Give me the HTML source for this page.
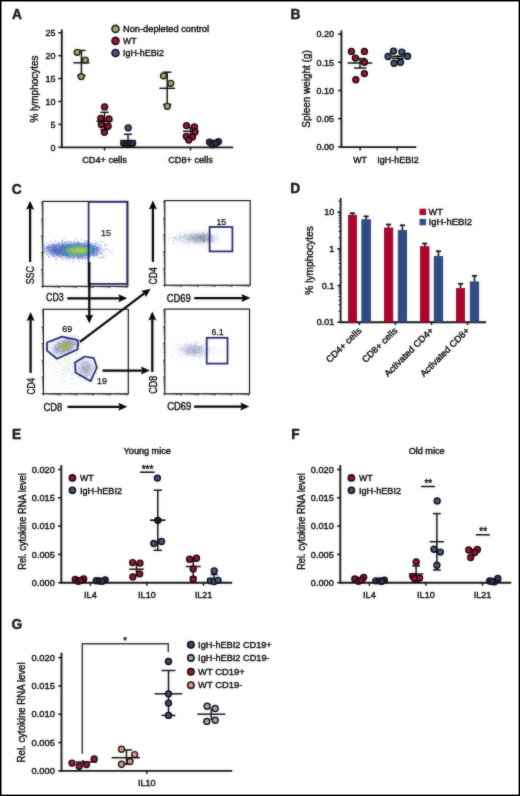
<!DOCTYPE html>
<html><head><meta charset="utf-8"><style>
html,body{margin:0;padding:0;background:#fff;}
body{width:520px;height:796px;overflow:hidden;}
svg{display:block;font-family:"Liberation Sans",sans-serif;will-change:transform;}

text{stroke:#0a0a0a;stroke-width:0.4px;}
</style></head><body>
<svg width="520" height="796" viewBox="0 0 520 796">
<defs><filter id="soft" filterUnits="userSpaceOnUse" x="0" y="0" width="520" height="796" color-interpolation-filters="sRGB"><feGaussianBlur in="SourceGraphic" stdDeviation="0.8" result="b"/><feComposite in="SourceGraphic" in2="b" operator="arithmetic" k1="0" k2="0.6" k3="0.4" k4="0"/></filter></defs>
<g filter="url(#soft)">
<rect x="0" y="0" width="520" height="796" fill="#fff"/>
<rect x="0" y="0" width="520" height="796" fill="#fff"/>
<text x="12.00" y="19.40" font-size="14.8" text-anchor="start" fill="#111" textLength="9.94" lengthAdjust="spacingAndGlyphs" font-weight="bold" >A</text>
<line x1="61.80" y1="29.40" x2="61.80" y2="148.10" stroke="#111" stroke-width="1.85" stroke-linecap="butt"/>
<line x1="61.00" y1="147.30" x2="233.20" y2="147.30" stroke="#111" stroke-width="1.85" stroke-linecap="butt"/>
<line x1="58.30" y1="32.75" x2="61.80" y2="32.75" stroke="#111" stroke-width="1.55" stroke-linecap="butt"/>
<text x="55.60" y="35.95" font-size="9.0" text-anchor="end" fill="#0a0a0a" >25</text>
<line x1="58.30" y1="55.66" x2="61.80" y2="55.66" stroke="#111" stroke-width="1.55" stroke-linecap="butt"/>
<text x="55.60" y="58.86" font-size="9.0" text-anchor="end" fill="#0a0a0a" >20</text>
<line x1="58.30" y1="78.57" x2="61.80" y2="78.57" stroke="#111" stroke-width="1.55" stroke-linecap="butt"/>
<text x="55.60" y="81.77" font-size="9.0" text-anchor="end" fill="#0a0a0a" >15</text>
<line x1="58.30" y1="101.48" x2="61.80" y2="101.48" stroke="#111" stroke-width="1.55" stroke-linecap="butt"/>
<text x="55.60" y="104.68" font-size="9.0" text-anchor="end" fill="#0a0a0a" >10</text>
<line x1="58.30" y1="124.39" x2="61.80" y2="124.39" stroke="#111" stroke-width="1.55" stroke-linecap="butt"/>
<text x="55.60" y="127.59" font-size="9.0" text-anchor="end" fill="#0a0a0a" >5</text>
<line x1="58.30" y1="147.30" x2="61.80" y2="147.30" stroke="#111" stroke-width="1.55" stroke-linecap="butt"/>
<text x="55.60" y="150.50" font-size="9.0" text-anchor="end" fill="#0a0a0a" >0</text>
<text x="38.20" y="89.00" font-size="11.3" text-anchor="middle" fill="#0a0a0a" textLength="67" lengthAdjust="spacingAndGlyphs" transform="rotate(-90 38.20 89.00)" >% lymphocytes</text>
<line x1="104.50" y1="147.30" x2="104.50" y2="150.50" stroke="#111" stroke-width="1.45" stroke-linecap="butt"/>
<line x1="190.50" y1="147.30" x2="190.50" y2="150.50" stroke="#111" stroke-width="1.45" stroke-linecap="butt"/>
<text x="104.50" y="162.80" font-size="9.1" text-anchor="middle" fill="#0a0a0a" textLength="44.5" lengthAdjust="spacingAndGlyphs" >CD4+ cells</text>
<text x="190.50" y="162.80" font-size="9.1" text-anchor="middle" fill="#0a0a0a" textLength="44.5" lengthAdjust="spacingAndGlyphs" >CD8+ cells</text>
<circle cx="115.50" cy="28.90" r="3.5" fill="#94b07a" stroke="#142008" stroke-width="1.6"/>
<text x="123.00" y="32.20" font-size="9.3" text-anchor="start" fill="#0a0a0a" textLength="86" lengthAdjust="spacingAndGlyphs" >Non-depleted control</text>
<circle cx="115.50" cy="40.90" r="3.5" fill="#9a1638" stroke="#1e0408" stroke-width="1.6"/>
<text x="123.00" y="44.20" font-size="9.3" text-anchor="start" fill="#0a0a0a" textLength="13.5" lengthAdjust="spacingAndGlyphs" >WT</text>
<circle cx="115.50" cy="53.00" r="3.5" fill="#4b5779" stroke="#0a0e1a" stroke-width="1.6"/>
<text x="123.00" y="56.30" font-size="9.3" text-anchor="start" fill="#0a0a0a" textLength="41" lengthAdjust="spacingAndGlyphs" >IgH-hEBI2</text>
<line x1="81.40" y1="50.50" x2="81.40" y2="75.50" stroke="#111" stroke-width="1.5" stroke-linecap="butt"/>
<line x1="77.15" y1="50.50" x2="85.65" y2="50.50" stroke="#111" stroke-width="1.5" stroke-linecap="butt"/>
<line x1="77.15" y1="75.50" x2="85.65" y2="75.50" stroke="#111" stroke-width="1.5" stroke-linecap="butt"/>
<line x1="73.40" y1="62.80" x2="89.40" y2="62.80" stroke="#111" stroke-width="1.5" stroke-linecap="butt"/>
<circle cx="77.20" cy="52.30" r="2.95" fill="#94b07a" stroke="#142008" stroke-width="1.45"/>
<circle cx="85.30" cy="60.10" r="2.95" fill="#94b07a" stroke="#142008" stroke-width="1.45"/>
<circle cx="81.20" cy="76.60" r="2.95" fill="#94b07a" stroke="#142008" stroke-width="1.45"/>
<line x1="104.50" y1="112.30" x2="104.50" y2="129.50" stroke="#111" stroke-width="1.5" stroke-linecap="butt"/>
<line x1="100.25" y1="112.30" x2="108.75" y2="112.30" stroke="#111" stroke-width="1.5" stroke-linecap="butt"/>
<line x1="100.25" y1="129.50" x2="108.75" y2="129.50" stroke="#111" stroke-width="1.5" stroke-linecap="butt"/>
<line x1="96.50" y1="121.20" x2="112.50" y2="121.20" stroke="#111" stroke-width="1.5" stroke-linecap="butt"/>
<circle cx="104.60" cy="106.90" r="2.95" fill="#9a1638" stroke="#1e0408" stroke-width="1.45"/>
<circle cx="100.80" cy="118.30" r="2.95" fill="#9a1638" stroke="#1e0408" stroke-width="1.45"/>
<circle cx="109.00" cy="119.00" r="2.95" fill="#9a1638" stroke="#1e0408" stroke-width="1.45"/>
<circle cx="101.30" cy="124.50" r="2.95" fill="#9a1638" stroke="#1e0408" stroke-width="1.45"/>
<circle cx="108.10" cy="126.20" r="2.95" fill="#9a1638" stroke="#1e0408" stroke-width="1.45"/>
<circle cx="104.40" cy="132.20" r="2.95" fill="#9a1638" stroke="#1e0408" stroke-width="1.45"/>
<line x1="128.00" y1="134.30" x2="128.00" y2="146.00" stroke="#111" stroke-width="1.5" stroke-linecap="butt"/>
<line x1="124.00" y1="134.30" x2="132.00" y2="134.30" stroke="#111" stroke-width="1.5" stroke-linecap="butt"/>
<line x1="124.00" y1="146.00" x2="132.00" y2="146.00" stroke="#111" stroke-width="1.5" stroke-linecap="butt"/>
<line x1="120.20" y1="140.60" x2="135.80" y2="140.60" stroke="#111" stroke-width="1.5" stroke-linecap="butt"/>
<circle cx="128.20" cy="127.80" r="2.95" fill="#4b5779" stroke="#0a0e1a" stroke-width="1.45"/>
<circle cx="123.70" cy="143.30" r="2.95" fill="#2e3650" stroke="#0a0e1a" stroke-width="1.45"/>
<circle cx="126.80" cy="143.60" r="2.95" fill="#2e3650" stroke="#0a0e1a" stroke-width="1.45"/>
<circle cx="129.70" cy="143.40" r="2.95" fill="#2e3650" stroke="#0a0e1a" stroke-width="1.45"/>
<circle cx="132.60" cy="143.30" r="2.95" fill="#2e3650" stroke="#0a0e1a" stroke-width="1.45"/>
<line x1="167.20" y1="72.20" x2="167.20" y2="104.40" stroke="#111" stroke-width="1.5" stroke-linecap="butt"/>
<line x1="162.95" y1="72.20" x2="171.45" y2="72.20" stroke="#111" stroke-width="1.5" stroke-linecap="butt"/>
<line x1="162.95" y1="104.40" x2="171.45" y2="104.40" stroke="#111" stroke-width="1.5" stroke-linecap="butt"/>
<line x1="159.35" y1="88.30" x2="175.05" y2="88.30" stroke="#111" stroke-width="1.5" stroke-linecap="butt"/>
<circle cx="163.50" cy="75.80" r="2.95" fill="#94b07a" stroke="#142008" stroke-width="1.45"/>
<circle cx="170.70" cy="83.30" r="2.95" fill="#94b07a" stroke="#142008" stroke-width="1.45"/>
<circle cx="167.30" cy="106.30" r="2.95" fill="#94b07a" stroke="#142008" stroke-width="1.45"/>
<line x1="190.50" y1="127.50" x2="190.50" y2="137.00" stroke="#111" stroke-width="1.5" stroke-linecap="butt"/>
<line x1="186.50" y1="127.50" x2="194.50" y2="127.50" stroke="#111" stroke-width="1.5" stroke-linecap="butt"/>
<line x1="186.50" y1="137.00" x2="194.50" y2="137.00" stroke="#111" stroke-width="1.5" stroke-linecap="butt"/>
<line x1="183.00" y1="131.30" x2="198.00" y2="131.30" stroke="#111" stroke-width="1.5" stroke-linecap="butt"/>
<circle cx="186.50" cy="125.60" r="2.95" fill="#9a1638" stroke="#1e0408" stroke-width="1.45"/>
<circle cx="194.40" cy="126.90" r="2.95" fill="#9a1638" stroke="#1e0408" stroke-width="1.45"/>
<circle cx="195.00" cy="131.90" r="2.95" fill="#9a1638" stroke="#1e0408" stroke-width="1.45"/>
<circle cx="186.30" cy="136.30" r="2.95" fill="#9a1638" stroke="#1e0408" stroke-width="1.45"/>
<circle cx="192.50" cy="136.90" r="2.95" fill="#9a1638" stroke="#1e0408" stroke-width="1.45"/>
<circle cx="188.80" cy="140.00" r="2.95" fill="#9a1638" stroke="#1e0408" stroke-width="1.45"/>
<line x1="213.50" y1="140.50" x2="213.50" y2="145.00" stroke="#111" stroke-width="1.5" stroke-linecap="butt"/>
<line x1="210.00" y1="140.50" x2="217.00" y2="140.50" stroke="#111" stroke-width="1.5" stroke-linecap="butt"/>
<line x1="210.00" y1="145.00" x2="217.00" y2="145.00" stroke="#111" stroke-width="1.5" stroke-linecap="butt"/>
<line x1="206.50" y1="142.50" x2="220.50" y2="142.50" stroke="#111" stroke-width="1.5" stroke-linecap="butt"/>
<circle cx="209.50" cy="142.10" r="2.95" fill="#2e3650" stroke="#0a0e1a" stroke-width="1.45"/>
<circle cx="218.50" cy="141.60" r="2.95" fill="#2e3650" stroke="#0a0e1a" stroke-width="1.45"/>
<circle cx="212.40" cy="144.80" r="2.95" fill="#2e3650" stroke="#0a0e1a" stroke-width="1.45"/>
<circle cx="215.60" cy="143.40" r="2.95" fill="#2e3650" stroke="#0a0e1a" stroke-width="1.45"/>
<text x="290.50" y="19.30" font-size="14.8" text-anchor="start" fill="#111" textLength="9.94" lengthAdjust="spacingAndGlyphs" font-weight="bold" >B</text>
<line x1="341.40" y1="30.40" x2="341.40" y2="147.70" stroke="#111" stroke-width="1.85" stroke-linecap="butt"/>
<line x1="340.60" y1="147.10" x2="416.30" y2="147.10" stroke="#111" stroke-width="1.85" stroke-linecap="butt"/>
<line x1="338.10" y1="34.10" x2="341.40" y2="34.10" stroke="#111" stroke-width="1.55" stroke-linecap="butt"/>
<text x="334.00" y="37.30" font-size="9.0" text-anchor="end" fill="#0a0a0a" textLength="17.6" lengthAdjust="spacingAndGlyphs" >0.20</text>
<line x1="338.10" y1="62.30" x2="341.40" y2="62.30" stroke="#111" stroke-width="1.55" stroke-linecap="butt"/>
<text x="334.00" y="65.50" font-size="9.0" text-anchor="end" fill="#0a0a0a" textLength="17.6" lengthAdjust="spacingAndGlyphs" >0.15</text>
<line x1="338.10" y1="90.50" x2="341.40" y2="90.50" stroke="#111" stroke-width="1.55" stroke-linecap="butt"/>
<text x="334.00" y="93.70" font-size="9.0" text-anchor="end" fill="#0a0a0a" textLength="17.6" lengthAdjust="spacingAndGlyphs" >0.10</text>
<line x1="338.10" y1="118.70" x2="341.40" y2="118.70" stroke="#111" stroke-width="1.55" stroke-linecap="butt"/>
<text x="334.00" y="121.90" font-size="9.0" text-anchor="end" fill="#0a0a0a" textLength="17.6" lengthAdjust="spacingAndGlyphs" >0.05</text>
<line x1="338.10" y1="146.90" x2="341.40" y2="146.90" stroke="#111" stroke-width="1.55" stroke-linecap="butt"/>
<text x="334.00" y="150.10" font-size="9.0" text-anchor="end" fill="#0a0a0a" textLength="17.6" lengthAdjust="spacingAndGlyphs" >0.00</text>
<text x="310.20" y="89.00" font-size="11.0" text-anchor="middle" fill="#0a0a0a" textLength="77.5" lengthAdjust="spacingAndGlyphs" transform="rotate(-90 310.20 89.00)" >Spleen weight (g)</text>
<line x1="360.10" y1="147.10" x2="360.10" y2="150.60" stroke="#111" stroke-width="1.45" stroke-linecap="butt"/>
<line x1="397.30" y1="147.10" x2="397.30" y2="150.60" stroke="#111" stroke-width="1.45" stroke-linecap="butt"/>
<text x="360.10" y="162.70" font-size="9.1" text-anchor="middle" fill="#0a0a0a" textLength="13.8" lengthAdjust="spacingAndGlyphs" >WT</text>
<text x="398.00" y="162.70" font-size="9.1" text-anchor="middle" fill="#0a0a0a" textLength="41.5" lengthAdjust="spacingAndGlyphs" >IgH-hEBI2</text>
<line x1="360.00" y1="58.60" x2="360.00" y2="68.00" stroke="#111" stroke-width="1.5" stroke-linecap="butt"/>
<line x1="354.00" y1="58.60" x2="366.00" y2="58.60" stroke="#111" stroke-width="1.5" stroke-linecap="butt"/>
<line x1="354.00" y1="68.00" x2="366.50" y2="68.00" stroke="#111" stroke-width="1.5" stroke-linecap="butt"/>
<line x1="347.70" y1="63.00" x2="372.30" y2="63.00" stroke="#111" stroke-width="1.55" stroke-linecap="butt"/>
<circle cx="351.40" cy="51.40" r="2.95" fill="#9a1638" stroke="#1e0408" stroke-width="1.45"/>
<circle cx="364.40" cy="51.40" r="2.95" fill="#9a1638" stroke="#1e0408" stroke-width="1.45"/>
<circle cx="355.40" cy="58.10" r="2.95" fill="#9a1638" stroke="#1e0408" stroke-width="1.45"/>
<circle cx="364.40" cy="62.20" r="2.95" fill="#9a1638" stroke="#1e0408" stroke-width="1.45"/>
<circle cx="364.40" cy="73.60" r="2.95" fill="#9a1638" stroke="#1e0408" stroke-width="1.45"/>
<circle cx="355.80" cy="79.70" r="2.95" fill="#9a1638" stroke="#1e0408" stroke-width="1.45"/>
<circle cx="393.50" cy="51.10" r="2.95" fill="#4b5779" stroke="#0a0e1a" stroke-width="1.45"/>
<circle cx="401.90" cy="52.10" r="2.95" fill="#4b5779" stroke="#0a0e1a" stroke-width="1.45"/>
<circle cx="388.10" cy="56.50" r="2.95" fill="#4b5779" stroke="#0a0e1a" stroke-width="1.45"/>
<circle cx="407.60" cy="56.20" r="2.95" fill="#4b5779" stroke="#0a0e1a" stroke-width="1.45"/>
<circle cx="394.10" cy="63.20" r="2.95" fill="#4b5779" stroke="#0a0e1a" stroke-width="1.45"/>
<circle cx="400.50" cy="62.20" r="2.95" fill="#4b5779" stroke="#0a0e1a" stroke-width="1.45"/>
<line x1="391.80" y1="56.30" x2="403.90" y2="56.30" stroke="#111" stroke-width="1.45" stroke-linecap="butt"/>
<line x1="391.80" y1="58.30" x2="403.90" y2="58.30" stroke="#111" stroke-width="1.45" stroke-linecap="butt"/>
<line x1="397.80" y1="55.00" x2="397.80" y2="59.50" stroke="#111" stroke-width="1.45" stroke-linecap="butt"/>
<text x="11.80" y="194.40" font-size="14.8" text-anchor="start" fill="#111" textLength="9.9" lengthAdjust="spacingAndGlyphs" font-weight="bold">C</text>
<defs><filter id="bl" x="-50%" y="-50%" width="200%" height="200%"><feGaussianBlur stdDeviation="2.2"/></filter><filter id="bl2" x="-50%" y="-50%" width="200%" height="200%"><feGaussianBlur stdDeviation="1.2"/></filter></defs>
<ellipse cx="73" cy="250.0" rx="26" ry="6.2" fill="#3a5cb8" opacity="0.72" filter="url(#bl)"/>
<ellipse cx="79" cy="250.4" rx="15" ry="3.4" fill="#4aa0a0" opacity="0.85" filter="url(#bl2)"/>
<ellipse cx="80" cy="250.4" rx="11.5" ry="2.5" fill="#98c850" opacity="0.95" filter="url(#bl2)"/>
<path d="M104.7 248.9h.8v.8h-.8zM112.0 249.8h.8v.8h-.8zM103.3 256.7h.8v.8h-.8zM76.8 241.0h.8v.8h-.8zM87.1 258.8h.8v.8h-.8zM103.9 252.3h.8v.8h-.8zM68.1 240.7h.8v.8h-.8zM56.5 263.2h.8v.8h-.8zM85.0 241.9h.8v.8h-.8zM55.3 244.4h.8v.8h-.8zM86.6 242.1h.8v.8h-.8zM70.7 241.0h.8v.8h-.8zM87.9 241.0h.8v.8h-.8zM106.3 248.7h.8v.8h-.8zM100.8 247.7h.8v.8h-.8zM66.4 257.9h.8v.8h-.8zM86.1 263.3h.8v.8h-.8zM66.3 242.4h.8v.8h-.8zM95.4 240.2h.8v.8h-.8zM101.8 253.5h.8v.8h-.8zM77.4 258.4h.8v.8h-.8zM81.7 259.1h.8v.8h-.8zM101.2 252.5h.8v.8h-.8zM103.0 249.4h.8v.8h-.8zM46.4 248.7h.8v.8h-.8zM103.7 249.9h.8v.8h-.8zM79.2 260.6h.8v.8h-.8zM55.0 240.6h.8v.8h-.8zM78.2 241.4h.8v.8h-.8zM99.7 245.6h.8v.8h-.8zM76.6 238.4h.8v.8h-.8zM69.3 259.7h.8v.8h-.8zM45.4 247.2h.8v.8h-.8zM102.1 252.8h.8v.8h-.8zM72.5 261.4h.8v.8h-.8zM50.2 240.9h.8v.8h-.8zM43.5 252.4h.8v.8h-.8zM109.9 250.8h.8v.8h-.8zM86.8 258.7h.8v.8h-.8zM63.6 257.7h.8v.8h-.8zM98.2 257.2h.8v.8h-.8zM105.2 243.6h.8v.8h-.8zM102.6 249.3h.8v.8h-.8zM101.1 244.8h.8v.8h-.8zM104.2 245.8h.8v.8h-.8zM70.1 258.3h.8v.8h-.8zM102.9 241.4h.8v.8h-.8zM68.0 241.6h.8v.8h-.8zM103.1 255.8h.8v.8h-.8zM54.9 255.8h.8v.8h-.8zM111.6 252.7h.8v.8h-.8zM47.4 252.1h.8v.8h-.8zM54.2 255.4h.8v.8h-.8zM64.0 242.5h.8v.8h-.8zM61.5 241.8h.8v.8h-.8zM52.9 243.7h.8v.8h-.8zM50.4 245.4h.8v.8h-.8zM106.4 245.4h.8v.8h-.8zM73.4 258.9h.8v.8h-.8zM100.2 240.8h.8v.8h-.8zM45.4 247.8h.8v.8h-.8zM102.0 257.1h.8v.8h-.8zM46.5 254.1h.8v.8h-.8zM75.5 238.6h.8v.8h-.8zM100.2 258.2h.8v.8h-.8zM105.7 254.9h.8v.8h-.8zM45.7 249.6h.8v.8h-.8zM46.6 253.4h.8v.8h-.8zM98.6 244.4h.8v.8h-.8zM105.9 248.1h.8v.8h-.8zM64.3 237.4h.8v.8h-.8zM85.0 261.3h.8v.8h-.8zM95.9 242.6h.8v.8h-.8zM67.6 259.4h.8v.8h-.8zM96.1 255.5h.8v.8h-.8zM49.3 244.6h.8v.8h-.8zM103.7 255.6h.8v.8h-.8zM48.6 247.2h.8v.8h-.8zM61.8 240.1h.8v.8h-.8zM66.2 258.8h.8v.8h-.8zM49.6 246.8h.8v.8h-.8zM64.3 242.2h.8v.8h-.8zM43.5 246.2h.8v.8h-.8zM97.3 244.9h.8v.8h-.8zM62.2 242.8h.8v.8h-.8zM101.1 253.0h.8v.8h-.8zM81.7 259.2h.8v.8h-.8zM97.3 255.8h.8v.8h-.8zM104.3 246.1h.8v.8h-.8zM100.7 247.3h.8v.8h-.8zM93.7 243.1h.8v.8h-.8zM43.8 248.8h.8v.8h-.8zM96.1 243.0h.8v.8h-.8zM86.5 240.1h.8v.8h-.8zM104.9 243.9h.8v.8h-.8zM101.4 247.8h.8v.8h-.8zM61.3 257.4h.8v.8h-.8zM74.2 258.9h.8v.8h-.8zM86.1 240.2h.8v.8h-.8zM87.7 258.5h.8v.8h-.8zM47.3 250.1h.8v.8h-.8zM47.2 246.9h.8v.8h-.8zM101.1 248.9h.8v.8h-.8zM79.8 258.5h.8v.8h-.8zM100.9 256.8h.8v.8h-.8zM80.5 239.0h.8v.8h-.8zM48.6 246.2h.8v.8h-.8zM66.0 241.6h.8v.8h-.8zM63.5 257.6h.8v.8h-.8zM58.1 243.0h.8v.8h-.8zM44.6 251.5h.8v.8h-.8zM62.9 260.0h.8v.8h-.8zM73.4 240.8h.8v.8h-.8zM86.3 257.9h.8v.8h-.8zM74.0 240.8h.8v.8h-.8zM47.6 246.0h.8v.8h-.8zM95.2 243.7h.8v.8h-.8zM94.1 257.9h.8v.8h-.8zM54.6 258.8h.8v.8h-.8zM101.5 242.0h.8v.8h-.8zM48.4 246.6h.8v.8h-.8zM61.3 258.3h.8v.8h-.8zM44.2 251.6h.8v.8h-.8zM53.0 245.4h.8v.8h-.8zM69.1 241.8h.8v.8h-.8zM100.2 256.9h.8v.8h-.8zM59.2 242.0h.8v.8h-.8zM97.4 241.3h.8v.8h-.8zM72.2 261.6h.8v.8h-.8zM93.5 243.0h.8v.8h-.8zM84.3 240.3h.8v.8h-.8zM62.2 241.1h.8v.8h-.8zM62.2 240.7h.8v.8h-.8zM54.2 255.3h.8v.8h-.8zM69.1 258.0h.8v.8h-.8zM99.3 253.8h.8v.8h-.8zM97.9 243.0h.8v.8h-.8zM56.3 258.1h.8v.8h-.8zM58.9 256.6h.8v.8h-.8zM99.0 244.3h.8v.8h-.8zM108.5 250.2h.8v.8h-.8zM87.3 242.1h.8v.8h-.8zM50.5 244.3h.8v.8h-.8z" fill="#5a70c8" fill-opacity="0.8"/>
<path d="M62.0 245.1h.8v.8h-.8zM94.3 253.7h.8v.8h-.8zM53.9 252.7h.8v.8h-.8zM97.7 248.1h.8v.8h-.8zM96.7 248.8h.8v.8h-.8zM69.3 257.4h.8v.8h-.8zM53.9 246.6h.8v.8h-.8zM94.5 246.2h.8v.8h-.8zM77.9 257.1h.8v.8h-.8zM53.5 247.3h.8v.8h-.8zM59.9 256.1h.8v.8h-.8zM100.8 250.9h.8v.8h-.8zM76.5 241.9h.8v.8h-.8zM95.4 245.5h.8v.8h-.8zM57.5 253.3h.8v.8h-.8zM99.6 249.7h.8v.8h-.8zM54.1 252.6h.8v.8h-.8zM51.4 252.9h.8v.8h-.8zM89.1 243.7h.8v.8h-.8zM68.3 256.7h.8v.8h-.8zM70.0 256.3h.8v.8h-.8zM59.5 254.2h.8v.8h-.8zM57.4 244.1h.8v.8h-.8zM92.0 245.3h.8v.8h-.8zM74.5 243.1h.8v.8h-.8zM83.9 257.9h.8v.8h-.8zM54.9 248.5h.8v.8h-.8zM65.9 257.5h.8v.8h-.8zM56.2 248.0h.8v.8h-.8zM66.4 255.8h.8v.8h-.8zM91.1 243.3h.8v.8h-.8zM84.1 257.2h.8v.8h-.8zM58.6 254.0h.8v.8h-.8zM87.6 242.5h.8v.8h-.8zM77.5 243.1h.8v.8h-.8zM55.9 251.5h.8v.8h-.8zM70.8 243.0h.8v.8h-.8zM93.1 245.7h.8v.8h-.8zM71.2 242.8h.8v.8h-.8zM97.0 249.3h.8v.8h-.8zM78.2 243.4h.8v.8h-.8zM95.4 245.3h.8v.8h-.8zM70.9 243.9h.8v.8h-.8zM78.8 258.3h.8v.8h-.8zM56.0 255.2h.8v.8h-.8zM98.4 253.7h.8v.8h-.8zM97.3 249.1h.8v.8h-.8zM94.9 255.3h.8v.8h-.8zM96.7 246.1h.8v.8h-.8zM78.1 242.7h.8v.8h-.8zM95.7 254.4h.8v.8h-.8zM98.5 246.8h.8v.8h-.8zM55.4 248.1h.8v.8h-.8zM76.6 241.9h.8v.8h-.8zM82.1 256.4h.8v.8h-.8zM55.4 249.1h.8v.8h-.8zM90.0 244.5h.8v.8h-.8zM89.5 243.1h.8v.8h-.8zM52.5 245.8h.8v.8h-.8zM77.1 257.9h.8v.8h-.8zM61.7 254.9h.8v.8h-.8zM89.0 255.3h.8v.8h-.8zM97.6 250.1h.8v.8h-.8zM89.6 244.2h.8v.8h-.8zM89.4 256.0h.8v.8h-.8zM81.0 243.0h.8v.8h-.8zM96.5 249.2h.8v.8h-.8zM54.4 249.6h.8v.8h-.8zM88.3 255.4h.8v.8h-.8zM73.3 243.0h.8v.8h-.8zM93.3 256.2h.8v.8h-.8zM92.4 254.9h.8v.8h-.8zM71.8 257.9h.8v.8h-.8zM89.3 243.7h.8v.8h-.8zM51.2 246.7h.8v.8h-.8zM51.4 253.4h.8v.8h-.8zM74.4 241.9h.8v.8h-.8zM64.8 243.4h.8v.8h-.8zM56.7 253.3h.8v.8h-.8zM51.4 246.7h.8v.8h-.8zM93.4 253.9h.8v.8h-.8zM93.5 245.7h.8v.8h-.8zM100.0 251.6h.8v.8h-.8zM86.4 257.3h.8v.8h-.8zM95.4 245.5h.8v.8h-.8zM66.3 244.2h.8v.8h-.8zM78.9 256.9h.8v.8h-.8zM87.3 257.5h.8v.8h-.8zM52.0 249.7h.8v.8h-.8zM56.6 252.4h.8v.8h-.8zM83.0 243.5h.8v.8h-.8zM53.5 246.6h.8v.8h-.8zM77.0 256.8h.8v.8h-.8zM98.6 253.6h.8v.8h-.8zM94.7 253.7h.8v.8h-.8zM87.6 244.2h.8v.8h-.8zM57.9 254.6h.8v.8h-.8zM61.1 254.5h.8v.8h-.8zM96.9 253.9h.8v.8h-.8zM68.1 255.8h.8v.8h-.8zM55.7 247.2h.8v.8h-.8zM95.1 247.7h.8v.8h-.8zM74.7 257.1h.8v.8h-.8zM54.5 247.3h.8v.8h-.8zM62.3 256.5h.8v.8h-.8zM97.2 248.4h.8v.8h-.8zM89.5 256.5h.8v.8h-.8zM89.3 244.0h.8v.8h-.8zM87.8 244.0h.8v.8h-.8zM85.0 243.1h.8v.8h-.8zM61.4 245.6h.8v.8h-.8zM84.9 257.3h.8v.8h-.8zM54.2 252.5h.8v.8h-.8zM53.9 248.8h.8v.8h-.8zM58.6 254.1h.8v.8h-.8zM87.0 244.3h.8v.8h-.8zM64.9 244.2h.8v.8h-.8zM84.8 257.5h.8v.8h-.8zM57.2 244.7h.8v.8h-.8zM93.4 254.8h.8v.8h-.8zM56.0 254.4h.8v.8h-.8zM96.4 247.3h.8v.8h-.8zM78.9 256.9h.8v.8h-.8zM79.9 256.8h.8v.8h-.8zM89.5 244.8h.8v.8h-.8zM50.0 247.5h.8v.8h-.8zM91.5 244.6h.8v.8h-.8zM58.2 254.8h.8v.8h-.8zM56.6 244.5h.8v.8h-.8zM55.9 253.2h.8v.8h-.8zM72.8 257.5h.8v.8h-.8zM72.8 257.3h.8v.8h-.8zM87.4 243.3h.8v.8h-.8zM96.3 254.7h.8v.8h-.8zM78.5 256.9h.8v.8h-.8zM76.1 243.5h.8v.8h-.8zM98.7 250.7h.8v.8h-.8zM99.0 247.2h.8v.8h-.8zM92.5 254.3h.8v.8h-.8zM89.5 255.8h.8v.8h-.8zM62.1 244.2h.8v.8h-.8zM62.4 243.5h.8v.8h-.8zM48.7 250.0h.8v.8h-.8zM97.1 252.2h.8v.8h-.8zM68.4 256.4h.8v.8h-.8zM93.1 254.8h.8v.8h-.8zM52.9 248.4h.8v.8h-.8zM93.5 255.4h.8v.8h-.8zM60.5 254.3h.8v.8h-.8zM96.2 252.8h.8v.8h-.8zM69.6 256.9h.8v.8h-.8zM95.2 248.0h.8v.8h-.8zM72.0 257.3h.8v.8h-.8zM91.5 244.2h.8v.8h-.8zM63.0 255.1h.8v.8h-.8zM89.8 244.7h.8v.8h-.8zM79.8 243.1h.8v.8h-.8zM96.1 250.6h.8v.8h-.8zM81.0 257.8h.8v.8h-.8zM78.1 257.8h.8v.8h-.8zM83.3 243.6h.8v.8h-.8zM66.0 255.7h.8v.8h-.8zM53.4 251.1h.8v.8h-.8zM84.7 257.5h.8v.8h-.8zM82.4 256.7h.8v.8h-.8zM97.0 247.1h.8v.8h-.8zM87.5 244.0h.8v.8h-.8zM78.1 258.2h.8v.8h-.8zM72.2 257.1h.8v.8h-.8zM88.1 244.1h.8v.8h-.8zM69.1 243.8h.8v.8h-.8zM72.9 243.3h.8v.8h-.8zM65.3 255.6h.8v.8h-.8zM55.3 244.7h.8v.8h-.8zM90.5 245.2h.8v.8h-.8zM83.5 242.5h.8v.8h-.8zM65.2 244.6h.8v.8h-.8zM95.8 248.5h.8v.8h-.8zM98.4 251.7h.8v.8h-.8zM97.7 247.9h.8v.8h-.8zM82.6 257.5h.8v.8h-.8zM55.5 254.7h.8v.8h-.8zM77.8 256.7h.8v.8h-.8zM71.0 256.2h.8v.8h-.8zM57.7 255.7h.8v.8h-.8zM96.4 249.0h.8v.8h-.8zM81.6 256.4h.8v.8h-.8zM87.3 243.5h.8v.8h-.8zM72.8 256.7h.8v.8h-.8zM87.3 243.2h.8v.8h-.8zM55.1 252.5h.8v.8h-.8zM55.2 253.0h.8v.8h-.8zM94.0 244.8h.8v.8h-.8zM96.7 252.8h.8v.8h-.8zM56.5 245.5h.8v.8h-.8zM84.1 242.2h.8v.8h-.8zM91.9 244.7h.8v.8h-.8zM95.5 246.4h.8v.8h-.8zM96.5 251.4h.8v.8h-.8zM55.1 250.0h.8v.8h-.8zM96.6 253.6h.8v.8h-.8zM52.6 251.5h.8v.8h-.8zM96.7 252.3h.8v.8h-.8zM79.0 243.3h.8v.8h-.8zM89.3 244.8h.8v.8h-.8zM77.3 242.4h.8v.8h-.8zM99.7 247.9h.8v.8h-.8zM53.0 246.3h.8v.8h-.8zM98.1 250.0h.8v.8h-.8zM52.7 247.8h.8v.8h-.8zM58.2 245.7h.8v.8h-.8zM54.7 246.3h.8v.8h-.8zM73.4 256.4h.8v.8h-.8zM96.7 249.6h.8v.8h-.8zM53.7 249.8h.8v.8h-.8zM59.2 255.9h.8v.8h-.8zM89.8 255.2h.8v.8h-.8zM93.3 246.1h.8v.8h-.8zM93.6 246.1h.8v.8h-.8zM98.0 247.7h.8v.8h-.8zM89.2 244.4h.8v.8h-.8zM66.9 243.5h.8v.8h-.8zM93.4 254.0h.8v.8h-.8zM82.1 257.7h.8v.8h-.8zM62.8 244.8h.8v.8h-.8zM91.8 254.9h.8v.8h-.8zM55.1 251.1h.8v.8h-.8zM83.5 243.1h.8v.8h-.8zM89.2 244.3h.8v.8h-.8zM96.3 254.4h.8v.8h-.8zM89.1 256.0h.8v.8h-.8zM79.7 243.0h.8v.8h-.8zM81.5 258.1h.8v.8h-.8zM74.5 243.5h.8v.8h-.8zM96.8 247.4h.8v.8h-.8zM95.9 250.6h.8v.8h-.8zM85.1 257.8h.8v.8h-.8z" fill="#3456b8" fill-opacity="0.8"/>
<path d="M60.4 249.8h.8v.8h-.8zM68.0 245.7h.8v.8h-.8zM59.1 249.3h.8v.8h-.8zM58.4 250.0h.8v.8h-.8zM87.4 245.0h.8v.8h-.8zM91.6 252.4h.8v.8h-.8zM95.4 248.6h.8v.8h-.8zM84.9 255.7h.8v.8h-.8zM88.8 254.0h.8v.8h-.8zM87.7 245.7h.8v.8h-.8zM90.2 252.7h.8v.8h-.8zM79.6 255.1h.8v.8h-.8zM89.0 246.5h.8v.8h-.8zM80.1 255.9h.8v.8h-.8zM86.2 255.4h.8v.8h-.8zM93.5 249.3h.8v.8h-.8zM72.3 245.3h.8v.8h-.8zM93.1 250.7h.8v.8h-.8zM56.5 250.7h.8v.8h-.8zM77.2 244.1h.8v.8h-.8zM66.3 254.6h.8v.8h-.8zM87.5 246.3h.8v.8h-.8zM62.3 247.4h.8v.8h-.8zM91.5 252.6h.8v.8h-.8zM77.3 245.0h.8v.8h-.8zM93.4 253.2h.8v.8h-.8zM92.3 251.0h.8v.8h-.8zM72.4 255.4h.8v.8h-.8zM91.2 246.9h.8v.8h-.8zM69.4 255.0h.8v.8h-.8zM74.3 245.2h.8v.8h-.8zM65.0 246.0h.8v.8h-.8zM61.3 245.8h.8v.8h-.8zM93.6 247.5h.8v.8h-.8zM65.0 245.3h.8v.8h-.8zM56.7 249.4h.8v.8h-.8zM87.2 245.1h.8v.8h-.8zM73.4 255.9h.8v.8h-.8zM84.0 254.9h.8v.8h-.8zM67.0 254.2h.8v.8h-.8zM91.8 253.8h.8v.8h-.8zM83.0 255.1h.8v.8h-.8zM87.2 245.8h.8v.8h-.8zM80.1 256.1h.8v.8h-.8zM61.6 253.3h.8v.8h-.8zM55.4 249.8h.8v.8h-.8zM57.7 249.9h.8v.8h-.8zM66.4 245.9h.8v.8h-.8zM93.3 250.0h.8v.8h-.8zM71.8 243.9h.8v.8h-.8zM61.8 245.9h.8v.8h-.8zM93.2 249.8h.8v.8h-.8zM59.7 246.3h.8v.8h-.8zM60.4 249.1h.8v.8h-.8zM74.4 255.9h.8v.8h-.8zM88.3 255.3h.8v.8h-.8zM59.5 252.0h.8v.8h-.8zM82.0 244.8h.8v.8h-.8zM62.4 247.1h.8v.8h-.8zM91.9 252.9h.8v.8h-.8zM60.2 248.3h.8v.8h-.8zM84.1 245.1h.8v.8h-.8zM82.4 255.4h.8v.8h-.8zM75.6 244.2h.8v.8h-.8zM64.9 254.8h.8v.8h-.8zM86.5 255.7h.8v.8h-.8zM93.2 248.8h.8v.8h-.8zM91.2 252.7h.8v.8h-.8zM89.2 254.9h.8v.8h-.8zM93.6 248.9h.8v.8h-.8zM75.0 244.1h.8v.8h-.8zM85.8 245.0h.8v.8h-.8zM92.8 248.6h.8v.8h-.8zM57.2 249.1h.8v.8h-.8zM89.9 253.6h.8v.8h-.8zM80.5 256.0h.8v.8h-.8zM86.9 255.7h.8v.8h-.8zM74.6 245.0h.8v.8h-.8zM91.8 248.6h.8v.8h-.8zM57.3 251.2h.8v.8h-.8zM65.4 254.5h.8v.8h-.8zM86.0 245.1h.8v.8h-.8zM62.8 253.5h.8v.8h-.8zM69.4 244.6h.8v.8h-.8zM86.0 245.6h.8v.8h-.8zM58.8 249.6h.8v.8h-.8zM61.4 253.4h.8v.8h-.8zM68.7 245.6h.8v.8h-.8zM67.9 254.6h.8v.8h-.8zM85.3 245.3h.8v.8h-.8zM88.9 254.7h.8v.8h-.8zM59.8 247.3h.8v.8h-.8zM84.6 245.3h.8v.8h-.8zM79.7 255.0h.8v.8h-.8zM68.1 244.5h.8v.8h-.8zM65.2 253.4h.8v.8h-.8zM92.1 248.7h.8v.8h-.8zM63.8 245.9h.8v.8h-.8zM79.8 243.7h.8v.8h-.8zM76.9 244.9h.8v.8h-.8zM93.6 251.9h.8v.8h-.8zM81.9 256.2h.8v.8h-.8zM83.2 255.1h.8v.8h-.8zM64.6 254.0h.8v.8h-.8zM89.0 246.6h.8v.8h-.8zM92.3 247.5h.8v.8h-.8zM75.6 255.4h.8v.8h-.8zM56.3 251.5h.8v.8h-.8zM60.1 248.1h.8v.8h-.8zM66.0 254.3h.8v.8h-.8zM81.4 254.9h.8v.8h-.8zM60.8 246.6h.8v.8h-.8zM77.3 255.0h.8v.8h-.8zM87.2 254.9h.8v.8h-.8zM55.4 250.4h.8v.8h-.8zM56.8 251.7h.8v.8h-.8zM80.4 243.8h.8v.8h-.8zM92.6 249.4h.8v.8h-.8zM67.1 254.9h.8v.8h-.8zM87.8 246.2h.8v.8h-.8zM94.1 249.8h.8v.8h-.8zM80.6 243.9h.8v.8h-.8zM75.8 244.4h.8v.8h-.8zM74.8 255.9h.8v.8h-.8zM92.9 250.8h.8v.8h-.8zM82.2 255.7h.8v.8h-.8zM86.4 254.9h.8v.8h-.8zM86.7 254.1h.8v.8h-.8zM77.4 255.6h.8v.8h-.8zM67.1 253.8h.8v.8h-.8zM65.4 246.2h.8v.8h-.8zM58.7 250.2h.8v.8h-.8zM60.3 248.4h.8v.8h-.8zM70.4 255.6h.8v.8h-.8zM71.8 244.5h.8v.8h-.8zM86.5 254.5h.8v.8h-.8zM91.5 253.6h.8v.8h-.8zM67.1 255.5h.8v.8h-.8zM73.8 244.9h.8v.8h-.8zM94.1 251.8h.8v.8h-.8zM73.9 256.0h.8v.8h-.8zM68.2 245.6h.8v.8h-.8zM64.2 254.9h.8v.8h-.8zM83.3 244.0h.8v.8h-.8zM65.8 254.1h.8v.8h-.8zM68.9 255.7h.8v.8h-.8zM75.9 255.7h.8v.8h-.8zM87.7 245.8h.8v.8h-.8zM64.3 247.1h.8v.8h-.8zM63.3 247.2h.8v.8h-.8zM86.8 245.4h.8v.8h-.8zM89.8 245.6h.8v.8h-.8zM75.3 255.4h.8v.8h-.8zM82.8 255.2h.8v.8h-.8zM90.5 245.7h.8v.8h-.8zM83.9 255.3h.8v.8h-.8zM61.8 246.5h.8v.8h-.8zM91.8 248.1h.8v.8h-.8zM94.3 249.8h.8v.8h-.8zM87.6 254.3h.8v.8h-.8zM66.6 254.9h.8v.8h-.8zM80.2 255.0h.8v.8h-.8zM78.2 244.9h.8v.8h-.8zM73.2 255.6h.8v.8h-.8zM63.2 254.3h.8v.8h-.8zM93.0 250.8h.8v.8h-.8zM69.9 245.4h.8v.8h-.8zM85.9 245.2h.8v.8h-.8zM62.4 253.2h.8v.8h-.8zM86.2 254.8h.8v.8h-.8zM62.5 245.6h.8v.8h-.8zM63.0 252.9h.8v.8h-.8zM76.8 244.0h.8v.8h-.8zM66.4 253.8h.8v.8h-.8zM64.5 246.8h.8v.8h-.8zM55.7 249.4h.8v.8h-.8zM74.3 255.6h.8v.8h-.8zM82.4 244.7h.8v.8h-.8zM94.9 252.3h.8v.8h-.8zM92.4 251.6h.8v.8h-.8zM94.3 247.5h.8v.8h-.8zM57.6 250.2h.8v.8h-.8zM92.0 253.8h.8v.8h-.8zM85.7 254.4h.8v.8h-.8zM65.0 253.2h.8v.8h-.8zM77.4 256.1h.8v.8h-.8zM63.0 254.2h.8v.8h-.8zM61.3 252.2h.8v.8h-.8zM94.1 251.3h.8v.8h-.8zM80.2 245.0h.8v.8h-.8zM94.2 248.2h.8v.8h-.8zM63.5 254.5h.8v.8h-.8zM91.8 250.9h.8v.8h-.8zM94.1 249.4h.8v.8h-.8zM67.8 255.1h.8v.8h-.8zM61.1 246.9h.8v.8h-.8zM64.3 246.6h.8v.8h-.8zM86.3 244.9h.8v.8h-.8zM60.7 249.4h.8v.8h-.8zM77.6 255.0h.8v.8h-.8zM80.1 255.5h.8v.8h-.8zM75.9 244.4h.8v.8h-.8zM94.0 253.1h.8v.8h-.8zM59.8 246.5h.8v.8h-.8zM89.0 254.7h.8v.8h-.8zM88.9 254.3h.8v.8h-.8zM90.9 245.9h.8v.8h-.8zM70.4 256.0h.8v.8h-.8zM60.6 251.3h.8v.8h-.8zM86.6 255.5h.8v.8h-.8zM58.6 250.0h.8v.8h-.8zM59.7 250.9h.8v.8h-.8zM88.8 246.7h.8v.8h-.8zM91.5 253.3h.8v.8h-.8zM76.8 254.9h.8v.8h-.8zM59.1 250.6h.8v.8h-.8zM92.1 247.8h.8v.8h-.8zM92.6 252.2h.8v.8h-.8zM85.0 255.4h.8v.8h-.8zM84.5 255.1h.8v.8h-.8zM92.3 248.4h.8v.8h-.8zM83.1 254.8h.8v.8h-.8zM92.6 248.3h.8v.8h-.8zM59.6 252.4h.8v.8h-.8zM75.8 256.0h.8v.8h-.8zM80.5 244.5h.8v.8h-.8zM58.3 247.2h.8v.8h-.8zM62.4 253.1h.8v.8h-.8zM70.9 245.2h.8v.8h-.8zM94.1 251.7h.8v.8h-.8zM60.4 250.4h.8v.8h-.8zM62.0 253.3h.8v.8h-.8zM67.4 245.3h.8v.8h-.8zM60.3 252.2h.8v.8h-.8zM67.0 255.0h.8v.8h-.8zM91.3 251.8h.8v.8h-.8zM64.5 253.2h.8v.8h-.8zM73.4 243.7h.8v.8h-.8zM78.6 245.0h.8v.8h-.8zM78.8 255.9h.8v.8h-.8zM86.0 254.6h.8v.8h-.8zM90.6 246.5h.8v.8h-.8zM64.8 255.1h.8v.8h-.8zM71.4 244.6h.8v.8h-.8zM64.6 253.9h.8v.8h-.8zM83.5 244.0h.8v.8h-.8zM82.8 255.8h.8v.8h-.8zM61.6 247.8h.8v.8h-.8zM81.4 255.2h.8v.8h-.8zM92.0 247.1h.8v.8h-.8zM81.1 256.0h.8v.8h-.8zM93.8 251.7h.8v.8h-.8zM61.2 248.7h.8v.8h-.8zM94.3 250.8h.8v.8h-.8zM68.2 244.9h.8v.8h-.8zM72.1 254.7h.8v.8h-.8zM91.7 245.9h.8v.8h-.8zM64.3 246.1h.8v.8h-.8zM83.0 244.9h.8v.8h-.8zM70.3 244.7h.8v.8h-.8zM57.2 252.5h.8v.8h-.8zM63.5 247.3h.8v.8h-.8zM91.1 246.7h.8v.8h-.8zM61.5 247.5h.8v.8h-.8zM94.2 252.8h.8v.8h-.8zM85.3 244.4h.8v.8h-.8zM66.2 246.1h.8v.8h-.8zM92.0 247.2h.8v.8h-.8zM87.7 245.1h.8v.8h-.8zM93.8 249.3h.8v.8h-.8zM84.9 255.7h.8v.8h-.8zM62.1 245.7h.8v.8h-.8zM80.1 243.9h.8v.8h-.8zM86.7 245.8h.8v.8h-.8zM83.4 255.2h.8v.8h-.8zM89.1 246.7h.8v.8h-.8zM62.7 254.0h.8v.8h-.8zM63.8 254.3h.8v.8h-.8zM66.6 253.9h.8v.8h-.8zM70.5 254.7h.8v.8h-.8zM56.7 250.7h.8v.8h-.8zM83.0 255.0h.8v.8h-.8zM76.8 245.1h.8v.8h-.8zM85.8 244.9h.8v.8h-.8zM68.3 244.6h.8v.8h-.8zM77.4 255.1h.8v.8h-.8zM62.4 246.4h.8v.8h-.8zM59.9 246.1h.8v.8h-.8zM91.8 246.0h.8v.8h-.8zM92.8 252.2h.8v.8h-.8zM82.7 255.3h.8v.8h-.8zM92.2 248.3h.8v.8h-.8zM69.4 255.5h.8v.8h-.8zM78.1 243.6h.8v.8h-.8zM71.5 244.2h.8v.8h-.8zM92.5 249.2h.8v.8h-.8zM89.8 254.3h.8v.8h-.8zM63.2 247.0h.8v.8h-.8zM80.7 244.8h.8v.8h-.8zM62.1 253.0h.8v.8h-.8zM65.5 254.1h.8v.8h-.8zM63.8 253.6h.8v.8h-.8zM87.9 254.2h.8v.8h-.8zM78.3 256.4h.8v.8h-.8zM82.6 245.0h.8v.8h-.8zM87.8 246.3h.8v.8h-.8zM92.1 249.7h.8v.8h-.8zM79.7 244.5h.8v.8h-.8zM57.0 249.4h.8v.8h-.8zM80.6 245.0h.8v.8h-.8zM60.9 249.0h.8v.8h-.8zM79.8 255.5h.8v.8h-.8zM58.6 251.6h.8v.8h-.8zM87.7 253.9h.8v.8h-.8zM80.9 256.1h.8v.8h-.8zM80.9 243.8h.8v.8h-.8zM87.0 245.1h.8v.8h-.8zM91.6 248.2h.8v.8h-.8zM79.5 256.2h.8v.8h-.8z" fill="#3070c0" fill-opacity="0.8"/>
<path d="M61.9 251.4h.8v.8h-.8zM88.9 248.0h.8v.8h-.8zM83.8 254.2h.8v.8h-.8zM90.0 250.8h.8v.8h-.8zM80.0 246.2h.8v.8h-.8zM84.6 246.9h.8v.8h-.8zM88.5 247.7h.8v.8h-.8zM89.0 249.5h.8v.8h-.8zM64.8 248.5h.8v.8h-.8zM86.8 252.7h.8v.8h-.8zM81.4 253.7h.8v.8h-.8zM68.3 253.0h.8v.8h-.8zM90.1 248.9h.8v.8h-.8zM83.3 253.3h.8v.8h-.8zM90.2 252.2h.8v.8h-.8zM69.3 247.4h.8v.8h-.8zM77.1 246.3h.8v.8h-.8zM73.8 245.8h.8v.8h-.8zM82.4 253.8h.8v.8h-.8zM86.2 247.4h.8v.8h-.8zM86.7 253.4h.8v.8h-.8zM81.3 253.8h.8v.8h-.8zM67.5 246.8h.8v.8h-.8zM89.9 249.5h.8v.8h-.8zM68.5 247.0h.8v.8h-.8zM90.3 250.3h.8v.8h-.8zM73.5 245.6h.8v.8h-.8zM86.5 253.0h.8v.8h-.8zM66.0 253.4h.8v.8h-.8zM89.5 248.5h.8v.8h-.8zM88.4 252.0h.8v.8h-.8zM90.0 248.5h.8v.8h-.8zM81.2 254.6h.8v.8h-.8zM68.1 246.5h.8v.8h-.8zM86.1 245.9h.8v.8h-.8zM73.8 253.4h.8v.8h-.8zM90.9 249.1h.8v.8h-.8zM62.9 249.0h.8v.8h-.8zM90.8 249.1h.8v.8h-.8zM64.0 248.3h.8v.8h-.8zM65.0 249.1h.8v.8h-.8zM77.1 254.3h.8v.8h-.8zM86.4 252.9h.8v.8h-.8zM87.6 253.2h.8v.8h-.8zM64.3 249.2h.8v.8h-.8zM68.7 252.8h.8v.8h-.8zM67.9 246.4h.8v.8h-.8zM84.2 246.5h.8v.8h-.8zM63.0 248.5h.8v.8h-.8zM71.7 253.8h.8v.8h-.8zM64.2 249.6h.8v.8h-.8zM83.6 253.8h.8v.8h-.8zM78.0 246.1h.8v.8h-.8zM69.2 247.2h.8v.8h-.8zM65.6 247.4h.8v.8h-.8zM83.0 246.4h.8v.8h-.8zM80.0 246.1h.8v.8h-.8zM70.4 253.6h.8v.8h-.8zM69.2 245.8h.8v.8h-.8zM65.4 249.2h.8v.8h-.8zM78.4 253.8h.8v.8h-.8zM63.1 248.6h.8v.8h-.8zM91.7 249.0h.8v.8h-.8zM85.1 253.6h.8v.8h-.8zM84.7 253.9h.8v.8h-.8zM88.8 248.7h.8v.8h-.8zM68.9 246.0h.8v.8h-.8zM64.6 251.9h.8v.8h-.8zM76.3 245.8h.8v.8h-.8zM68.0 247.1h.8v.8h-.8zM66.3 248.0h.8v.8h-.8zM81.2 245.4h.8v.8h-.8zM71.8 245.5h.8v.8h-.8zM77.1 254.0h.8v.8h-.8zM67.8 253.1h.8v.8h-.8zM82.5 246.6h.8v.8h-.8zM70.9 254.3h.8v.8h-.8zM66.9 251.6h.8v.8h-.8zM64.2 248.3h.8v.8h-.8zM74.4 245.2h.8v.8h-.8zM88.2 247.9h.8v.8h-.8zM73.2 253.5h.8v.8h-.8zM70.2 252.7h.8v.8h-.8zM68.0 252.3h.8v.8h-.8zM83.4 254.6h.8v.8h-.8zM82.6 245.5h.8v.8h-.8zM85.6 245.8h.8v.8h-.8zM90.9 250.6h.8v.8h-.8zM61.6 248.7h.8v.8h-.8zM61.6 250.2h.8v.8h-.8zM87.8 248.0h.8v.8h-.8zM82.4 246.2h.8v.8h-.8zM82.0 253.8h.8v.8h-.8zM89.2 251.6h.8v.8h-.8zM72.3 254.4h.8v.8h-.8zM83.7 246.0h.8v.8h-.8zM82.1 246.4h.8v.8h-.8zM62.4 249.2h.8v.8h-.8zM90.3 250.3h.8v.8h-.8zM87.2 246.6h.8v.8h-.8zM77.2 254.7h.8v.8h-.8zM63.4 250.5h.8v.8h-.8zM81.5 246.2h.8v.8h-.8zM62.5 248.8h.8v.8h-.8zM86.9 252.3h.8v.8h-.8zM88.7 250.3h.8v.8h-.8zM64.7 248.4h.8v.8h-.8zM66.6 253.3h.8v.8h-.8zM91.1 248.3h.8v.8h-.8zM83.3 253.5h.8v.8h-.8zM88.3 248.1h.8v.8h-.8zM86.6 252.3h.8v.8h-.8zM89.3 247.3h.8v.8h-.8zM69.1 253.6h.8v.8h-.8zM91.0 249.6h.8v.8h-.8zM69.0 253.2h.8v.8h-.8zM61.7 248.7h.8v.8h-.8zM82.5 254.1h.8v.8h-.8zM85.2 252.9h.8v.8h-.8zM64.8 250.7h.8v.8h-.8zM66.4 252.2h.8v.8h-.8zM62.1 249.2h.8v.8h-.8zM86.7 252.9h.8v.8h-.8zM64.9 249.9h.8v.8h-.8zM74.1 253.6h.8v.8h-.8zM87.8 253.3h.8v.8h-.8zM73.2 254.2h.8v.8h-.8zM63.0 251.7h.8v.8h-.8zM75.8 254.7h.8v.8h-.8zM81.5 245.5h.8v.8h-.8zM72.2 245.8h.8v.8h-.8zM80.0 254.4h.8v.8h-.8zM90.6 250.5h.8v.8h-.8zM65.1 251.6h.8v.8h-.8zM63.1 248.0h.8v.8h-.8zM66.6 246.8h.8v.8h-.8zM88.5 251.5h.8v.8h-.8zM88.8 251.0h.8v.8h-.8zM87.4 247.2h.8v.8h-.8zM84.1 254.4h.8v.8h-.8zM81.5 254.2h.8v.8h-.8zM73.5 253.9h.8v.8h-.8zM73.0 253.4h.8v.8h-.8zM73.4 253.7h.8v.8h-.8zM67.5 252.1h.8v.8h-.8zM66.4 251.7h.8v.8h-.8zM88.1 251.4h.8v.8h-.8zM71.3 253.9h.8v.8h-.8zM66.0 252.5h.8v.8h-.8zM71.0 253.3h.8v.8h-.8zM73.7 245.4h.8v.8h-.8zM68.7 252.3h.8v.8h-.8zM88.4 251.5h.8v.8h-.8zM90.0 251.5h.8v.8h-.8zM65.5 247.8h.8v.8h-.8zM89.0 246.9h.8v.8h-.8zM83.4 253.9h.8v.8h-.8zM66.7 252.1h.8v.8h-.8zM86.1 247.4h.8v.8h-.8zM86.8 253.4h.8v.8h-.8zM91.5 250.0h.8v.8h-.8zM61.0 250.3h.8v.8h-.8zM78.9 245.3h.8v.8h-.8zM87.3 252.7h.8v.8h-.8zM80.6 245.7h.8v.8h-.8zM78.6 254.5h.8v.8h-.8zM81.9 246.4h.8v.8h-.8zM65.7 248.4h.8v.8h-.8zM85.9 252.6h.8v.8h-.8zM73.4 246.3h.8v.8h-.8zM69.5 247.2h.8v.8h-.8zM63.5 248.8h.8v.8h-.8zM76.1 253.7h.8v.8h-.8zM88.9 249.5h.8v.8h-.8zM72.9 245.5h.8v.8h-.8zM80.6 254.3h.8v.8h-.8zM64.6 250.4h.8v.8h-.8zM82.5 246.4h.8v.8h-.8zM90.8 251.7h.8v.8h-.8zM72.8 254.2h.8v.8h-.8zM88.7 248.8h.8v.8h-.8zM68.7 252.4h.8v.8h-.8zM78.2 245.2h.8v.8h-.8zM70.2 253.3h.8v.8h-.8zM90.8 250.3h.8v.8h-.8zM80.9 253.8h.8v.8h-.8zM70.0 247.2h.8v.8h-.8zM60.9 249.9h.8v.8h-.8zM73.3 246.1h.8v.8h-.8zM71.6 246.6h.8v.8h-.8zM68.4 247.0h.8v.8h-.8zM82.5 245.7h.8v.8h-.8zM62.4 251.3h.8v.8h-.8zM90.4 252.2h.8v.8h-.8zM81.7 245.7h.8v.8h-.8zM73.6 246.0h.8v.8h-.8zM73.7 253.6h.8v.8h-.8zM66.0 252.3h.8v.8h-.8zM72.1 246.3h.8v.8h-.8zM88.1 248.5h.8v.8h-.8zM64.2 247.4h.8v.8h-.8zM87.1 251.9h.8v.8h-.8zM89.0 249.8h.8v.8h-.8zM89.2 251.7h.8v.8h-.8zM81.4 253.5h.8v.8h-.8zM85.2 253.0h.8v.8h-.8zM87.2 252.9h.8v.8h-.8zM62.1 249.0h.8v.8h-.8zM73.7 254.3h.8v.8h-.8zM88.2 253.5h.8v.8h-.8zM81.2 254.1h.8v.8h-.8zM64.5 248.5h.8v.8h-.8zM91.0 249.1h.8v.8h-.8zM85.8 253.9h.8v.8h-.8zM88.9 251.1h.8v.8h-.8zM71.3 253.9h.8v.8h-.8zM91.2 248.4h.8v.8h-.8zM69.0 253.0h.8v.8h-.8zM65.1 251.8h.8v.8h-.8zM90.3 251.8h.8v.8h-.8zM65.5 248.9h.8v.8h-.8zM78.9 245.6h.8v.8h-.8zM89.2 250.2h.8v.8h-.8zM72.5 254.1h.8v.8h-.8zM82.0 246.2h.8v.8h-.8zM85.5 247.0h.8v.8h-.8zM77.8 246.1h.8v.8h-.8zM81.1 246.0h.8v.8h-.8zM79.1 246.3h.8v.8h-.8zM64.8 251.3h.8v.8h-.8zM70.1 245.9h.8v.8h-.8zM81.5 253.8h.8v.8h-.8zM66.6 251.5h.8v.8h-.8zM64.8 247.5h.8v.8h-.8zM65.1 247.8h.8v.8h-.8zM88.3 247.7h.8v.8h-.8zM62.9 248.0h.8v.8h-.8zM82.9 254.5h.8v.8h-.8zM74.0 246.6h.8v.8h-.8zM86.8 253.2h.8v.8h-.8zM76.1 254.5h.8v.8h-.8zM65.4 247.0h.8v.8h-.8zM77.3 245.3h.8v.8h-.8zM80.1 254.2h.8v.8h-.8zM90.1 248.4h.8v.8h-.8zM74.9 246.2h.8v.8h-.8zM61.2 250.4h.8v.8h-.8zM91.6 249.2h.8v.8h-.8zM90.5 250.6h.8v.8h-.8zM84.1 246.6h.8v.8h-.8zM72.0 246.3h.8v.8h-.8zM78.7 254.3h.8v.8h-.8zM77.9 254.6h.8v.8h-.8zM82.1 245.4h.8v.8h-.8zM90.7 250.4h.8v.8h-.8zM89.4 248.7h.8v.8h-.8zM87.8 253.2h.8v.8h-.8zM61.4 248.8h.8v.8h-.8zM79.9 245.4h.8v.8h-.8zM89.5 247.9h.8v.8h-.8zM85.3 246.5h.8v.8h-.8zM79.8 246.2h.8v.8h-.8zM69.1 247.5h.8v.8h-.8zM63.9 252.4h.8v.8h-.8zM68.7 254.0h.8v.8h-.8zM65.4 249.7h.8v.8h-.8zM90.7 250.0h.8v.8h-.8zM68.5 246.9h.8v.8h-.8zM88.9 252.4h.8v.8h-.8zM64.2 249.9h.8v.8h-.8zM63.0 250.3h.8v.8h-.8zM90.9 250.7h.8v.8h-.8zM68.5 246.6h.8v.8h-.8zM73.2 245.7h.8v.8h-.8zM63.0 249.4h.8v.8h-.8zM63.5 249.0h.8v.8h-.8zM68.5 253.7h.8v.8h-.8zM66.7 252.0h.8v.8h-.8zM80.0 254.3h.8v.8h-.8zM80.0 245.2h.8v.8h-.8zM86.4 253.9h.8v.8h-.8zM74.8 246.0h.8v.8h-.8zM73.9 246.2h.8v.8h-.8zM86.3 252.9h.8v.8h-.8zM87.9 251.7h.8v.8h-.8zM64.6 249.8h.8v.8h-.8zM75.0 246.0h.8v.8h-.8zM69.0 253.0h.8v.8h-.8zM68.7 247.3h.8v.8h-.8zM63.8 251.2h.8v.8h-.8zM87.0 247.1h.8v.8h-.8zM89.3 250.4h.8v.8h-.8zM62.7 248.2h.8v.8h-.8zM76.2 254.9h.8v.8h-.8zM62.9 249.2h.8v.8h-.8zM66.8 247.4h.8v.8h-.8zM83.6 246.7h.8v.8h-.8zM77.5 254.4h.8v.8h-.8zM70.8 253.4h.8v.8h-.8zM80.4 253.6h.8v.8h-.8zM72.1 253.8h.8v.8h-.8zM74.6 254.7h.8v.8h-.8zM85.4 246.5h.8v.8h-.8zM73.2 245.8h.8v.8h-.8zM67.1 252.0h.8v.8h-.8zM63.3 249.9h.8v.8h-.8zM62.0 249.2h.8v.8h-.8zM78.5 245.8h.8v.8h-.8zM64.8 252.9h.8v.8h-.8zM91.3 249.1h.8v.8h-.8zM86.8 246.5h.8v.8h-.8zM84.9 253.0h.8v.8h-.8zM84.2 253.8h.8v.8h-.8zM81.3 254.0h.8v.8h-.8zM66.3 248.6h.8v.8h-.8zM69.4 247.3h.8v.8h-.8zM75.7 245.7h.8v.8h-.8zM89.9 251.6h.8v.8h-.8zM66.1 253.1h.8v.8h-.8zM88.6 249.6h.8v.8h-.8zM84.0 254.1h.8v.8h-.8zM86.0 247.4h.8v.8h-.8zM65.8 249.2h.8v.8h-.8zM86.6 254.0h.8v.8h-.8zM65.1 249.8h.8v.8h-.8zM65.4 253.0h.8v.8h-.8zM82.9 253.5h.8v.8h-.8zM85.3 253.0h.8v.8h-.8zM82.9 253.9h.8v.8h-.8zM77.9 253.6h.8v.8h-.8zM78.2 245.8h.8v.8h-.8zM89.8 250.9h.8v.8h-.8zM88.5 246.8h.8v.8h-.8zM68.4 246.8h.8v.8h-.8zM90.4 250.3h.8v.8h-.8zM62.3 249.7h.8v.8h-.8zM75.2 254.1h.8v.8h-.8zM65.0 250.4h.8v.8h-.8zM85.2 253.2h.8v.8h-.8zM87.7 247.1h.8v.8h-.8zM81.4 254.0h.8v.8h-.8zM69.9 246.5h.8v.8h-.8zM66.4 247.4h.8v.8h-.8zM90.5 251.1h.8v.8h-.8zM87.0 253.7h.8v.8h-.8zM79.1 254.8h.8v.8h-.8zM71.4 253.4h.8v.8h-.8zM84.4 246.1h.8v.8h-.8zM70.8 247.1h.8v.8h-.8zM68.9 252.8h.8v.8h-.8zM69.5 253.4h.8v.8h-.8zM89.9 250.4h.8v.8h-.8zM89.2 250.9h.8v.8h-.8zM89.8 252.6h.8v.8h-.8zM64.8 249.3h.8v.8h-.8zM72.2 245.4h.8v.8h-.8zM64.5 251.6h.8v.8h-.8zM91.6 250.0h.8v.8h-.8zM71.8 246.6h.8v.8h-.8zM84.0 246.8h.8v.8h-.8zM88.6 247.7h.8v.8h-.8zM64.7 251.6h.8v.8h-.8zM65.8 250.7h.8v.8h-.8zM88.5 251.1h.8v.8h-.8zM88.2 251.9h.8v.8h-.8zM84.2 246.8h.8v.8h-.8zM74.0 253.9h.8v.8h-.8zM69.3 253.4h.8v.8h-.8zM74.1 253.9h.8v.8h-.8zM86.9 246.6h.8v.8h-.8zM75.2 253.8h.8v.8h-.8zM64.0 252.5h.8v.8h-.8zM64.4 252.9h.8v.8h-.8zM65.4 250.2h.8v.8h-.8zM63.0 251.6h.8v.8h-.8zM81.8 245.3h.8v.8h-.8z" fill="#44a0a4" fill-opacity="0.8"/>
<path d="M86.1 251.8h.8v.8h-.8zM81.7 252.6h.8v.8h-.8zM68.1 250.8h.8v.8h-.8zM75.0 252.5h.8v.8h-.8zM85.9 250.0h.8v.8h-.8zM80.4 247.0h.8v.8h-.8zM86.7 251.8h.8v.8h-.8zM84.5 251.9h.8v.8h-.8zM80.8 247.7h.8v.8h-.8zM80.8 252.9h.8v.8h-.8zM80.8 252.9h.8v.8h-.8zM80.3 246.6h.8v.8h-.8zM79.0 252.5h.8v.8h-.8zM69.4 248.2h.8v.8h-.8zM85.5 251.1h.8v.8h-.8zM70.5 248.0h.8v.8h-.8zM84.9 248.7h.8v.8h-.8zM86.9 250.3h.8v.8h-.8zM68.9 250.3h.8v.8h-.8zM80.8 252.2h.8v.8h-.8zM68.4 248.3h.8v.8h-.8zM77.6 252.3h.8v.8h-.8zM68.3 250.9h.8v.8h-.8zM82.5 247.5h.8v.8h-.8zM75.3 247.7h.8v.8h-.8zM70.3 250.4h.8v.8h-.8zM77.0 247.7h.8v.8h-.8zM77.2 253.5h.8v.8h-.8zM73.5 247.9h.8v.8h-.8zM84.7 247.2h.8v.8h-.8zM80.9 247.8h.8v.8h-.8zM70.6 248.9h.8v.8h-.8zM66.9 250.5h.8v.8h-.8zM81.5 252.6h.8v.8h-.8zM74.2 246.9h.8v.8h-.8zM79.0 252.5h.8v.8h-.8zM83.5 247.8h.8v.8h-.8zM86.1 248.1h.8v.8h-.8zM85.7 250.3h.8v.8h-.8zM81.7 252.4h.8v.8h-.8zM81.0 252.1h.8v.8h-.8zM88.4 250.2h.8v.8h-.8zM72.6 247.0h.8v.8h-.8zM85.3 250.8h.8v.8h-.8zM71.4 252.3h.8v.8h-.8zM86.4 249.5h.8v.8h-.8zM68.5 250.8h.8v.8h-.8zM78.0 247.2h.8v.8h-.8zM71.9 252.3h.8v.8h-.8zM79.1 247.5h.8v.8h-.8zM81.2 253.4h.8v.8h-.8zM79.8 247.4h.8v.8h-.8zM69.4 251.3h.8v.8h-.8zM74.3 247.1h.8v.8h-.8zM86.4 251.6h.8v.8h-.8zM81.8 246.9h.8v.8h-.8zM79.1 253.6h.8v.8h-.8zM85.0 247.9h.8v.8h-.8zM72.8 247.7h.8v.8h-.8zM69.0 252.1h.8v.8h-.8zM73.0 251.6h.8v.8h-.8zM87.0 251.2h.8v.8h-.8zM80.0 247.6h.8v.8h-.8zM81.8 252.4h.8v.8h-.8zM70.7 248.5h.8v.8h-.8zM82.2 252.8h.8v.8h-.8zM86.9 248.2h.8v.8h-.8zM69.2 250.3h.8v.8h-.8zM73.3 247.7h.8v.8h-.8zM74.3 252.7h.8v.8h-.8zM85.9 251.5h.8v.8h-.8zM84.3 247.5h.8v.8h-.8zM82.2 247.7h.8v.8h-.8zM74.5 253.0h.8v.8h-.8zM86.6 251.5h.8v.8h-.8zM76.4 247.3h.8v.8h-.8zM81.1 247.5h.8v.8h-.8zM70.4 247.9h.8v.8h-.8zM75.2 253.3h.8v.8h-.8zM78.6 252.5h.8v.8h-.8zM77.5 246.6h.8v.8h-.8zM76.9 246.6h.8v.8h-.8zM85.1 251.5h.8v.8h-.8zM69.5 252.2h.8v.8h-.8zM87.9 250.4h.8v.8h-.8zM72.5 248.2h.8v.8h-.8zM85.5 251.4h.8v.8h-.8zM68.8 248.9h.8v.8h-.8zM82.1 247.9h.8v.8h-.8zM85.2 250.5h.8v.8h-.8zM72.5 247.3h.8v.8h-.8zM71.2 249.0h.8v.8h-.8zM68.1 249.6h.8v.8h-.8zM67.6 248.6h.8v.8h-.8zM79.1 246.8h.8v.8h-.8zM68.8 249.5h.8v.8h-.8zM79.3 253.2h.8v.8h-.8zM68.5 252.1h.8v.8h-.8zM69.6 250.4h.8v.8h-.8zM84.3 248.5h.8v.8h-.8zM83.9 247.0h.8v.8h-.8zM70.5 250.4h.8v.8h-.8zM77.2 246.7h.8v.8h-.8zM80.4 253.2h.8v.8h-.8zM76.7 247.6h.8v.8h-.8zM82.1 252.5h.8v.8h-.8zM80.1 253.2h.8v.8h-.8zM69.7 248.2h.8v.8h-.8zM86.0 251.6h.8v.8h-.8zM79.3 247.1h.8v.8h-.8zM70.2 250.0h.8v.8h-.8zM84.9 249.3h.8v.8h-.8zM80.1 247.8h.8v.8h-.8zM71.0 248.3h.8v.8h-.8zM80.9 247.3h.8v.8h-.8zM84.2 252.6h.8v.8h-.8zM87.4 250.9h.8v.8h-.8zM82.6 252.6h.8v.8h-.8zM72.6 252.0h.8v.8h-.8zM86.2 250.7h.8v.8h-.8zM69.8 252.0h.8v.8h-.8zM80.0 252.9h.8v.8h-.8zM69.1 249.1h.8v.8h-.8zM70.7 252.6h.8v.8h-.8zM81.0 253.4h.8v.8h-.8zM82.5 252.2h.8v.8h-.8zM83.4 248.0h.8v.8h-.8zM74.2 246.6h.8v.8h-.8zM82.2 252.7h.8v.8h-.8zM76.6 247.1h.8v.8h-.8zM87.7 248.6h.8v.8h-.8zM70.9 251.7h.8v.8h-.8zM76.1 247.2h.8v.8h-.8zM83.1 252.1h.8v.8h-.8zM83.8 248.0h.8v.8h-.8zM75.6 253.4h.8v.8h-.8zM87.3 249.5h.8v.8h-.8zM84.0 248.0h.8v.8h-.8zM74.1 252.6h.8v.8h-.8zM88.1 250.5h.8v.8h-.8zM74.2 253.4h.8v.8h-.8zM81.5 252.6h.8v.8h-.8zM74.7 247.5h.8v.8h-.8zM70.9 251.7h.8v.8h-.8zM87.8 249.3h.8v.8h-.8zM71.2 252.3h.8v.8h-.8zM79.6 252.9h.8v.8h-.8zM75.0 252.1h.8v.8h-.8zM76.7 247.2h.8v.8h-.8zM76.3 246.7h.8v.8h-.8zM74.1 247.6h.8v.8h-.8zM70.6 252.3h.8v.8h-.8zM86.0 248.8h.8v.8h-.8zM71.1 247.8h.8v.8h-.8zM71.8 252.2h.8v.8h-.8zM85.7 248.0h.8v.8h-.8zM84.6 251.1h.8v.8h-.8zM77.6 247.7h.8v.8h-.8zM85.0 250.4h.8v.8h-.8zM85.9 250.2h.8v.8h-.8zM76.1 247.2h.8v.8h-.8zM70.1 248.7h.8v.8h-.8zM72.1 252.4h.8v.8h-.8zM86.3 248.1h.8v.8h-.8zM86.5 251.9h.8v.8h-.8zM78.5 247.4h.8v.8h-.8zM75.3 247.9h.8v.8h-.8zM68.9 251.9h.8v.8h-.8zM76.6 247.7h.8v.8h-.8zM87.3 248.9h.8v.8h-.8zM82.8 253.3h.8v.8h-.8zM73.0 247.9h.8v.8h-.8zM71.4 251.8h.8v.8h-.8zM78.1 246.7h.8v.8h-.8zM68.8 250.2h.8v.8h-.8zM83.4 248.1h.8v.8h-.8zM88.0 250.8h.8v.8h-.8zM83.7 251.6h.8v.8h-.8zM72.5 252.8h.8v.8h-.8zM71.2 247.8h.8v.8h-.8zM73.2 252.0h.8v.8h-.8zM77.9 246.4h.8v.8h-.8zM69.1 251.5h.8v.8h-.8zM74.1 247.5h.8v.8h-.8zM85.0 248.2h.8v.8h-.8zM67.8 251.7h.8v.8h-.8zM72.8 247.0h.8v.8h-.8zM66.0 250.7h.8v.8h-.8zM67.1 250.7h.8v.8h-.8zM88.2 250.5h.8v.8h-.8zM67.4 249.8h.8v.8h-.8zM80.3 247.2h.8v.8h-.8zM85.9 251.4h.8v.8h-.8zM69.7 252.0h.8v.8h-.8zM78.3 247.1h.8v.8h-.8zM65.9 250.5h.8v.8h-.8zM70.6 252.4h.8v.8h-.8zM68.9 250.3h.8v.8h-.8zM70.9 252.4h.8v.8h-.8zM78.9 253.0h.8v.8h-.8zM83.4 247.0h.8v.8h-.8zM85.5 252.3h.8v.8h-.8zM81.7 253.3h.8v.8h-.8zM83.8 253.0h.8v.8h-.8zM84.2 247.0h.8v.8h-.8zM87.9 249.6h.8v.8h-.8zM75.7 247.4h.8v.8h-.8zM69.4 248.7h.8v.8h-.8zM68.9 250.2h.8v.8h-.8zM80.5 247.4h.8v.8h-.8zM77.4 247.1h.8v.8h-.8zM68.6 249.3h.8v.8h-.8zM76.1 252.8h.8v.8h-.8zM77.4 253.1h.8v.8h-.8zM80.2 247.1h.8v.8h-.8zM67.1 248.6h.8v.8h-.8zM87.6 249.8h.8v.8h-.8zM70.2 249.6h.8v.8h-.8zM66.1 249.4h.8v.8h-.8zM69.7 250.0h.8v.8h-.8zM84.6 252.4h.8v.8h-.8zM72.4 253.0h.8v.8h-.8zM66.5 249.4h.8v.8h-.8zM80.9 246.7h.8v.8h-.8zM81.9 252.5h.8v.8h-.8zM75.0 253.2h.8v.8h-.8zM79.2 252.7h.8v.8h-.8zM70.0 252.6h.8v.8h-.8zM70.6 252.1h.8v.8h-.8zM85.2 249.2h.8v.8h-.8zM84.8 251.1h.8v.8h-.8zM75.9 252.3h.8v.8h-.8zM83.8 252.9h.8v.8h-.8zM68.4 248.7h.8v.8h-.8zM70.3 250.5h.8v.8h-.8zM87.5 250.3h.8v.8h-.8zM86.5 250.8h.8v.8h-.8zM73.6 253.3h.8v.8h-.8zM66.8 250.8h.8v.8h-.8zM85.2 248.6h.8v.8h-.8zM76.9 252.3h.8v.8h-.8zM77.3 247.3h.8v.8h-.8zM86.7 249.0h.8v.8h-.8zM87.0 249.4h.8v.8h-.8zM81.3 247.4h.8v.8h-.8zM66.2 249.9h.8v.8h-.8zM81.3 252.5h.8v.8h-.8zM81.0 247.8h.8v.8h-.8zM82.4 247.0h.8v.8h-.8zM85.0 247.6h.8v.8h-.8zM69.2 252.4h.8v.8h-.8zM81.0 247.4h.8v.8h-.8zM74.5 252.8h.8v.8h-.8zM86.0 248.3h.8v.8h-.8zM73.3 252.7h.8v.8h-.8zM78.6 247.1h.8v.8h-.8zM79.5 253.4h.8v.8h-.8zM85.2 248.3h.8v.8h-.8zM70.1 249.6h.8v.8h-.8zM77.2 246.7h.8v.8h-.8zM86.1 251.3h.8v.8h-.8zM85.2 252.2h.8v.8h-.8zM67.3 251.0h.8v.8h-.8zM78.3 246.8h.8v.8h-.8zM79.8 247.1h.8v.8h-.8zM71.5 248.2h.8v.8h-.8zM80.7 246.7h.8v.8h-.8zM86.5 251.5h.8v.8h-.8zM77.0 253.5h.8v.8h-.8zM84.1 252.6h.8v.8h-.8zM79.0 252.4h.8v.8h-.8zM75.0 246.7h.8v.8h-.8zM84.1 248.2h.8v.8h-.8zM67.0 250.5h.8v.8h-.8zM86.1 249.8h.8v.8h-.8zM83.4 253.1h.8v.8h-.8zM76.4 247.4h.8v.8h-.8zM82.6 252.7h.8v.8h-.8zM70.8 252.8h.8v.8h-.8zM79.1 253.2h.8v.8h-.8zM66.9 249.8h.8v.8h-.8zM77.0 252.4h.8v.8h-.8zM85.7 251.3h.8v.8h-.8zM67.0 249.7h.8v.8h-.8zM66.8 249.1h.8v.8h-.8zM86.0 250.3h.8v.8h-.8zM73.6 247.8h.8v.8h-.8zM71.9 247.8h.8v.8h-.8zM83.3 252.0h.8v.8h-.8zM74.3 252.7h.8v.8h-.8zM82.0 247.9h.8v.8h-.8zM82.4 247.4h.8v.8h-.8zM77.0 247.6h.8v.8h-.8zM79.5 253.1h.8v.8h-.8zM84.9 251.0h.8v.8h-.8zM79.7 253.1h.8v.8h-.8zM69.5 248.9h.8v.8h-.8zM85.3 250.5h.8v.8h-.8zM85.2 252.0h.8v.8h-.8zM82.0 252.0h.8v.8h-.8zM72.1 248.4h.8v.8h-.8zM76.5 253.1h.8v.8h-.8zM71.2 247.8h.8v.8h-.8zM75.9 247.7h.8v.8h-.8zM82.9 247.9h.8v.8h-.8zM67.1 248.8h.8v.8h-.8zM87.9 250.0h.8v.8h-.8zM76.8 247.3h.8v.8h-.8zM68.2 251.6h.8v.8h-.8zM69.3 252.0h.8v.8h-.8zM71.4 251.2h.8v.8h-.8zM65.9 250.5h.8v.8h-.8zM68.0 251.1h.8v.8h-.8zM87.3 248.6h.8v.8h-.8zM75.5 252.1h.8v.8h-.8zM84.0 251.3h.8v.8h-.8zM73.1 251.7h.8v.8h-.8zM71.2 252.8h.8v.8h-.8zM78.9 253.3h.8v.8h-.8zM86.5 248.5h.8v.8h-.8zM81.5 253.0h.8v.8h-.8zM68.9 251.4h.8v.8h-.8zM74.8 252.2h.8v.8h-.8zM69.0 248.1h.8v.8h-.8zM87.3 249.2h.8v.8h-.8zM68.6 248.8h.8v.8h-.8zM80.6 246.6h.8v.8h-.8zM86.1 251.3h.8v.8h-.8zM69.6 249.7h.8v.8h-.8zM68.5 250.7h.8v.8h-.8zM83.3 251.9h.8v.8h-.8zM85.2 249.7h.8v.8h-.8zM85.3 249.0h.8v.8h-.8zM85.5 252.5h.8v.8h-.8zM76.0 246.7h.8v.8h-.8zM87.6 250.6h.8v.8h-.8zM70.8 252.4h.8v.8h-.8zM82.3 253.1h.8v.8h-.8zM81.1 247.2h.8v.8h-.8zM84.7 249.1h.8v.8h-.8zM85.7 249.9h.8v.8h-.8zM86.8 251.0h.8v.8h-.8zM73.6 252.3h.8v.8h-.8zM73.2 246.9h.8v.8h-.8zM75.6 253.1h.8v.8h-.8zM85.8 247.5h.8v.8h-.8zM66.2 250.1h.8v.8h-.8z" fill="#84c058" fill-opacity="0.8"/>
<path d="M77.6 249.0h.8v.8h-.8zM80.0 250.6h.8v.8h-.8zM74.2 249.8h.8v.8h-.8zM77.7 251.4h.8v.8h-.8zM81.8 250.8h.8v.8h-.8zM77.4 251.4h.8v.8h-.8zM81.4 252.0h.8v.8h-.8zM73.2 250.8h.8v.8h-.8zM74.3 250.4h.8v.8h-.8zM72.3 249.1h.8v.8h-.8zM80.7 250.8h.8v.8h-.8zM78.9 250.6h.8v.8h-.8zM81.3 250.4h.8v.8h-.8zM81.0 249.2h.8v.8h-.8zM84.4 250.2h.8v.8h-.8zM76.0 250.2h.8v.8h-.8zM81.0 250.9h.8v.8h-.8zM82.6 249.1h.8v.8h-.8zM75.6 250.1h.8v.8h-.8zM80.3 248.7h.8v.8h-.8zM82.6 251.7h.8v.8h-.8zM83.0 249.5h.8v.8h-.8zM76.4 249.4h.8v.8h-.8zM77.1 248.7h.8v.8h-.8zM83.7 249.1h.8v.8h-.8zM79.4 249.2h.8v.8h-.8zM70.9 249.6h.8v.8h-.8zM83.1 248.7h.8v.8h-.8zM78.6 251.7h.8v.8h-.8zM80.3 248.1h.8v.8h-.8zM83.9 249.6h.8v.8h-.8zM80.4 251.3h.8v.8h-.8zM81.2 250.6h.8v.8h-.8zM71.8 249.1h.8v.8h-.8zM83.0 249.2h.8v.8h-.8zM77.2 249.6h.8v.8h-.8zM76.5 249.9h.8v.8h-.8zM78.1 248.6h.8v.8h-.8zM81.1 249.9h.8v.8h-.8zM74.5 251.2h.8v.8h-.8zM80.5 248.6h.8v.8h-.8zM75.3 249.2h.8v.8h-.8zM78.3 250.6h.8v.8h-.8zM79.1 251.1h.8v.8h-.8zM79.0 248.8h.8v.8h-.8zM73.5 248.9h.8v.8h-.8zM79.9 251.2h.8v.8h-.8zM71.9 249.7h.8v.8h-.8zM82.4 250.3h.8v.8h-.8zM74.3 248.8h.8v.8h-.8zM73.8 249.6h.8v.8h-.8zM83.5 250.9h.8v.8h-.8zM82.7 250.7h.8v.8h-.8zM79.6 248.5h.8v.8h-.8zM77.4 252.1h.8v.8h-.8zM74.3 251.4h.8v.8h-.8zM80.2 248.7h.8v.8h-.8zM82.6 250.8h.8v.8h-.8zM72.1 251.0h.8v.8h-.8zM83.7 250.4h.8v.8h-.8zM82.2 251.9h.8v.8h-.8zM77.7 248.3h.8v.8h-.8zM82.8 249.2h.8v.8h-.8zM81.0 248.5h.8v.8h-.8zM81.8 251.3h.8v.8h-.8zM81.8 251.6h.8v.8h-.8zM74.5 250.8h.8v.8h-.8zM76.9 250.4h.8v.8h-.8zM73.7 249.6h.8v.8h-.8zM79.6 249.3h.8v.8h-.8zM76.6 249.2h.8v.8h-.8zM75.3 248.1h.8v.8h-.8zM77.0 251.2h.8v.8h-.8zM74.6 249.2h.8v.8h-.8zM79.3 251.4h.8v.8h-.8zM79.3 250.0h.8v.8h-.8zM76.7 251.2h.8v.8h-.8zM75.3 249.4h.8v.8h-.8zM83.5 250.6h.8v.8h-.8zM77.3 248.0h.8v.8h-.8zM73.7 250.5h.8v.8h-.8zM74.8 249.8h.8v.8h-.8zM81.6 249.9h.8v.8h-.8zM75.2 250.0h.8v.8h-.8zM81.4 252.0h.8v.8h-.8zM81.9 249.8h.8v.8h-.8zM84.6 249.8h.8v.8h-.8zM83.3 248.7h.8v.8h-.8zM74.0 250.7h.8v.8h-.8zM76.1 248.9h.8v.8h-.8zM75.0 251.0h.8v.8h-.8zM78.6 250.7h.8v.8h-.8zM73.8 251.7h.8v.8h-.8zM80.7 249.6h.8v.8h-.8zM74.3 249.8h.8v.8h-.8zM84.5 250.6h.8v.8h-.8zM76.1 249.5h.8v.8h-.8zM71.7 249.4h.8v.8h-.8zM79.6 251.1h.8v.8h-.8zM74.9 248.8h.8v.8h-.8zM77.5 252.2h.8v.8h-.8zM79.3 251.7h.8v.8h-.8zM78.1 249.2h.8v.8h-.8zM81.4 249.4h.8v.8h-.8zM84.6 249.7h.8v.8h-.8zM71.8 249.8h.8v.8h-.8zM82.5 250.6h.8v.8h-.8zM81.3 249.1h.8v.8h-.8zM79.7 250.6h.8v.8h-.8zM84.3 249.6h.8v.8h-.8zM81.2 250.8h.8v.8h-.8zM84.1 249.9h.8v.8h-.8zM77.4 250.8h.8v.8h-.8zM80.7 248.0h.8v.8h-.8zM81.2 251.6h.8v.8h-.8zM71.9 250.1h.8v.8h-.8zM77.8 250.7h.8v.8h-.8zM71.9 249.1h.8v.8h-.8zM82.5 250.4h.8v.8h-.8zM81.9 251.0h.8v.8h-.8zM80.4 249.9h.8v.8h-.8zM83.6 249.8h.8v.8h-.8zM80.8 249.6h.8v.8h-.8zM83.4 251.3h.8v.8h-.8zM84.7 249.9h.8v.8h-.8zM75.4 249.9h.8v.8h-.8zM84.2 249.1h.8v.8h-.8zM82.7 249.9h.8v.8h-.8zM80.7 247.9h.8v.8h-.8zM74.7 251.3h.8v.8h-.8zM76.8 250.3h.8v.8h-.8zM81.2 251.8h.8v.8h-.8zM82.4 251.4h.8v.8h-.8zM74.2 250.4h.8v.8h-.8zM72.7 251.1h.8v.8h-.8zM78.7 248.4h.8v.8h-.8zM82.0 251.2h.8v.8h-.8zM75.0 250.7h.8v.8h-.8zM81.8 248.6h.8v.8h-.8zM82.4 248.2h.8v.8h-.8zM77.2 250.3h.8v.8h-.8zM83.8 250.3h.8v.8h-.8zM79.8 251.7h.8v.8h-.8zM80.2 249.9h.8v.8h-.8zM83.2 250.5h.8v.8h-.8zM77.1 249.4h.8v.8h-.8zM77.7 249.8h.8v.8h-.8zM82.4 249.3h.8v.8h-.8zM78.5 248.5h.8v.8h-.8zM82.8 251.2h.8v.8h-.8zM75.5 250.2h.8v.8h-.8zM79.1 248.2h.8v.8h-.8zM75.0 251.9h.8v.8h-.8zM80.6 248.4h.8v.8h-.8zM73.5 248.8h.8v.8h-.8zM79.0 250.8h.8v.8h-.8zM83.1 248.4h.8v.8h-.8zM76.0 248.8h.8v.8h-.8zM82.8 249.0h.8v.8h-.8zM72.5 249.2h.8v.8h-.8zM81.5 249.0h.8v.8h-.8zM76.4 248.8h.8v.8h-.8zM73.4 249.8h.8v.8h-.8zM73.4 250.1h.8v.8h-.8zM82.9 249.3h.8v.8h-.8zM83.8 250.4h.8v.8h-.8zM81.5 250.1h.8v.8h-.8zM82.8 250.0h.8v.8h-.8zM81.6 251.9h.8v.8h-.8zM73.3 251.3h.8v.8h-.8zM75.2 251.0h.8v.8h-.8zM83.8 248.9h.8v.8h-.8zM74.1 251.4h.8v.8h-.8zM76.4 251.0h.8v.8h-.8zM82.9 249.5h.8v.8h-.8zM79.7 251.5h.8v.8h-.8zM81.2 249.9h.8v.8h-.8zM84.6 250.7h.8v.8h-.8zM79.5 250.7h.8v.8h-.8zM83.4 248.5h.8v.8h-.8zM71.9 248.9h.8v.8h-.8zM73.5 250.6h.8v.8h-.8zM73.8 248.6h.8v.8h-.8zM78.3 248.7h.8v.8h-.8zM84.9 250.3h.8v.8h-.8zM82.0 250.5h.8v.8h-.8zM83.9 249.5h.8v.8h-.8zM79.3 248.7h.8v.8h-.8zM72.9 250.7h.8v.8h-.8zM81.6 249.2h.8v.8h-.8zM81.3 250.9h.8v.8h-.8zM76.5 250.1h.8v.8h-.8zM72.5 250.4h.8v.8h-.8zM84.4 249.8h.8v.8h-.8zM72.1 251.0h.8v.8h-.8zM76.0 249.8h.8v.8h-.8zM82.1 251.1h.8v.8h-.8zM77.9 249.1h.8v.8h-.8zM81.5 250.6h.8v.8h-.8zM83.3 250.7h.8v.8h-.8zM78.8 250.7h.8v.8h-.8zM78.2 251.8h.8v.8h-.8zM79.3 250.8h.8v.8h-.8zM77.9 250.9h.8v.8h-.8zM83.0 249.9h.8v.8h-.8zM80.6 250.0h.8v.8h-.8zM74.7 248.6h.8v.8h-.8zM73.0 249.4h.8v.8h-.8zM79.2 248.7h.8v.8h-.8zM84.9 250.4h.8v.8h-.8zM81.7 249.6h.8v.8h-.8zM81.3 250.3h.8v.8h-.8zM75.2 251.9h.8v.8h-.8zM82.6 251.8h.8v.8h-.8zM81.3 250.2h.8v.8h-.8zM81.6 250.6h.8v.8h-.8zM81.4 249.5h.8v.8h-.8zM80.8 251.7h.8v.8h-.8zM75.1 250.2h.8v.8h-.8zM78.0 250.4h.8v.8h-.8zM83.9 249.3h.8v.8h-.8zM81.4 249.4h.8v.8h-.8zM72.2 249.2h.8v.8h-.8zM79.7 248.7h.8v.8h-.8zM79.5 250.0h.8v.8h-.8zM75.7 248.9h.8v.8h-.8zM75.8 248.0h.8v.8h-.8zM80.4 250.9h.8v.8h-.8zM83.2 250.6h.8v.8h-.8zM74.2 251.3h.8v.8h-.8zM77.0 249.3h.8v.8h-.8zM79.3 250.9h.8v.8h-.8zM80.9 251.2h.8v.8h-.8zM71.8 249.6h.8v.8h-.8zM75.0 251.6h.8v.8h-.8zM84.0 250.7h.8v.8h-.8zM82.1 250.0h.8v.8h-.8zM74.4 250.9h.8v.8h-.8zM75.5 248.0h.8v.8h-.8zM79.3 250.6h.8v.8h-.8zM82.6 251.5h.8v.8h-.8zM75.4 249.2h.8v.8h-.8zM81.1 250.7h.8v.8h-.8zM79.8 251.1h.8v.8h-.8zM72.2 250.4h.8v.8h-.8zM74.0 251.3h.8v.8h-.8zM82.3 249.0h.8v.8h-.8zM78.5 249.1h.8v.8h-.8zM81.9 251.0h.8v.8h-.8zM82.6 251.0h.8v.8h-.8zM72.1 251.2h.8v.8h-.8zM75.0 248.1h.8v.8h-.8zM83.7 251.2h.8v.8h-.8zM84.7 250.7h.8v.8h-.8zM76.0 248.4h.8v.8h-.8zM83.4 251.6h.8v.8h-.8zM71.8 249.1h.8v.8h-.8zM76.7 250.8h.8v.8h-.8zM81.1 251.6h.8v.8h-.8zM80.1 248.5h.8v.8h-.8zM80.7 248.2h.8v.8h-.8zM80.6 248.7h.8v.8h-.8zM82.0 250.5h.8v.8h-.8zM78.3 250.7h.8v.8h-.8zM78.4 251.2h.8v.8h-.8zM80.8 250.6h.8v.8h-.8zM76.2 250.1h.8v.8h-.8zM83.6 250.3h.8v.8h-.8z" fill="#a4cc4c" fill-opacity="0.8"/>
<path d="M54.1 245.3h.75v.75h-.75zM58.0 243.0h.75v.75h-.75zM64.1 246.0h.75v.75h-.75zM49.9 246.0h.75v.75h-.75zM43.7 248.6h.75v.75h-.75zM55.6 248.7h.75v.75h-.75zM54.1 244.6h.75v.75h-.75zM62.6 250.9h.75v.75h-.75zM59.3 253.6h.75v.75h-.75zM62.3 254.3h.75v.75h-.75zM48.2 256.6h.75v.75h-.75zM59.7 249.7h.75v.75h-.75zM52.3 242.2h.75v.75h-.75zM55.1 246.8h.75v.75h-.75zM65.0 252.4h.75v.75h-.75zM53.7 248.3h.75v.75h-.75zM63.0 247.8h.75v.75h-.75zM62.9 250.5h.75v.75h-.75zM52.0 251.0h.75v.75h-.75zM68.0 244.1h.75v.75h-.75zM60.2 252.3h.75v.75h-.75zM52.2 254.9h.75v.75h-.75zM59.6 251.7h.75v.75h-.75zM46.3 251.8h.75v.75h-.75zM44.1 251.5h.75v.75h-.75zM71.2 246.5h.75v.75h-.75zM66.6 245.9h.75v.75h-.75zM54.8 252.3h.75v.75h-.75zM48.2 247.5h.75v.75h-.75zM60.9 249.4h.75v.75h-.75zM57.5 249.8h.75v.75h-.75zM57.3 255.2h.75v.75h-.75zM55.3 248.7h.75v.75h-.75zM54.5 252.3h.75v.75h-.75zM57.9 242.1h.75v.75h-.75zM53.7 251.3h.75v.75h-.75zM74.9 247.6h.75v.75h-.75zM52.1 245.6h.75v.75h-.75zM53.7 243.5h.75v.75h-.75zM47.6 249.4h.75v.75h-.75zM48.9 254.2h.75v.75h-.75zM66.9 257.2h.75v.75h-.75zM55.4 252.1h.75v.75h-.75zM73.0 247.4h.75v.75h-.75zM67.7 246.5h.75v.75h-.75zM62.6 244.2h.75v.75h-.75zM51.1 249.0h.75v.75h-.75zM52.3 242.8h.75v.75h-.75zM55.3 248.7h.75v.75h-.75zM66.0 251.8h.75v.75h-.75zM62.7 249.4h.75v.75h-.75zM48.7 244.8h.75v.75h-.75zM51.3 246.4h.75v.75h-.75zM52.1 248.6h.75v.75h-.75zM64.4 246.2h.75v.75h-.75zM56.9 245.8h.75v.75h-.75zM56.4 253.4h.75v.75h-.75zM49.7 245.5h.75v.75h-.75zM54.5 249.8h.75v.75h-.75zM49.2 251.2h.75v.75h-.75zM54.8 252.1h.75v.75h-.75zM43.4 252.4h.75v.75h-.75zM64.3 246.8h.75v.75h-.75zM70.0 250.5h.75v.75h-.75zM43.9 245.9h.75v.75h-.75zM48.3 247.4h.75v.75h-.75zM52.4 250.8h.75v.75h-.75zM52.6 248.6h.75v.75h-.75zM46.6 242.4h.75v.75h-.75zM48.6 245.3h.75v.75h-.75zM61.2 241.1h.75v.75h-.75zM63.3 239.5h.75v.75h-.75zM52.7 249.8h.75v.75h-.75zM45.4 246.2h.75v.75h-.75zM61.2 245.8h.75v.75h-.75zM53.5 249.9h.75v.75h-.75zM59.4 245.2h.75v.75h-.75zM64.7 249.2h.75v.75h-.75zM62.3 244.7h.75v.75h-.75zM62.9 249.4h.75v.75h-.75zM60.4 247.4h.75v.75h-.75zM61.1 249.8h.75v.75h-.75zM48.9 251.4h.75v.75h-.75zM52.7 248.1h.75v.75h-.75zM51.3 253.0h.75v.75h-.75zM61.7 253.0h.75v.75h-.75zM57.3 253.8h.75v.75h-.75zM54.2 250.2h.75v.75h-.75zM48.6 256.9h.75v.75h-.75zM51.6 253.6h.75v.75h-.75zM47.8 249.2h.75v.75h-.75zM51.1 249.3h.75v.75h-.75zM50.2 252.0h.75v.75h-.75zM59.5 243.9h.75v.75h-.75zM50.7 245.0h.75v.75h-.75zM62.8 245.2h.75v.75h-.75zM58.0 250.2h.75v.75h-.75zM53.8 242.7h.75v.75h-.75zM67.8 249.2h.75v.75h-.75zM59.7 253.5h.75v.75h-.75zM46.3 246.1h.75v.75h-.75zM68.0 256.7h.75v.75h-.75zM47.7 249.4h.75v.75h-.75zM61.8 249.2h.75v.75h-.75zM64.8 251.9h.75v.75h-.75zM53.7 252.1h.75v.75h-.75zM50.5 254.3h.75v.75h-.75zM49.0 254.4h.75v.75h-.75zM74.3 243.4h.75v.75h-.75zM67.8 244.4h.75v.75h-.75zM53.7 256.3h.75v.75h-.75zM62.9 252.1h.75v.75h-.75zM57.3 250.4h.75v.75h-.75zM58.0 249.0h.75v.75h-.75zM52.0 245.3h.75v.75h-.75zM68.2 249.6h.75v.75h-.75zM69.5 252.4h.75v.75h-.75zM57.9 245.8h.75v.75h-.75zM52.2 249.9h.75v.75h-.75zM53.3 248.6h.75v.75h-.75zM52.3 248.0h.75v.75h-.75zM51.7 244.1h.75v.75h-.75zM47.4 255.0h.75v.75h-.75zM46.7 247.8h.75v.75h-.75zM47.7 249.1h.75v.75h-.75zM50.1 256.9h.75v.75h-.75zM46.0 254.6h.75v.75h-.75zM50.5 251.3h.75v.75h-.75zM74.6 249.7h.75v.75h-.75zM54.2 239.4h.75v.75h-.75zM51.6 248.9h.75v.75h-.75zM55.3 250.6h.75v.75h-.75zM45.5 246.3h.75v.75h-.75zM60.4 248.8h.75v.75h-.75zM54.6 252.1h.75v.75h-.75zM55.2 250.3h.75v.75h-.75zM45.7 249.7h.75v.75h-.75zM48.2 255.8h.75v.75h-.75zM50.4 249.3h.75v.75h-.75zM64.8 250.5h.75v.75h-.75zM55.8 248.8h.75v.75h-.75zM52.3 247.1h.75v.75h-.75zM48.2 243.3h.75v.75h-.75zM53.1 246.9h.75v.75h-.75zM65.6 257.4h.75v.75h-.75zM69.6 245.5h.75v.75h-.75zM51.5 249.3h.75v.75h-.75zM60.1 250.8h.75v.75h-.75zM69.9 251.5h.75v.75h-.75zM52.0 250.8h.75v.75h-.75zM50.7 251.5h.75v.75h-.75zM43.9 251.6h.75v.75h-.75zM52.0 248.2h.75v.75h-.75zM51.3 249.3h.75v.75h-.75zM52.8 256.3h.75v.75h-.75zM54.3 253.2h.75v.75h-.75zM54.2 249.3h.75v.75h-.75zM44.6 248.1h.75v.75h-.75zM49.7 241.1h.75v.75h-.75zM52.1 247.2h.75v.75h-.75zM56.9 253.5h.75v.75h-.75zM52.0 254.1h.75v.75h-.75zM64.4 252.6h.75v.75h-.75zM51.8 250.2h.75v.75h-.75zM67.6 255.4h.75v.75h-.75zM63.6 243.6h.75v.75h-.75zM60.2 254.7h.75v.75h-.75zM59.1 248.7h.75v.75h-.75zM58.2 249.6h.75v.75h-.75zM66.5 252.9h.75v.75h-.75zM46.8 247.1h.75v.75h-.75zM62.6 253.0h.75v.75h-.75zM56.8 251.1h.75v.75h-.75zM44.4 246.7h.75v.75h-.75zM58.7 243.2h.75v.75h-.75zM58.4 251.9h.75v.75h-.75zM59.8 252.9h.75v.75h-.75zM69.8 250.9h.75v.75h-.75zM47.9 243.6h.75v.75h-.75zM61.6 243.8h.75v.75h-.75zM55.9 247.2h.75v.75h-.75zM52.5 250.6h.75v.75h-.75zM54.8 245.5h.75v.75h-.75zM60.6 249.3h.75v.75h-.75zM67.2 248.4h.75v.75h-.75zM67.4 244.1h.75v.75h-.75zM52.5 254.5h.75v.75h-.75zM65.1 251.7h.75v.75h-.75zM63.1 248.3h.75v.75h-.75zM60.3 253.3h.75v.75h-.75zM62.2 251.2h.75v.75h-.75zM61.3 251.4h.75v.75h-.75zM59.4 244.2h.75v.75h-.75zM59.4 246.4h.75v.75h-.75zM51.5 250.0h.75v.75h-.75zM56.5 245.1h.75v.75h-.75zM50.2 250.7h.75v.75h-.75zM51.2 249.9h.75v.75h-.75zM56.4 250.6h.75v.75h-.75zM50.1 250.5h.75v.75h-.75zM59.1 245.2h.75v.75h-.75zM60.8 246.2h.75v.75h-.75zM57.5 252.0h.75v.75h-.75zM59.7 245.6h.75v.75h-.75zM47.1 245.6h.75v.75h-.75zM59.1 250.3h.75v.75h-.75zM64.0 247.9h.75v.75h-.75zM53.9 250.7h.75v.75h-.75zM46.3 248.3h.75v.75h-.75zM58.9 248.6h.75v.75h-.75zM54.4 250.2h.75v.75h-.75zM68.3 250.8h.75v.75h-.75zM57.2 248.1h.75v.75h-.75zM64.4 250.1h.75v.75h-.75zM54.2 254.6h.75v.75h-.75zM65.3 246.5h.75v.75h-.75zM52.0 254.4h.75v.75h-.75zM50.7 255.5h.75v.75h-.75zM53.2 256.9h.75v.75h-.75zM46.7 242.8h.75v.75h-.75zM48.6 248.2h.75v.75h-.75zM49.8 247.1h.75v.75h-.75zM55.7 250.3h.75v.75h-.75zM49.4 247.9h.75v.75h-.75zM65.2 253.3h.75v.75h-.75zM62.4 254.3h.75v.75h-.75zM52.9 253.0h.75v.75h-.75zM67.7 246.8h.75v.75h-.75zM65.4 240.9h.75v.75h-.75zM46.4 246.3h.75v.75h-.75zM50.5 252.7h.75v.75h-.75zM48.5 248.4h.75v.75h-.75zM44.0 244.0h.75v.75h-.75zM52.9 247.1h.75v.75h-.75zM61.5 250.2h.75v.75h-.75zM44.8 248.3h.75v.75h-.75zM46.0 246.8h.75v.75h-.75zM49.5 245.5h.75v.75h-.75zM48.4 248.7h.75v.75h-.75zM60.1 252.3h.75v.75h-.75zM68.7 243.9h.75v.75h-.75zM51.2 254.1h.75v.75h-.75zM45.3 249.1h.75v.75h-.75zM60.2 255.3h.75v.75h-.75zM58.9 250.9h.75v.75h-.75zM53.0 252.0h.75v.75h-.75zM55.1 251.0h.75v.75h-.75zM49.1 249.3h.75v.75h-.75zM47.2 245.8h.75v.75h-.75zM47.5 246.7h.75v.75h-.75zM48.9 247.6h.75v.75h-.75zM56.8 255.3h.75v.75h-.75zM46.5 246.6h.75v.75h-.75zM54.8 246.6h.75v.75h-.75zM48.1 252.4h.75v.75h-.75zM52.8 243.9h.75v.75h-.75zM61.9 257.8h.75v.75h-.75zM63.3 249.1h.75v.75h-.75zM65.1 249.5h.75v.75h-.75zM51.4 250.6h.75v.75h-.75zM64.6 250.1h.75v.75h-.75zM51.8 244.7h.75v.75h-.75zM55.8 245.8h.75v.75h-.75zM53.5 244.7h.75v.75h-.75zM47.3 246.2h.75v.75h-.75zM48.9 245.6h.75v.75h-.75zM64.1 252.5h.75v.75h-.75zM51.6 246.0h.75v.75h-.75zM63.0 248.8h.75v.75h-.75zM58.8 253.3h.75v.75h-.75zM51.0 251.3h.75v.75h-.75zM57.8 248.2h.75v.75h-.75zM52.9 247.5h.75v.75h-.75zM67.4 253.4h.75v.75h-.75zM76.0 250.0h.75v.75h-.75zM61.3 247.5h.75v.75h-.75zM48.2 246.6h.75v.75h-.75zM57.9 252.5h.75v.75h-.75zM61.5 252.5h.75v.75h-.75zM44.0 250.4h.75v.75h-.75zM56.8 244.9h.75v.75h-.75zM45.1 257.6h.75v.75h-.75zM48.8 247.9h.75v.75h-.75zM65.1 251.1h.75v.75h-.75zM47.4 249.8h.75v.75h-.75zM57.1 251.8h.75v.75h-.75zM46.3 251.0h.75v.75h-.75zM48.9 247.9h.75v.75h-.75zM47.4 246.8h.75v.75h-.75zM58.1 243.4h.75v.75h-.75zM55.8 259.4h.75v.75h-.75zM47.1 248.7h.75v.75h-.75zM53.6 255.3h.75v.75h-.75z" fill="#4a60c0" fill-opacity="0.65"/>
<ellipse cx="200" cy="237.8" rx="12" ry="3.8" fill="#8a9ab0" opacity="0.5" filter="url(#bl)"/>
<path d="M200.1 243.9h.8v.8h-.8zM198.9 244.0h.8v.8h-.8zM219.6 242.8h.8v.8h-.8zM178.9 238.0h.8v.8h-.8zM194.6 232.1h.8v.8h-.8zM195.2 245.1h.8v.8h-.8zM186.9 231.9h.8v.8h-.8zM217.2 238.8h.8v.8h-.8zM217.0 231.6h.8v.8h-.8zM193.1 231.7h.8v.8h-.8zM196.3 229.6h.8v.8h-.8zM217.5 233.0h.8v.8h-.8zM216.3 238.6h.8v.8h-.8zM177.3 241.3h.8v.8h-.8zM177.7 233.3h.8v.8h-.8zM185.4 233.4h.8v.8h-.8zM180.7 241.6h.8v.8h-.8zM195.4 244.3h.8v.8h-.8zM188.2 242.7h.8v.8h-.8zM201.7 245.4h.8v.8h-.8zM173.0 241.5h.8v.8h-.8zM210.0 232.0h.8v.8h-.8zM176.4 241.8h.8v.8h-.8zM190.3 245.0h.8v.8h-.8zM216.7 241.1h.8v.8h-.8zM234.1 232.2h.8v.8h-.8zM219.7 239.6h.8v.8h-.8zM203.6 229.7h.8v.8h-.8zM186.8 231.8h.8v.8h-.8zM208.8 244.7h.8v.8h-.8zM200.7 245.4h.8v.8h-.8zM208.5 232.7h.8v.8h-.8zM214.1 240.6h.8v.8h-.8zM217.1 236.5h.8v.8h-.8zM169.5 237.7h.8v.8h-.8zM177.7 233.9h.8v.8h-.8zM197.7 244.3h.8v.8h-.8zM179.7 232.4h.8v.8h-.8zM201.3 231.9h.8v.8h-.8zM176.1 236.5h.8v.8h-.8zM212.7 241.8h.8v.8h-.8zM217.5 238.9h.8v.8h-.8zM216.6 235.3h.8v.8h-.8zM214.5 242.0h.8v.8h-.8zM184.9 243.5h.8v.8h-.8zM172.7 239.9h.8v.8h-.8zM214.1 241.1h.8v.8h-.8zM214.9 234.8h.8v.8h-.8zM191.6 231.3h.8v.8h-.8zM189.5 230.0h.8v.8h-.8zM216.2 237.4h.8v.8h-.8zM208.1 231.4h.8v.8h-.8zM180.2 234.4h.8v.8h-.8zM216.1 238.7h.8v.8h-.8zM183.6 231.7h.8v.8h-.8zM183.8 232.6h.8v.8h-.8zM186.3 242.3h.8v.8h-.8zM217.1 233.8h.8v.8h-.8zM181.8 240.6h.8v.8h-.8zM208.5 232.5h.8v.8h-.8zM211.6 242.3h.8v.8h-.8zM207.6 243.2h.8v.8h-.8zM220.2 236.7h.8v.8h-.8zM178.2 238.3h.8v.8h-.8zM202.1 246.7h.8v.8h-.8zM206.0 245.4h.8v.8h-.8zM183.3 241.5h.8v.8h-.8zM171.4 243.1h.8v.8h-.8zM215.6 241.1h.8v.8h-.8zM207.2 231.9h.8v.8h-.8zM211.6 242.5h.8v.8h-.8zM204.7 230.5h.8v.8h-.8zM216.7 238.7h.8v.8h-.8zM173.3 239.6h.8v.8h-.8zM184.8 233.1h.8v.8h-.8zM201.6 228.2h.8v.8h-.8zM213.4 234.6h.8v.8h-.8zM213.7 241.9h.8v.8h-.8zM186.5 244.3h.8v.8h-.8zM179.8 241.4h.8v.8h-.8zM181.2 234.4h.8v.8h-.8zM178.2 243.5h.8v.8h-.8zM183.6 242.8h.8v.8h-.8zM179.8 244.7h.8v.8h-.8zM166.2 237.4h.8v.8h-.8zM214.3 243.0h.8v.8h-.8zM217.5 237.2h.8v.8h-.8zM217.7 236.2h.8v.8h-.8zM198.2 230.6h.8v.8h-.8zM217.1 232.9h.8v.8h-.8zM177.2 234.6h.8v.8h-.8zM179.0 239.8h.8v.8h-.8zM216.2 237.4h.8v.8h-.8zM191.3 232.3h.8v.8h-.8zM209.8 243.5h.8v.8h-.8zM196.3 230.3h.8v.8h-.8zM184.2 241.7h.8v.8h-.8zM197.2 245.3h.8v.8h-.8zM183.0 241.9h.8v.8h-.8zM172.6 237.7h.8v.8h-.8zM172.7 240.3h.8v.8h-.8zM204.0 231.8h.8v.8h-.8zM169.4 238.9h.8v.8h-.8z" fill="#c2c8e0" fill-opacity="0.85"/>
<path d="M212.8 236.2h.8v.8h-.8zM211.6 236.9h.8v.8h-.8zM207.1 234.5h.8v.8h-.8zM210.5 235.3h.8v.8h-.8zM183.5 237.6h.8v.8h-.8zM202.6 242.5h.8v.8h-.8zM184.6 235.1h.8v.8h-.8zM210.3 240.1h.8v.8h-.8zM207.8 241.5h.8v.8h-.8zM211.5 237.7h.8v.8h-.8zM181.7 240.1h.8v.8h-.8zM185.6 241.2h.8v.8h-.8zM213.2 238.2h.8v.8h-.8zM202.4 243.2h.8v.8h-.8zM180.4 237.5h.8v.8h-.8zM207.1 233.1h.8v.8h-.8zM188.0 234.0h.8v.8h-.8zM202.5 232.2h.8v.8h-.8zM211.4 236.1h.8v.8h-.8zM207.3 232.5h.8v.8h-.8zM179.8 238.0h.8v.8h-.8zM196.8 242.3h.8v.8h-.8zM210.2 239.3h.8v.8h-.8zM185.4 235.3h.8v.8h-.8zM204.5 242.9h.8v.8h-.8zM191.9 241.1h.8v.8h-.8zM182.4 237.0h.8v.8h-.8zM187.9 234.9h.8v.8h-.8zM212.1 240.9h.8v.8h-.8zM190.0 241.7h.8v.8h-.8zM209.5 234.5h.8v.8h-.8zM206.8 234.1h.8v.8h-.8zM207.7 241.5h.8v.8h-.8zM202.0 242.1h.8v.8h-.8zM184.3 236.8h.8v.8h-.8zM192.2 242.2h.8v.8h-.8zM183.4 237.9h.8v.8h-.8zM211.0 240.6h.8v.8h-.8zM214.7 238.8h.8v.8h-.8zM184.4 241.5h.8v.8h-.8zM183.0 236.4h.8v.8h-.8zM206.1 241.7h.8v.8h-.8zM184.8 239.4h.8v.8h-.8zM210.7 241.2h.8v.8h-.8zM186.4 239.5h.8v.8h-.8zM186.9 240.2h.8v.8h-.8zM191.7 241.6h.8v.8h-.8zM186.6 234.6h.8v.8h-.8zM183.5 236.0h.8v.8h-.8zM211.1 238.8h.8v.8h-.8zM206.3 233.9h.8v.8h-.8zM190.6 234.2h.8v.8h-.8zM210.7 235.8h.8v.8h-.8zM182.4 238.9h.8v.8h-.8zM212.0 239.9h.8v.8h-.8zM200.8 233.6h.8v.8h-.8zM210.2 241.2h.8v.8h-.8zM207.1 242.7h.8v.8h-.8zM189.2 234.7h.8v.8h-.8zM207.4 234.3h.8v.8h-.8zM207.5 242.1h.8v.8h-.8zM200.0 233.3h.8v.8h-.8zM207.2 233.2h.8v.8h-.8zM187.8 233.7h.8v.8h-.8zM211.0 238.6h.8v.8h-.8zM183.8 236.0h.8v.8h-.8zM188.8 241.6h.8v.8h-.8zM213.4 239.7h.8v.8h-.8zM194.8 243.3h.8v.8h-.8zM211.1 238.6h.8v.8h-.8zM186.2 235.4h.8v.8h-.8zM198.4 242.0h.8v.8h-.8zM200.0 242.9h.8v.8h-.8zM203.9 241.8h.8v.8h-.8zM199.2 232.3h.8v.8h-.8zM214.3 237.3h.8v.8h-.8zM213.0 235.1h.8v.8h-.8zM184.6 238.5h.8v.8h-.8zM191.9 241.8h.8v.8h-.8zM212.3 240.6h.8v.8h-.8zM203.2 233.5h.8v.8h-.8zM202.9 241.9h.8v.8h-.8zM183.9 234.4h.8v.8h-.8zM185.3 236.5h.8v.8h-.8zM212.4 238.6h.8v.8h-.8zM210.2 233.7h.8v.8h-.8zM195.3 241.7h.8v.8h-.8zM189.0 234.9h.8v.8h-.8zM210.3 239.2h.8v.8h-.8zM211.3 236.9h.8v.8h-.8zM180.3 237.8h.8v.8h-.8zM189.4 241.9h.8v.8h-.8zM210.0 241.0h.8v.8h-.8zM204.7 233.9h.8v.8h-.8zM211.1 235.1h.8v.8h-.8zM194.3 233.0h.8v.8h-.8zM187.0 235.2h.8v.8h-.8zM194.1 242.3h.8v.8h-.8zM203.7 242.0h.8v.8h-.8zM187.2 240.6h.8v.8h-.8zM209.7 240.1h.8v.8h-.8zM189.0 235.0h.8v.8h-.8zM181.7 240.1h.8v.8h-.8zM190.7 232.9h.8v.8h-.8zM210.2 234.6h.8v.8h-.8zM186.5 234.4h.8v.8h-.8zM212.0 234.7h.8v.8h-.8zM187.8 234.2h.8v.8h-.8zM212.6 236.5h.8v.8h-.8zM192.7 232.6h.8v.8h-.8zM180.5 236.6h.8v.8h-.8zM202.9 232.8h.8v.8h-.8zM210.3 240.0h.8v.8h-.8zM204.1 241.7h.8v.8h-.8zM208.2 240.9h.8v.8h-.8zM188.1 235.3h.8v.8h-.8zM202.9 242.5h.8v.8h-.8zM213.1 239.7h.8v.8h-.8zM184.9 236.6h.8v.8h-.8zM181.5 240.0h.8v.8h-.8zM186.1 238.5h.8v.8h-.8zM204.1 241.6h.8v.8h-.8zM206.8 233.7h.8v.8h-.8zM179.2 237.5h.8v.8h-.8zM212.9 237.6h.8v.8h-.8zM214.8 237.7h.8v.8h-.8zM204.5 232.9h.8v.8h-.8zM213.4 234.9h.8v.8h-.8zM214.6 236.7h.8v.8h-.8zM199.4 243.1h.8v.8h-.8zM187.4 239.6h.8v.8h-.8zM183.2 236.0h.8v.8h-.8zM200.3 243.0h.8v.8h-.8zM204.0 233.0h.8v.8h-.8zM192.8 243.1h.8v.8h-.8zM203.3 233.0h.8v.8h-.8zM197.9 233.0h.8v.8h-.8zM213.1 237.0h.8v.8h-.8zM195.0 233.9h.8v.8h-.8zM195.5 242.8h.8v.8h-.8zM203.7 242.0h.8v.8h-.8zM210.4 239.8h.8v.8h-.8zM210.5 234.2h.8v.8h-.8zM211.0 236.2h.8v.8h-.8zM202.3 242.2h.8v.8h-.8zM191.9 234.2h.8v.8h-.8zM180.8 238.9h.8v.8h-.8zM199.1 233.6h.8v.8h-.8zM211.0 237.8h.8v.8h-.8zM202.6 242.5h.8v.8h-.8zM203.2 233.3h.8v.8h-.8zM207.4 241.4h.8v.8h-.8zM202.0 232.4h.8v.8h-.8zM212.5 235.7h.8v.8h-.8zM202.9 242.6h.8v.8h-.8zM203.2 242.2h.8v.8h-.8zM204.1 233.5h.8v.8h-.8zM204.3 232.9h.8v.8h-.8zM182.5 236.8h.8v.8h-.8zM212.5 238.7h.8v.8h-.8zM208.5 233.6h.8v.8h-.8zM192.2 234.2h.8v.8h-.8zM204.1 243.5h.8v.8h-.8zM194.3 241.5h.8v.8h-.8zM202.1 233.3h.8v.8h-.8zM184.4 236.2h.8v.8h-.8zM206.3 233.7h.8v.8h-.8zM212.3 236.7h.8v.8h-.8zM188.1 241.6h.8v.8h-.8zM184.6 237.8h.8v.8h-.8zM194.5 233.8h.8v.8h-.8zM185.4 239.8h.8v.8h-.8z" fill="#aab4cc" fill-opacity="0.85"/>
<path d="M190.2 239.0h.8v.8h-.8zM188.6 236.0h.8v.8h-.8zM186.9 236.6h.8v.8h-.8zM203.5 235.5h.8v.8h-.8zM195.7 241.1h.8v.8h-.8zM201.5 240.8h.8v.8h-.8zM208.7 236.2h.8v.8h-.8zM203.7 241.2h.8v.8h-.8zM207.8 237.7h.8v.8h-.8zM209.3 237.7h.8v.8h-.8zM209.1 239.8h.8v.8h-.8zM201.9 234.4h.8v.8h-.8zM187.5 239.1h.8v.8h-.8zM207.2 240.5h.8v.8h-.8zM204.8 241.4h.8v.8h-.8zM208.7 236.6h.8v.8h-.8zM202.0 234.2h.8v.8h-.8zM197.2 235.3h.8v.8h-.8zM190.3 237.3h.8v.8h-.8zM209.6 237.9h.8v.8h-.8zM191.0 235.9h.8v.8h-.8zM196.1 234.8h.8v.8h-.8zM203.0 234.0h.8v.8h-.8zM207.9 240.0h.8v.8h-.8zM200.8 240.4h.8v.8h-.8zM209.1 236.7h.8v.8h-.8zM208.0 237.1h.8v.8h-.8zM189.8 235.5h.8v.8h-.8zM204.5 241.3h.8v.8h-.8zM190.5 235.8h.8v.8h-.8zM191.3 234.8h.8v.8h-.8zM193.8 235.3h.8v.8h-.8zM206.0 234.6h.8v.8h-.8zM195.6 234.1h.8v.8h-.8zM190.0 235.3h.8v.8h-.8zM191.5 235.8h.8v.8h-.8zM201.4 240.4h.8v.8h-.8zM196.8 240.2h.8v.8h-.8zM189.5 238.9h.8v.8h-.8zM189.1 238.9h.8v.8h-.8zM195.2 235.6h.8v.8h-.8zM204.7 235.0h.8v.8h-.8zM188.0 236.5h.8v.8h-.8zM198.7 241.3h.8v.8h-.8zM202.6 235.4h.8v.8h-.8zM206.7 238.9h.8v.8h-.8zM204.9 241.1h.8v.8h-.8zM207.1 239.5h.8v.8h-.8zM198.4 233.8h.8v.8h-.8zM197.2 241.6h.8v.8h-.8zM208.9 236.6h.8v.8h-.8zM188.3 238.4h.8v.8h-.8zM192.6 239.8h.8v.8h-.8zM195.5 240.3h.8v.8h-.8zM205.0 240.5h.8v.8h-.8zM208.0 236.4h.8v.8h-.8zM194.2 239.9h.8v.8h-.8zM189.3 239.5h.8v.8h-.8zM210.0 238.4h.8v.8h-.8zM191.4 238.0h.8v.8h-.8zM202.9 234.2h.8v.8h-.8zM190.0 237.4h.8v.8h-.8zM207.3 239.8h.8v.8h-.8zM190.5 235.7h.8v.8h-.8zM207.0 238.5h.8v.8h-.8zM191.6 238.1h.8v.8h-.8zM202.8 234.1h.8v.8h-.8zM198.1 240.8h.8v.8h-.8zM207.8 235.1h.8v.8h-.8zM209.7 236.4h.8v.8h-.8zM203.3 241.3h.8v.8h-.8zM188.4 239.5h.8v.8h-.8zM192.2 239.8h.8v.8h-.8zM206.7 235.0h.8v.8h-.8zM191.0 235.4h.8v.8h-.8zM189.2 237.6h.8v.8h-.8zM203.5 234.2h.8v.8h-.8zM204.7 241.2h.8v.8h-.8zM189.7 239.4h.8v.8h-.8zM200.4 235.1h.8v.8h-.8zM207.4 239.1h.8v.8h-.8zM208.5 238.6h.8v.8h-.8zM204.1 240.2h.8v.8h-.8zM188.9 238.6h.8v.8h-.8zM206.0 235.8h.8v.8h-.8zM194.8 234.9h.8v.8h-.8zM202.3 240.2h.8v.8h-.8zM191.4 236.9h.8v.8h-.8zM198.5 241.2h.8v.8h-.8zM189.6 235.4h.8v.8h-.8zM209.7 239.5h.8v.8h-.8zM191.3 237.4h.8v.8h-.8zM190.1 238.1h.8v.8h-.8zM194.4 235.3h.8v.8h-.8zM190.7 237.2h.8v.8h-.8zM208.3 237.4h.8v.8h-.8zM202.3 234.4h.8v.8h-.8zM202.5 234.2h.8v.8h-.8zM192.4 238.9h.8v.8h-.8zM191.0 236.2h.8v.8h-.8zM197.3 235.0h.8v.8h-.8zM208.0 239.3h.8v.8h-.8zM206.8 240.6h.8v.8h-.8zM192.4 236.5h.8v.8h-.8zM205.4 235.0h.8v.8h-.8zM203.9 240.1h.8v.8h-.8zM208.4 237.9h.8v.8h-.8zM194.6 239.8h.8v.8h-.8zM209.1 238.2h.8v.8h-.8zM202.2 235.0h.8v.8h-.8zM200.3 234.9h.8v.8h-.8zM204.6 240.7h.8v.8h-.8zM200.9 241.4h.8v.8h-.8zM187.5 236.6h.8v.8h-.8zM206.9 236.9h.8v.8h-.8zM204.3 241.2h.8v.8h-.8zM187.3 237.7h.8v.8h-.8zM202.3 241.3h.8v.8h-.8zM207.1 237.3h.8v.8h-.8zM198.3 240.4h.8v.8h-.8zM191.8 236.6h.8v.8h-.8zM207.4 240.4h.8v.8h-.8zM208.0 237.4h.8v.8h-.8zM193.6 240.8h.8v.8h-.8zM204.1 241.0h.8v.8h-.8zM203.3 233.9h.8v.8h-.8zM206.5 239.3h.8v.8h-.8zM192.1 239.2h.8v.8h-.8zM206.2 240.3h.8v.8h-.8zM209.3 239.8h.8v.8h-.8zM199.4 241.5h.8v.8h-.8zM198.5 241.1h.8v.8h-.8zM207.1 236.6h.8v.8h-.8zM200.1 234.8h.8v.8h-.8zM200.6 241.0h.8v.8h-.8zM198.4 240.5h.8v.8h-.8zM203.5 240.3h.8v.8h-.8zM194.7 240.6h.8v.8h-.8zM208.0 237.9h.8v.8h-.8zM202.6 240.4h.8v.8h-.8zM207.1 240.0h.8v.8h-.8zM200.1 234.9h.8v.8h-.8zM210.0 239.0h.8v.8h-.8zM206.8 236.8h.8v.8h-.8zM202.3 234.0h.8v.8h-.8zM187.0 238.1h.8v.8h-.8zM204.2 240.4h.8v.8h-.8zM206.1 240.0h.8v.8h-.8zM207.8 237.1h.8v.8h-.8zM190.6 236.5h.8v.8h-.8zM209.9 239.5h.8v.8h-.8zM194.9 240.7h.8v.8h-.8zM203.6 240.8h.8v.8h-.8zM197.5 241.3h.8v.8h-.8zM189.9 239.8h.8v.8h-.8zM209.1 239.7h.8v.8h-.8zM192.9 235.3h.8v.8h-.8zM187.3 237.9h.8v.8h-.8zM202.8 235.2h.8v.8h-.8zM195.0 240.7h.8v.8h-.8zM208.9 240.0h.8v.8h-.8zM198.7 235.0h.8v.8h-.8zM199.6 234.9h.8v.8h-.8zM194.9 241.4h.8v.8h-.8zM191.2 235.6h.8v.8h-.8zM210.1 238.7h.8v.8h-.8zM193.8 235.7h.8v.8h-.8zM206.6 239.3h.8v.8h-.8zM203.9 240.4h.8v.8h-.8zM202.9 235.3h.8v.8h-.8zM194.4 239.6h.8v.8h-.8zM196.6 234.4h.8v.8h-.8zM192.8 235.6h.8v.8h-.8zM199.5 240.3h.8v.8h-.8zM193.6 240.7h.8v.8h-.8zM204.7 235.6h.8v.8h-.8zM197.4 234.7h.8v.8h-.8zM197.6 234.4h.8v.8h-.8zM208.4 236.5h.8v.8h-.8zM196.8 240.2h.8v.8h-.8zM198.3 240.9h.8v.8h-.8zM204.8 234.4h.8v.8h-.8zM196.6 234.1h.8v.8h-.8zM208.0 236.1h.8v.8h-.8zM204.8 235.6h.8v.8h-.8zM205.6 234.7h.8v.8h-.8zM208.2 238.2h.8v.8h-.8zM200.5 234.9h.8v.8h-.8zM208.6 239.3h.8v.8h-.8zM189.7 239.4h.8v.8h-.8zM189.6 240.0h.8v.8h-.8zM205.2 241.4h.8v.8h-.8zM209.5 236.9h.8v.8h-.8zM190.8 239.8h.8v.8h-.8z" fill="#92a0b8" fill-opacity="0.85"/>
<path d="M203.5 237.9h.8v.8h-.8zM205.6 238.2h.8v.8h-.8zM205.5 238.0h.8v.8h-.8zM203.5 237.9h.8v.8h-.8zM195.5 238.0h.8v.8h-.8zM203.0 235.5h.8v.8h-.8zM196.7 237.1h.8v.8h-.8zM201.3 239.8h.8v.8h-.8zM193.8 237.7h.8v.8h-.8zM202.6 238.3h.8v.8h-.8zM203.0 240.1h.8v.8h-.8zM202.3 235.5h.8v.8h-.8zM201.7 236.4h.8v.8h-.8zM196.2 238.7h.8v.8h-.8zM194.5 237.7h.8v.8h-.8zM200.0 235.4h.8v.8h-.8zM193.9 239.1h.8v.8h-.8zM200.5 236.0h.8v.8h-.8zM197.0 236.7h.8v.8h-.8zM201.7 239.4h.8v.8h-.8zM199.2 237.0h.8v.8h-.8zM201.3 236.6h.8v.8h-.8zM201.6 235.5h.8v.8h-.8zM202.1 238.9h.8v.8h-.8zM201.1 239.2h.8v.8h-.8zM196.4 235.8h.8v.8h-.8zM199.9 238.1h.8v.8h-.8zM204.9 237.3h.8v.8h-.8zM204.7 239.6h.8v.8h-.8zM204.3 236.4h.8v.8h-.8zM199.5 236.9h.8v.8h-.8zM192.6 237.0h.8v.8h-.8zM204.4 239.7h.8v.8h-.8zM202.3 238.3h.8v.8h-.8zM198.1 236.0h.8v.8h-.8zM200.2 236.0h.8v.8h-.8zM197.4 237.2h.8v.8h-.8zM200.0 237.5h.8v.8h-.8zM201.1 236.6h.8v.8h-.8zM192.3 238.6h.8v.8h-.8zM196.0 239.7h.8v.8h-.8zM203.8 237.3h.8v.8h-.8zM198.7 236.6h.8v.8h-.8zM205.5 238.4h.8v.8h-.8zM198.6 239.7h.8v.8h-.8zM199.7 239.3h.8v.8h-.8zM201.2 236.0h.8v.8h-.8zM204.6 238.6h.8v.8h-.8zM194.5 237.4h.8v.8h-.8zM203.6 237.8h.8v.8h-.8zM198.7 236.5h.8v.8h-.8zM206.3 238.6h.8v.8h-.8zM199.5 236.0h.8v.8h-.8zM201.1 237.1h.8v.8h-.8zM192.0 238.3h.8v.8h-.8zM199.3 236.6h.8v.8h-.8zM203.1 239.7h.8v.8h-.8zM194.3 238.3h.8v.8h-.8zM200.2 239.8h.8v.8h-.8zM202.1 238.6h.8v.8h-.8zM200.4 236.3h.8v.8h-.8zM201.4 239.1h.8v.8h-.8zM198.6 235.8h.8v.8h-.8zM201.0 237.4h.8v.8h-.8zM202.9 237.6h.8v.8h-.8zM201.5 235.4h.8v.8h-.8zM196.6 237.3h.8v.8h-.8zM201.3 235.9h.8v.8h-.8zM201.6 236.7h.8v.8h-.8zM201.4 238.3h.8v.8h-.8zM197.5 238.1h.8v.8h-.8zM201.7 239.6h.8v.8h-.8zM195.3 239.7h.8v.8h-.8zM196.8 236.6h.8v.8h-.8zM202.5 239.0h.8v.8h-.8zM199.4 238.7h.8v.8h-.8zM200.6 238.2h.8v.8h-.8zM204.0 237.5h.8v.8h-.8zM203.7 238.4h.8v.8h-.8zM196.1 237.5h.8v.8h-.8zM194.6 237.0h.8v.8h-.8zM202.9 238.8h.8v.8h-.8zM203.3 237.5h.8v.8h-.8zM201.2 236.2h.8v.8h-.8zM197.3 239.2h.8v.8h-.8zM195.5 236.4h.8v.8h-.8zM199.1 237.9h.8v.8h-.8zM196.6 237.7h.8v.8h-.8zM193.3 237.3h.8v.8h-.8zM199.9 236.8h.8v.8h-.8zM197.4 236.8h.8v.8h-.8zM205.5 236.7h.8v.8h-.8zM197.2 238.4h.8v.8h-.8zM202.8 239.6h.8v.8h-.8zM204.3 239.5h.8v.8h-.8zM194.2 236.4h.8v.8h-.8zM204.2 236.1h.8v.8h-.8zM193.1 237.1h.8v.8h-.8zM201.2 239.1h.8v.8h-.8zM205.1 237.4h.8v.8h-.8zM206.1 238.7h.8v.8h-.8zM192.7 238.1h.8v.8h-.8zM200.5 237.7h.8v.8h-.8zM195.5 238.1h.8v.8h-.8zM203.9 237.8h.8v.8h-.8zM202.3 240.0h.8v.8h-.8zM203.9 237.2h.8v.8h-.8zM204.3 237.6h.8v.8h-.8zM200.0 239.2h.8v.8h-.8zM203.7 239.9h.8v.8h-.8zM202.9 238.9h.8v.8h-.8zM203.5 237.4h.8v.8h-.8zM205.1 237.3h.8v.8h-.8zM199.0 236.9h.8v.8h-.8zM200.2 236.5h.8v.8h-.8zM202.4 238.9h.8v.8h-.8zM200.1 238.1h.8v.8h-.8zM204.0 236.8h.8v.8h-.8zM199.8 236.3h.8v.8h-.8zM196.6 236.7h.8v.8h-.8zM196.0 237.5h.8v.8h-.8zM196.4 239.5h.8v.8h-.8zM202.2 239.8h.8v.8h-.8zM200.2 236.5h.8v.8h-.8zM192.6 238.5h.8v.8h-.8zM206.4 238.4h.8v.8h-.8zM200.4 239.8h.8v.8h-.8zM204.0 236.7h.8v.8h-.8zM202.8 237.9h.8v.8h-.8zM202.0 240.1h.8v.8h-.8zM195.6 236.1h.8v.8h-.8zM198.6 237.2h.8v.8h-.8zM199.7 237.2h.8v.8h-.8zM199.5 238.7h.8v.8h-.8zM200.4 237.9h.8v.8h-.8zM196.9 237.9h.8v.8h-.8zM199.6 239.1h.8v.8h-.8zM194.2 237.3h.8v.8h-.8zM198.8 235.7h.8v.8h-.8zM202.3 236.5h.8v.8h-.8zM200.6 236.5h.8v.8h-.8zM195.0 239.5h.8v.8h-.8zM202.3 238.6h.8v.8h-.8zM206.1 238.6h.8v.8h-.8zM197.2 236.8h.8v.8h-.8zM205.0 236.0h.8v.8h-.8zM201.4 239.2h.8v.8h-.8zM204.4 235.8h.8v.8h-.8zM201.2 237.7h.8v.8h-.8zM201.9 239.2h.8v.8h-.8zM199.4 237.2h.8v.8h-.8zM204.2 238.6h.8v.8h-.8zM200.6 235.7h.8v.8h-.8zM198.8 237.8h.8v.8h-.8zM198.1 237.7h.8v.8h-.8zM203.8 238.8h.8v.8h-.8zM201.6 239.0h.8v.8h-.8zM204.3 239.4h.8v.8h-.8zM202.0 237.4h.8v.8h-.8zM198.7 237.5h.8v.8h-.8zM201.6 237.5h.8v.8h-.8zM201.7 237.4h.8v.8h-.8zM204.1 237.0h.8v.8h-.8zM203.2 236.2h.8v.8h-.8zM203.0 236.0h.8v.8h-.8zM203.2 239.3h.8v.8h-.8zM204.6 237.3h.8v.8h-.8zM193.9 239.0h.8v.8h-.8zM202.7 237.4h.8v.8h-.8zM202.1 237.4h.8v.8h-.8zM197.4 238.4h.8v.8h-.8zM201.6 237.0h.8v.8h-.8zM203.8 239.7h.8v.8h-.8zM201.7 237.2h.8v.8h-.8zM204.5 236.0h.8v.8h-.8zM202.4 239.4h.8v.8h-.8zM201.8 235.7h.8v.8h-.8zM195.0 239.5h.8v.8h-.8zM195.0 237.8h.8v.8h-.8zM197.7 238.7h.8v.8h-.8z" fill="#7a8aa0" fill-opacity="0.85"/>
<path d="M178.7 237.9h.7v.7h-.7zM189.9 242.4h.7v.7h-.7zM174.8 238.0h.7v.7h-.7zM174.8 238.4h.7v.7h-.7zM178.7 234.7h.7v.7h-.7zM194.0 239.4h.7v.7h-.7zM184.0 242.3h.7v.7h-.7zM169.2 239.5h.7v.7h-.7zM198.4 237.2h.7v.7h-.7zM176.1 235.9h.7v.7h-.7zM195.0 241.5h.7v.7h-.7zM186.9 241.1h.7v.7h-.7zM177.9 237.1h.7v.7h-.7zM191.4 235.4h.7v.7h-.7zM185.9 238.2h.7v.7h-.7zM176.3 238.9h.7v.7h-.7zM172.4 236.3h.7v.7h-.7zM166.1 234.5h.7v.7h-.7zM175.9 239.3h.7v.7h-.7zM184.0 234.5h.7v.7h-.7zM181.6 245.0h.7v.7h-.7zM184.5 239.5h.7v.7h-.7zM194.1 233.9h.7v.7h-.7zM175.7 236.0h.7v.7h-.7zM182.6 240.0h.7v.7h-.7zM168.1 240.3h.7v.7h-.7zM187.5 234.7h.7v.7h-.7zM176.1 236.6h.7v.7h-.7zM198.2 235.2h.7v.7h-.7zM192.4 244.1h.7v.7h-.7zM180.2 235.8h.7v.7h-.7zM183.7 235.2h.7v.7h-.7zM180.3 235.0h.7v.7h-.7zM170.2 233.3h.7v.7h-.7zM192.0 236.1h.7v.7h-.7zM173.2 241.4h.7v.7h-.7zM182.0 237.1h.7v.7h-.7zM176.7 238.2h.7v.7h-.7zM180.7 236.8h.7v.7h-.7zM182.0 240.5h.7v.7h-.7zM181.8 242.1h.7v.7h-.7zM192.4 235.0h.7v.7h-.7zM174.8 234.3h.7v.7h-.7zM176.6 240.3h.7v.7h-.7zM180.4 236.6h.7v.7h-.7zM184.4 231.5h.7v.7h-.7zM186.4 237.6h.7v.7h-.7zM189.5 237.2h.7v.7h-.7zM192.5 241.3h.7v.7h-.7zM180.8 239.8h.7v.7h-.7zM175.3 236.0h.7v.7h-.7zM173.5 237.5h.7v.7h-.7zM172.4 234.8h.7v.7h-.7zM181.4 233.7h.7v.7h-.7zM188.7 235.3h.7v.7h-.7zM181.2 237.2h.7v.7h-.7zM192.6 239.9h.7v.7h-.7zM181.2 236.3h.7v.7h-.7zM191.2 237.7h.7v.7h-.7zM173.9 238.5h.7v.7h-.7zM189.1 238.0h.7v.7h-.7zM183.9 242.6h.7v.7h-.7zM178.7 240.4h.7v.7h-.7zM197.6 243.2h.7v.7h-.7zM172.9 239.7h.7v.7h-.7zM184.6 245.3h.7v.7h-.7zM195.0 241.2h.7v.7h-.7zM194.2 239.8h.7v.7h-.7zM174.0 244.9h.7v.7h-.7zM168.0 240.4h.7v.7h-.7zM190.5 238.7h.7v.7h-.7zM192.6 238.1h.7v.7h-.7zM190.8 238.9h.7v.7h-.7zM176.8 241.1h.7v.7h-.7zM178.4 240.0h.7v.7h-.7zM174.0 238.8h.7v.7h-.7zM188.4 241.6h.7v.7h-.7zM173.6 236.5h.7v.7h-.7zM183.4 235.0h.7v.7h-.7zM189.0 245.3h.7v.7h-.7zM189.7 240.0h.7v.7h-.7zM176.0 239.8h.7v.7h-.7zM188.4 244.1h.7v.7h-.7zM180.3 241.9h.7v.7h-.7zM180.3 237.3h.7v.7h-.7zM179.6 239.0h.7v.7h-.7zM169.9 237.0h.7v.7h-.7zM197.0 232.7h.7v.7h-.7zM191.5 240.5h.7v.7h-.7zM179.6 235.8h.7v.7h-.7zM193.9 237.1h.7v.7h-.7zM186.3 237.5h.7v.7h-.7zM173.4 241.3h.7v.7h-.7zM189.5 235.3h.7v.7h-.7zM193.6 234.4h.7v.7h-.7zM171.9 240.7h.7v.7h-.7zM179.6 238.1h.7v.7h-.7zM198.0 234.9h.7v.7h-.7zM189.1 236.9h.7v.7h-.7zM184.4 237.5h.7v.7h-.7zM176.4 238.3h.7v.7h-.7zM175.2 238.2h.7v.7h-.7zM174.9 237.3h.7v.7h-.7zM184.7 233.9h.7v.7h-.7zM183.0 240.3h.7v.7h-.7zM184.6 241.0h.7v.7h-.7zM174.5 239.9h.7v.7h-.7zM186.4 229.8h.7v.7h-.7zM183.5 240.8h.7v.7h-.7zM182.9 238.3h.7v.7h-.7zM182.4 237.7h.7v.7h-.7zM174.1 236.1h.7v.7h-.7zM183.4 238.8h.7v.7h-.7zM189.2 239.7h.7v.7h-.7zM182.9 233.4h.7v.7h-.7zM172.7 243.2h.7v.7h-.7zM187.4 240.1h.7v.7h-.7zM174.0 236.7h.7v.7h-.7zM185.9 235.8h.7v.7h-.7zM194.4 235.8h.7v.7h-.7zM179.6 234.7h.7v.7h-.7zM186.8 242.1h.7v.7h-.7zM185.5 238.1h.7v.7h-.7zM180.3 240.6h.7v.7h-.7zM183.5 243.5h.7v.7h-.7zM181.1 237.0h.7v.7h-.7zM178.8 232.4h.7v.7h-.7zM185.6 238.5h.7v.7h-.7zM169.1 234.6h.7v.7h-.7zM173.8 237.2h.7v.7h-.7zM174.3 240.4h.7v.7h-.7zM194.3 236.2h.7v.7h-.7zM183.8 234.9h.7v.7h-.7zM195.5 234.9h.7v.7h-.7zM176.4 238.2h.7v.7h-.7zM176.2 246.2h.7v.7h-.7zM181.8 237.4h.7v.7h-.7zM174.6 237.9h.7v.7h-.7zM178.0 236.9h.7v.7h-.7zM192.5 236.4h.7v.7h-.7zM187.3 236.3h.7v.7h-.7zM192.6 235.9h.7v.7h-.7zM174.8 237.4h.7v.7h-.7zM194.8 236.9h.7v.7h-.7zM175.6 237.7h.7v.7h-.7zM177.1 238.9h.7v.7h-.7zM177.4 239.1h.7v.7h-.7zM191.6 239.6h.7v.7h-.7zM197.1 239.1h.7v.7h-.7zM200.2 242.0h.7v.7h-.7zM181.1 240.5h.7v.7h-.7zM176.9 237.5h.7v.7h-.7zM182.7 235.8h.7v.7h-.7zM186.3 237.9h.7v.7h-.7zM201.5 240.5h.7v.7h-.7zM181.3 236.1h.7v.7h-.7zM178.7 236.1h.7v.7h-.7zM176.8 238.2h.7v.7h-.7zM171.4 237.2h.7v.7h-.7zM187.9 236.4h.7v.7h-.7zM173.5 236.6h.7v.7h-.7zM191.2 235.9h.7v.7h-.7zM197.5 233.2h.7v.7h-.7zM176.3 240.0h.7v.7h-.7zM195.6 237.5h.7v.7h-.7zM168.7 237.3h.7v.7h-.7zM175.4 236.1h.7v.7h-.7zM180.2 236.3h.7v.7h-.7zM183.1 238.6h.7v.7h-.7zM180.9 232.8h.7v.7h-.7zM181.9 230.3h.7v.7h-.7zM184.2 236.9h.7v.7h-.7zM175.2 244.4h.7v.7h-.7zM198.4 242.1h.7v.7h-.7zM185.5 236.7h.7v.7h-.7zM187.7 243.0h.7v.7h-.7zM182.7 237.7h.7v.7h-.7zM178.3 237.9h.7v.7h-.7zM191.0 235.4h.7v.7h-.7zM193.0 238.6h.7v.7h-.7zM203.5 238.7h.7v.7h-.7zM194.9 235.2h.7v.7h-.7zM205.2 238.4h.7v.7h-.7zM182.9 242.6h.7v.7h-.7zM185.0 234.5h.7v.7h-.7zM189.0 239.8h.7v.7h-.7zM183.4 236.8h.7v.7h-.7zM169.1 243.2h.7v.7h-.7zM179.6 239.2h.7v.7h-.7zM179.1 236.0h.7v.7h-.7zM186.1 235.5h.7v.7h-.7zM192.0 233.4h.7v.7h-.7zM188.9 241.7h.7v.7h-.7zM179.7 238.8h.7v.7h-.7zM191.0 236.9h.7v.7h-.7zM181.6 237.6h.7v.7h-.7zM208.0 235.7h.7v.7h-.7z" fill="#bcc4dc" fill-opacity="0.8"/>
<ellipse cx="64" cy="346" rx="12" ry="6" fill="#9aa8d8" opacity="0.55" filter="url(#bl)" transform="rotate(-20 64 346)"/>
<ellipse cx="66" cy="345.3" rx="6" ry="3.2" fill="#b0a040" opacity="0.75" filter="url(#bl2)" transform="rotate(-20 66 345.3)"/>
<path d="M73.7 349.4h.8v.8h-.8zM56.8 354.9h.8v.8h-.8zM83.4 342.5h.8v.8h-.8zM54.0 354.9h.8v.8h-.8zM56.0 342.0h.8v.8h-.8zM77.4 342.2h.8v.8h-.8zM54.1 354.2h.8v.8h-.8zM74.1 349.0h.8v.8h-.8zM54.5 355.2h.8v.8h-.8zM73.9 351.6h.8v.8h-.8zM72.9 337.0h.8v.8h-.8zM75.7 339.7h.8v.8h-.8zM66.9 354.0h.8v.8h-.8zM50.5 353.6h.8v.8h-.8zM59.6 356.8h.8v.8h-.8zM49.9 349.2h.8v.8h-.8zM49.7 353.5h.8v.8h-.8zM50.9 354.7h.8v.8h-.8zM69.2 337.8h.8v.8h-.8zM76.9 347.7h.8v.8h-.8zM58.6 340.0h.8v.8h-.8zM75.7 334.9h.8v.8h-.8zM77.0 345.1h.8v.8h-.8zM68.2 337.8h.8v.8h-.8zM65.7 355.2h.8v.8h-.8zM81.4 343.1h.8v.8h-.8zM58.4 355.9h.8v.8h-.8zM46.8 355.5h.8v.8h-.8zM83.9 338.8h.8v.8h-.8zM54.3 343.7h.8v.8h-.8zM79.2 338.5h.8v.8h-.8zM58.3 357.6h.8v.8h-.8zM71.4 334.8h.8v.8h-.8zM76.2 352.7h.8v.8h-.8zM54.4 338.4h.8v.8h-.8zM53.4 341.2h.8v.8h-.8zM50.9 342.2h.8v.8h-.8zM78.7 330.0h.8v.8h-.8zM66.9 335.5h.8v.8h-.8zM62.4 338.6h.8v.8h-.8zM49.5 346.2h.8v.8h-.8zM69.4 337.1h.8v.8h-.8zM51.1 341.9h.8v.8h-.8zM50.8 340.8h.8v.8h-.8zM73.7 349.9h.8v.8h-.8zM72.7 354.3h.8v.8h-.8zM69.0 337.9h.8v.8h-.8zM78.3 349.4h.8v.8h-.8zM78.5 344.9h.8v.8h-.8zM79.8 349.3h.8v.8h-.8zM51.8 342.3h.8v.8h-.8zM74.1 338.2h.8v.8h-.8zM63.5 354.3h.8v.8h-.8zM61.0 338.0h.8v.8h-.8zM71.6 350.9h.8v.8h-.8zM49.8 353.3h.8v.8h-.8zM73.2 338.3h.8v.8h-.8zM78.0 336.4h.8v.8h-.8zM64.2 338.2h.8v.8h-.8zM72.1 336.3h.8v.8h-.8zM79.8 341.3h.8v.8h-.8zM48.6 344.6h.8v.8h-.8zM77.7 336.1h.8v.8h-.8zM68.1 357.0h.8v.8h-.8zM79.5 345.1h.8v.8h-.8zM51.4 353.6h.8v.8h-.8zM75.1 335.4h.8v.8h-.8zM58.9 340.6h.8v.8h-.8zM53.4 353.3h.8v.8h-.8zM58.4 337.0h.8v.8h-.8zM66.6 330.5h.8v.8h-.8zM77.6 340.4h.8v.8h-.8zM81.3 340.3h.8v.8h-.8zM77.4 345.9h.8v.8h-.8zM78.3 348.3h.8v.8h-.8zM52.5 340.8h.8v.8h-.8zM64.7 358.0h.8v.8h-.8zM59.3 355.7h.8v.8h-.8zM57.9 339.3h.8v.8h-.8zM49.0 351.8h.8v.8h-.8zM74.3 336.8h.8v.8h-.8zM65.5 337.8h.8v.8h-.8zM81.5 338.8h.8v.8h-.8zM67.2 337.9h.8v.8h-.8zM73.9 349.8h.8v.8h-.8zM74.9 338.0h.8v.8h-.8zM75.2 335.0h.8v.8h-.8zM78.7 338.7h.8v.8h-.8zM79.0 339.9h.8v.8h-.8zM78.5 339.6h.8v.8h-.8zM65.1 337.1h.8v.8h-.8zM73.8 334.5h.8v.8h-.8zM77.4 336.1h.8v.8h-.8zM67.2 355.1h.8v.8h-.8zM66.3 338.1h.8v.8h-.8zM79.1 344.6h.8v.8h-.8zM76.1 353.8h.8v.8h-.8zM74.5 355.2h.8v.8h-.8zM75.1 337.5h.8v.8h-.8zM78.1 345.2h.8v.8h-.8zM63.2 355.3h.8v.8h-.8zM54.6 341.4h.8v.8h-.8zM61.6 354.6h.8v.8h-.8zM80.8 349.2h.8v.8h-.8zM71.4 337.8h.8v.8h-.8zM77.9 341.5h.8v.8h-.8zM81.1 339.2h.8v.8h-.8zM64.7 359.5h.8v.8h-.8zM76.5 346.0h.8v.8h-.8zM76.3 340.2h.8v.8h-.8zM53.2 343.8h.8v.8h-.8zM77.6 340.9h.8v.8h-.8zM72.3 337.3h.8v.8h-.8zM50.0 350.6h.8v.8h-.8zM49.4 346.2h.8v.8h-.8zM74.4 349.6h.8v.8h-.8zM51.7 345.8h.8v.8h-.8zM61.6 354.8h.8v.8h-.8zM64.7 338.2h.8v.8h-.8zM64.8 357.7h.8v.8h-.8zM68.6 337.1h.8v.8h-.8zM53.5 343.6h.8v.8h-.8zM78.8 343.1h.8v.8h-.8zM71.1 354.2h.8v.8h-.8zM57.7 357.1h.8v.8h-.8zM78.7 340.7h.8v.8h-.8zM76.5 341.4h.8v.8h-.8zM64.6 354.0h.8v.8h-.8zM67.2 333.4h.8v.8h-.8zM80.9 338.4h.8v.8h-.8zM53.9 355.0h.8v.8h-.8zM48.9 347.0h.8v.8h-.8zM61.8 359.3h.8v.8h-.8zM58.1 356.7h.8v.8h-.8zM54.8 358.5h.8v.8h-.8zM59.7 339.5h.8v.8h-.8zM75.5 338.2h.8v.8h-.8zM54.7 356.8h.8v.8h-.8zM57.4 339.6h.8v.8h-.8zM46.4 351.4h.8v.8h-.8zM51.2 349.7h.8v.8h-.8z" fill="#aab4e0" fill-opacity="0.8"/>
<path d="M54.7 345.6h.8v.8h-.8zM75.9 346.4h.8v.8h-.8zM58.2 342.5h.8v.8h-.8zM60.2 353.1h.8v.8h-.8zM68.8 339.3h.8v.8h-.8zM56.9 352.7h.8v.8h-.8zM53.3 352.2h.8v.8h-.8zM74.6 342.3h.8v.8h-.8zM59.3 342.1h.8v.8h-.8zM58.8 354.3h.8v.8h-.8zM74.1 344.1h.8v.8h-.8zM70.3 349.7h.8v.8h-.8zM63.9 339.4h.8v.8h-.8zM69.7 349.8h.8v.8h-.8zM63.7 339.9h.8v.8h-.8zM54.2 349.7h.8v.8h-.8zM61.4 339.9h.8v.8h-.8zM70.6 349.9h.8v.8h-.8zM74.6 342.1h.8v.8h-.8zM71.1 349.9h.8v.8h-.8zM71.9 341.1h.8v.8h-.8zM75.2 340.4h.8v.8h-.8zM66.6 339.8h.8v.8h-.8zM76.7 343.7h.8v.8h-.8zM67.4 350.8h.8v.8h-.8zM53.7 351.1h.8v.8h-.8zM63.4 352.2h.8v.8h-.8zM56.3 344.2h.8v.8h-.8zM75.2 340.5h.8v.8h-.8zM57.6 341.9h.8v.8h-.8zM75.3 343.2h.8v.8h-.8zM54.8 347.4h.8v.8h-.8zM67.2 352.4h.8v.8h-.8zM62.0 341.1h.8v.8h-.8zM71.2 348.6h.8v.8h-.8zM64.7 352.2h.8v.8h-.8zM60.4 352.3h.8v.8h-.8zM69.3 352.1h.8v.8h-.8zM73.4 348.0h.8v.8h-.8zM74.4 343.7h.8v.8h-.8zM67.5 340.0h.8v.8h-.8zM68.8 350.7h.8v.8h-.8zM65.5 340.3h.8v.8h-.8zM54.7 351.3h.8v.8h-.8zM56.6 343.9h.8v.8h-.8zM65.3 353.0h.8v.8h-.8zM55.2 347.2h.8v.8h-.8zM59.3 342.4h.8v.8h-.8zM73.3 340.7h.8v.8h-.8zM69.5 351.4h.8v.8h-.8zM62.4 352.8h.8v.8h-.8zM76.0 343.8h.8v.8h-.8zM68.1 338.8h.8v.8h-.8zM72.9 347.2h.8v.8h-.8zM58.2 353.7h.8v.8h-.8zM55.4 348.0h.8v.8h-.8zM73.5 345.0h.8v.8h-.8zM73.6 349.1h.8v.8h-.8zM64.0 340.4h.8v.8h-.8zM67.5 339.3h.8v.8h-.8zM62.2 353.7h.8v.8h-.8zM69.0 351.9h.8v.8h-.8zM63.5 340.7h.8v.8h-.8zM67.1 351.4h.8v.8h-.8zM74.4 345.1h.8v.8h-.8zM59.9 352.9h.8v.8h-.8zM70.8 349.0h.8v.8h-.8zM70.7 350.7h.8v.8h-.8zM68.5 351.1h.8v.8h-.8zM55.8 353.7h.8v.8h-.8zM57.1 343.4h.8v.8h-.8zM70.1 349.4h.8v.8h-.8zM61.1 353.8h.8v.8h-.8zM75.5 344.1h.8v.8h-.8zM75.8 342.6h.8v.8h-.8zM64.5 353.5h.8v.8h-.8zM76.2 344.8h.8v.8h-.8zM54.5 352.5h.8v.8h-.8zM62.4 352.5h.8v.8h-.8zM58.4 343.5h.8v.8h-.8zM54.8 348.9h.8v.8h-.8zM58.9 342.0h.8v.8h-.8zM54.2 344.7h.8v.8h-.8zM74.5 339.4h.8v.8h-.8zM58.1 352.2h.8v.8h-.8zM68.1 351.6h.8v.8h-.8zM68.1 352.4h.8v.8h-.8zM56.8 343.3h.8v.8h-.8zM73.9 347.2h.8v.8h-.8zM66.6 338.7h.8v.8h-.8zM68.0 350.8h.8v.8h-.8zM57.1 353.7h.8v.8h-.8zM63.5 340.2h.8v.8h-.8zM71.5 349.2h.8v.8h-.8zM75.8 341.1h.8v.8h-.8zM74.0 342.8h.8v.8h-.8zM70.5 339.9h.8v.8h-.8zM56.0 350.4h.8v.8h-.8zM61.4 340.8h.8v.8h-.8zM66.6 339.5h.8v.8h-.8zM54.3 351.1h.8v.8h-.8zM70.8 340.4h.8v.8h-.8zM67.3 338.8h.8v.8h-.8zM72.1 350.1h.8v.8h-.8zM74.2 343.6h.8v.8h-.8zM73.6 346.7h.8v.8h-.8zM54.6 347.4h.8v.8h-.8zM75.2 344.0h.8v.8h-.8zM55.9 352.2h.8v.8h-.8zM66.5 339.8h.8v.8h-.8zM57.6 342.6h.8v.8h-.8zM56.5 344.0h.8v.8h-.8zM73.2 339.0h.8v.8h-.8zM59.9 353.9h.8v.8h-.8zM57.2 352.2h.8v.8h-.8zM73.4 342.8h.8v.8h-.8zM69.6 349.6h.8v.8h-.8zM62.4 341.3h.8v.8h-.8zM54.9 348.3h.8v.8h-.8zM74.2 344.5h.8v.8h-.8zM55.7 349.7h.8v.8h-.8zM72.7 347.1h.8v.8h-.8zM70.5 339.6h.8v.8h-.8zM53.7 350.7h.8v.8h-.8zM75.6 341.4h.8v.8h-.8zM63.3 340.7h.8v.8h-.8zM61.5 352.1h.8v.8h-.8zM56.6 344.3h.8v.8h-.8zM75.7 343.4h.8v.8h-.8zM54.9 346.7h.8v.8h-.8zM55.3 344.0h.8v.8h-.8zM72.4 338.7h.8v.8h-.8zM75.0 342.4h.8v.8h-.8zM73.4 344.1h.8v.8h-.8zM55.0 349.2h.8v.8h-.8zM56.8 352.8h.8v.8h-.8zM72.5 341.4h.8v.8h-.8zM54.7 346.7h.8v.8h-.8zM53.5 348.8h.8v.8h-.8zM65.3 353.1h.8v.8h-.8zM57.5 343.5h.8v.8h-.8zM58.6 342.3h.8v.8h-.8zM63.2 340.9h.8v.8h-.8zM73.6 342.4h.8v.8h-.8zM64.8 339.4h.8v.8h-.8zM75.1 344.9h.8v.8h-.8zM57.8 343.1h.8v.8h-.8zM73.4 345.1h.8v.8h-.8zM75.9 345.8h.8v.8h-.8zM56.4 352.2h.8v.8h-.8zM67.4 351.0h.8v.8h-.8zM76.1 346.0h.8v.8h-.8zM61.2 353.4h.8v.8h-.8zM68.1 351.8h.8v.8h-.8zM75.9 343.9h.8v.8h-.8zM65.0 338.9h.8v.8h-.8zM53.8 350.7h.8v.8h-.8zM73.2 341.9h.8v.8h-.8zM69.3 351.4h.8v.8h-.8zM68.9 340.1h.8v.8h-.8zM56.5 351.6h.8v.8h-.8zM66.6 353.2h.8v.8h-.8zM63.9 351.8h.8v.8h-.8zM61.3 352.7h.8v.8h-.8zM65.4 338.7h.8v.8h-.8zM65.3 352.0h.8v.8h-.8zM64.0 340.2h.8v.8h-.8zM54.1 352.5h.8v.8h-.8zM57.3 351.7h.8v.8h-.8zM72.6 342.1h.8v.8h-.8zM55.2 346.1h.8v.8h-.8zM71.5 348.5h.8v.8h-.8zM58.5 342.1h.8v.8h-.8zM58.4 352.5h.8v.8h-.8zM75.3 343.0h.8v.8h-.8zM74.3 340.9h.8v.8h-.8zM52.2 348.1h.8v.8h-.8zM55.0 349.7h.8v.8h-.8zM53.4 347.3h.8v.8h-.8zM62.6 352.9h.8v.8h-.8zM61.0 340.3h.8v.8h-.8zM54.9 352.0h.8v.8h-.8zM67.7 351.5h.8v.8h-.8zM53.8 349.9h.8v.8h-.8zM52.9 348.9h.8v.8h-.8zM55.6 347.7h.8v.8h-.8zM61.3 353.1h.8v.8h-.8zM71.7 349.7h.8v.8h-.8zM58.1 352.0h.8v.8h-.8z" fill="#8c9ad0" fill-opacity="0.8"/>
<path d="M59.5 344.0h.8v.8h-.8zM62.7 342.7h.8v.8h-.8zM59.5 344.4h.8v.8h-.8zM71.3 344.2h.8v.8h-.8zM59.1 345.7h.8v.8h-.8zM64.0 342.6h.8v.8h-.8zM65.8 350.1h.8v.8h-.8zM69.6 341.9h.8v.8h-.8zM66.0 340.9h.8v.8h-.8zM59.8 344.6h.8v.8h-.8zM61.2 342.8h.8v.8h-.8zM60.5 343.0h.8v.8h-.8zM63.9 341.7h.8v.8h-.8zM71.3 347.2h.8v.8h-.8zM61.9 350.3h.8v.8h-.8zM60.2 342.6h.8v.8h-.8zM72.4 343.9h.8v.8h-.8zM71.7 345.4h.8v.8h-.8zM57.2 347.4h.8v.8h-.8zM67.9 341.8h.8v.8h-.8zM62.7 350.4h.8v.8h-.8zM62.8 342.9h.8v.8h-.8zM67.2 349.1h.8v.8h-.8zM62.5 342.5h.8v.8h-.8zM62.8 351.4h.8v.8h-.8zM56.4 347.2h.8v.8h-.8zM57.9 347.9h.8v.8h-.8zM70.5 346.1h.8v.8h-.8zM61.1 350.6h.8v.8h-.8zM71.7 342.0h.8v.8h-.8zM66.7 349.9h.8v.8h-.8zM60.9 351.2h.8v.8h-.8zM56.6 347.9h.8v.8h-.8zM61.1 343.7h.8v.8h-.8zM71.4 345.8h.8v.8h-.8zM72.4 344.8h.8v.8h-.8zM67.0 342.1h.8v.8h-.8zM69.1 349.0h.8v.8h-.8zM72.0 344.7h.8v.8h-.8zM71.2 341.4h.8v.8h-.8zM57.0 348.9h.8v.8h-.8zM67.1 341.6h.8v.8h-.8zM64.9 342.1h.8v.8h-.8zM69.4 347.9h.8v.8h-.8zM72.0 347.1h.8v.8h-.8zM68.4 348.3h.8v.8h-.8zM71.2 343.2h.8v.8h-.8zM64.8 351.2h.8v.8h-.8zM72.4 343.5h.8v.8h-.8zM72.4 342.9h.8v.8h-.8zM67.9 349.7h.8v.8h-.8zM57.0 347.1h.8v.8h-.8zM63.3 341.3h.8v.8h-.8zM68.7 348.0h.8v.8h-.8zM67.9 341.4h.8v.8h-.8zM69.2 349.1h.8v.8h-.8zM65.6 350.6h.8v.8h-.8zM69.2 348.7h.8v.8h-.8zM58.6 343.8h.8v.8h-.8zM72.5 343.0h.8v.8h-.8zM69.1 348.2h.8v.8h-.8zM71.3 343.6h.8v.8h-.8zM66.9 341.3h.8v.8h-.8zM73.3 344.5h.8v.8h-.8zM71.4 343.5h.8v.8h-.8zM68.8 348.0h.8v.8h-.8zM57.6 349.9h.8v.8h-.8zM64.9 350.5h.8v.8h-.8zM58.4 348.5h.8v.8h-.8zM69.0 342.5h.8v.8h-.8zM58.9 351.4h.8v.8h-.8zM60.5 350.2h.8v.8h-.8zM66.0 342.1h.8v.8h-.8zM72.8 343.5h.8v.8h-.8zM57.2 350.3h.8v.8h-.8zM57.9 349.8h.8v.8h-.8zM58.6 350.1h.8v.8h-.8zM57.6 349.1h.8v.8h-.8zM60.5 342.5h.8v.8h-.8zM58.1 349.1h.8v.8h-.8zM57.8 345.5h.8v.8h-.8zM70.2 341.9h.8v.8h-.8zM62.0 342.3h.8v.8h-.8zM65.2 349.8h.8v.8h-.8zM56.9 349.6h.8v.8h-.8zM69.0 341.7h.8v.8h-.8zM70.0 347.0h.8v.8h-.8zM60.3 342.8h.8v.8h-.8zM69.4 342.6h.8v.8h-.8zM57.6 347.7h.8v.8h-.8zM60.3 350.1h.8v.8h-.8zM71.8 343.7h.8v.8h-.8zM67.7 350.0h.8v.8h-.8zM68.4 342.4h.8v.8h-.8zM72.0 343.4h.8v.8h-.8zM61.1 343.8h.8v.8h-.8zM69.2 349.0h.8v.8h-.8zM68.5 340.9h.8v.8h-.8zM63.5 351.0h.8v.8h-.8zM63.8 350.5h.8v.8h-.8zM56.5 349.7h.8v.8h-.8zM56.4 349.1h.8v.8h-.8zM62.6 341.3h.8v.8h-.8zM71.5 345.8h.8v.8h-.8zM68.1 349.4h.8v.8h-.8zM62.4 351.9h.8v.8h-.8zM59.5 351.0h.8v.8h-.8zM69.7 340.9h.8v.8h-.8zM69.3 342.4h.8v.8h-.8zM62.2 351.4h.8v.8h-.8zM72.5 342.7h.8v.8h-.8zM59.0 343.5h.8v.8h-.8zM59.2 350.1h.8v.8h-.8zM67.7 349.3h.8v.8h-.8zM55.8 347.7h.8v.8h-.8zM59.0 343.8h.8v.8h-.8zM61.8 342.0h.8v.8h-.8zM72.7 345.4h.8v.8h-.8zM57.5 344.5h.8v.8h-.8zM57.9 349.3h.8v.8h-.8zM59.1 345.9h.8v.8h-.8zM65.3 340.9h.8v.8h-.8zM58.1 350.5h.8v.8h-.8zM61.0 351.2h.8v.8h-.8zM72.4 342.3h.8v.8h-.8zM64.2 342.2h.8v.8h-.8zM58.1 345.8h.8v.8h-.8zM71.8 341.8h.8v.8h-.8zM57.5 348.2h.8v.8h-.8zM68.6 349.5h.8v.8h-.8zM66.3 349.6h.8v.8h-.8zM67.8 350.2h.8v.8h-.8zM72.9 344.2h.8v.8h-.8zM57.2 349.1h.8v.8h-.8zM61.5 343.1h.8v.8h-.8zM56.8 345.5h.8v.8h-.8zM67.0 340.9h.8v.8h-.8zM59.0 350.5h.8v.8h-.8zM63.9 341.9h.8v.8h-.8zM69.3 341.7h.8v.8h-.8zM60.4 342.6h.8v.8h-.8zM68.8 348.2h.8v.8h-.8zM66.4 341.8h.8v.8h-.8zM56.8 346.8h.8v.8h-.8zM67.6 341.7h.8v.8h-.8zM62.2 352.0h.8v.8h-.8zM56.8 346.5h.8v.8h-.8zM58.1 344.6h.8v.8h-.8zM56.0 349.5h.8v.8h-.8zM59.1 349.6h.8v.8h-.8zM57.0 348.8h.8v.8h-.8zM60.6 350.3h.8v.8h-.8zM68.7 342.4h.8v.8h-.8zM57.6 348.9h.8v.8h-.8zM72.0 343.0h.8v.8h-.8zM71.2 346.9h.8v.8h-.8zM61.3 351.6h.8v.8h-.8zM58.0 344.6h.8v.8h-.8zM63.4 342.4h.8v.8h-.8zM70.5 345.9h.8v.8h-.8zM69.8 347.9h.8v.8h-.8zM71.8 344.9h.8v.8h-.8zM70.0 343.5h.8v.8h-.8zM70.6 345.8h.8v.8h-.8zM56.6 350.2h.8v.8h-.8zM64.8 341.7h.8v.8h-.8zM62.2 342.5h.8v.8h-.8zM65.3 342.1h.8v.8h-.8zM62.8 351.4h.8v.8h-.8zM69.6 347.6h.8v.8h-.8zM69.1 349.3h.8v.8h-.8zM72.1 343.6h.8v.8h-.8zM71.3 343.0h.8v.8h-.8zM72.7 344.4h.8v.8h-.8zM68.0 340.5h.8v.8h-.8zM57.1 349.9h.8v.8h-.8zM62.1 350.9h.8v.8h-.8zM69.3 349.4h.8v.8h-.8zM67.7 341.6h.8v.8h-.8zM57.6 349.9h.8v.8h-.8zM70.2 340.7h.8v.8h-.8zM67.9 349.8h.8v.8h-.8zM64.2 350.1h.8v.8h-.8zM60.2 350.9h.8v.8h-.8zM70.6 345.0h.8v.8h-.8zM70.0 343.1h.8v.8h-.8zM59.2 343.2h.8v.8h-.8zM68.2 348.5h.8v.8h-.8zM65.4 350.2h.8v.8h-.8zM57.3 348.1h.8v.8h-.8zM70.5 345.9h.8v.8h-.8zM69.6 342.7h.8v.8h-.8zM63.4 350.3h.8v.8h-.8zM55.9 347.2h.8v.8h-.8zM56.3 348.6h.8v.8h-.8zM59.4 349.3h.8v.8h-.8zM67.0 349.7h.8v.8h-.8zM67.1 341.7h.8v.8h-.8zM61.0 350.2h.8v.8h-.8zM70.8 342.0h.8v.8h-.8zM57.4 351.0h.8v.8h-.8zM64.1 350.7h.8v.8h-.8zM56.2 348.8h.8v.8h-.8zM57.2 347.7h.8v.8h-.8zM61.3 351.1h.8v.8h-.8zM65.2 350.9h.8v.8h-.8zM58.7 348.6h.8v.8h-.8zM71.6 347.2h.8v.8h-.8zM66.9 341.9h.8v.8h-.8zM70.5 348.5h.8v.8h-.8zM63.7 341.6h.8v.8h-.8zM70.4 345.6h.8v.8h-.8zM56.0 347.0h.8v.8h-.8zM59.5 343.7h.8v.8h-.8zM63.5 342.3h.8v.8h-.8zM67.8 348.7h.8v.8h-.8zM57.6 349.5h.8v.8h-.8zM66.2 341.8h.8v.8h-.8zM71.6 343.5h.8v.8h-.8zM59.5 343.7h.8v.8h-.8zM58.2 351.4h.8v.8h-.8zM68.4 348.6h.8v.8h-.8zM58.0 349.3h.8v.8h-.8zM70.5 346.3h.8v.8h-.8zM70.6 343.2h.8v.8h-.8zM63.2 350.1h.8v.8h-.8zM57.7 346.4h.8v.8h-.8zM56.7 350.0h.8v.8h-.8zM58.8 348.4h.8v.8h-.8zM59.3 345.4h.8v.8h-.8zM71.3 346.4h.8v.8h-.8zM68.9 342.5h.8v.8h-.8zM57.8 346.4h.8v.8h-.8zM62.4 350.2h.8v.8h-.8zM70.7 344.4h.8v.8h-.8zM64.3 342.5h.8v.8h-.8z" fill="#8898b0" fill-opacity="0.8"/>
<path d="M62.5 344.9h.8v.8h-.8zM60.2 348.2h.8v.8h-.8zM59.0 347.1h.8v.8h-.8zM64.5 342.8h.8v.8h-.8zM69.0 345.2h.8v.8h-.8zM62.3 349.4h.8v.8h-.8zM67.9 345.2h.8v.8h-.8zM69.3 344.3h.8v.8h-.8zM59.3 347.8h.8v.8h-.8zM63.8 344.0h.8v.8h-.8zM64.4 348.6h.8v.8h-.8zM67.3 343.9h.8v.8h-.8zM60.6 345.5h.8v.8h-.8zM64.3 348.9h.8v.8h-.8zM67.8 344.1h.8v.8h-.8zM64.5 349.7h.8v.8h-.8zM67.7 344.0h.8v.8h-.8zM63.5 349.1h.8v.8h-.8zM61.0 347.0h.8v.8h-.8zM63.5 349.8h.8v.8h-.8zM69.3 344.2h.8v.8h-.8zM63.1 350.1h.8v.8h-.8zM67.9 345.9h.8v.8h-.8zM67.9 348.1h.8v.8h-.8zM67.9 346.8h.8v.8h-.8zM64.2 348.6h.8v.8h-.8zM66.8 348.0h.8v.8h-.8zM68.7 347.1h.8v.8h-.8zM67.7 343.7h.8v.8h-.8zM65.9 342.8h.8v.8h-.8zM62.7 344.1h.8v.8h-.8zM62.0 344.9h.8v.8h-.8zM61.3 345.7h.8v.8h-.8zM66.7 347.5h.8v.8h-.8zM64.2 349.8h.8v.8h-.8zM61.1 346.5h.8v.8h-.8zM60.4 346.5h.8v.8h-.8zM63.3 349.2h.8v.8h-.8zM61.0 348.3h.8v.8h-.8zM60.4 345.4h.8v.8h-.8zM64.9 348.6h.8v.8h-.8zM61.5 348.5h.8v.8h-.8zM60.5 347.3h.8v.8h-.8zM59.3 347.6h.8v.8h-.8zM64.7 349.1h.8v.8h-.8zM62.0 344.2h.8v.8h-.8zM68.4 346.6h.8v.8h-.8zM63.2 350.0h.8v.8h-.8zM63.9 350.0h.8v.8h-.8zM64.1 348.7h.8v.8h-.8zM62.5 349.3h.8v.8h-.8zM64.0 349.5h.8v.8h-.8zM69.9 344.6h.8v.8h-.8zM66.3 348.1h.8v.8h-.8zM69.0 344.9h.8v.8h-.8zM68.4 342.7h.8v.8h-.8zM62.4 349.6h.8v.8h-.8zM68.6 344.3h.8v.8h-.8zM62.5 344.6h.8v.8h-.8zM67.7 346.0h.8v.8h-.8zM68.0 347.0h.8v.8h-.8zM68.5 345.5h.8v.8h-.8zM67.4 342.9h.8v.8h-.8zM63.8 343.8h.8v.8h-.8zM68.6 346.4h.8v.8h-.8zM68.1 347.4h.8v.8h-.8zM67.5 348.2h.8v.8h-.8zM59.5 347.2h.8v.8h-.8zM69.9 345.2h.8v.8h-.8zM64.2 349.5h.8v.8h-.8zM67.5 346.5h.8v.8h-.8zM60.5 346.1h.8v.8h-.8zM65.2 349.5h.8v.8h-.8zM69.3 345.3h.8v.8h-.8zM59.0 348.0h.8v.8h-.8zM65.4 343.1h.8v.8h-.8zM66.7 347.9h.8v.8h-.8zM59.9 347.2h.8v.8h-.8zM68.1 347.3h.8v.8h-.8zM68.9 343.4h.8v.8h-.8zM68.5 343.6h.8v.8h-.8zM59.6 347.0h.8v.8h-.8zM67.8 345.3h.8v.8h-.8zM65.1 348.2h.8v.8h-.8zM68.0 347.4h.8v.8h-.8zM68.6 344.3h.8v.8h-.8zM60.6 344.6h.8v.8h-.8zM59.2 347.7h.8v.8h-.8zM69.8 345.2h.8v.8h-.8zM64.9 343.8h.8v.8h-.8zM64.9 348.2h.8v.8h-.8zM61.3 346.4h.8v.8h-.8zM68.6 347.5h.8v.8h-.8zM66.4 348.5h.8v.8h-.8zM61.1 344.8h.8v.8h-.8zM61.0 345.1h.8v.8h-.8zM59.3 348.6h.8v.8h-.8zM63.3 348.9h.8v.8h-.8zM62.8 344.7h.8v.8h-.8zM68.2 348.0h.8v.8h-.8zM68.1 346.8h.8v.8h-.8zM69.7 345.8h.8v.8h-.8zM67.4 348.4h.8v.8h-.8zM64.3 348.7h.8v.8h-.8zM69.8 344.5h.8v.8h-.8zM61.7 349.5h.8v.8h-.8zM60.0 346.9h.8v.8h-.8zM64.5 349.3h.8v.8h-.8zM66.2 348.3h.8v.8h-.8zM65.6 343.3h.8v.8h-.8zM68.2 346.2h.8v.8h-.8zM65.1 343.6h.8v.8h-.8zM62.6 349.4h.8v.8h-.8zM62.7 344.0h.8v.8h-.8zM61.6 345.3h.8v.8h-.8zM68.6 346.3h.8v.8h-.8zM63.1 343.7h.8v.8h-.8zM68.3 344.9h.8v.8h-.8zM64.5 342.8h.8v.8h-.8zM62.0 348.5h.8v.8h-.8zM58.7 347.4h.8v.8h-.8zM66.9 342.5h.8v.8h-.8zM67.0 348.5h.8v.8h-.8zM62.7 344.1h.8v.8h-.8zM63.2 349.9h.8v.8h-.8zM68.6 343.4h.8v.8h-.8zM65.3 343.4h.8v.8h-.8zM63.6 343.4h.8v.8h-.8zM65.9 343.6h.8v.8h-.8zM59.4 348.4h.8v.8h-.8zM59.7 346.7h.8v.8h-.8zM59.5 347.2h.8v.8h-.8zM65.2 348.6h.8v.8h-.8zM60.0 345.8h.8v.8h-.8zM61.1 346.0h.8v.8h-.8zM59.2 347.2h.8v.8h-.8zM59.5 345.8h.8v.8h-.8zM64.6 343.4h.8v.8h-.8zM66.8 343.6h.8v.8h-.8zM68.2 343.0h.8v.8h-.8zM63.8 343.7h.8v.8h-.8zM63.5 348.5h.8v.8h-.8zM69.9 344.3h.8v.8h-.8zM63.3 343.7h.8v.8h-.8zM65.8 348.8h.8v.8h-.8zM60.3 348.2h.8v.8h-.8zM61.6 349.1h.8v.8h-.8zM68.7 346.8h.8v.8h-.8zM68.5 344.8h.8v.8h-.8zM68.0 346.2h.8v.8h-.8zM66.8 348.5h.8v.8h-.8zM64.4 343.1h.8v.8h-.8zM67.6 343.0h.8v.8h-.8zM68.5 343.6h.8v.8h-.8zM64.3 344.2h.8v.8h-.8zM58.7 347.4h.8v.8h-.8zM65.0 348.3h.8v.8h-.8zM60.6 346.8h.8v.8h-.8zM67.1 347.8h.8v.8h-.8zM68.6 342.7h.8v.8h-.8zM64.9 349.2h.8v.8h-.8zM61.6 346.0h.8v.8h-.8zM66.9 348.7h.8v.8h-.8zM60.8 346.9h.8v.8h-.8zM66.2 342.9h.8v.8h-.8zM64.7 348.4h.8v.8h-.8zM58.8 347.1h.8v.8h-.8zM68.8 347.0h.8v.8h-.8zM64.2 343.8h.8v.8h-.8zM66.4 347.7h.8v.8h-.8zM68.6 344.5h.8v.8h-.8zM69.5 346.9h.8v.8h-.8zM60.7 346.9h.8v.8h-.8zM68.7 345.6h.8v.8h-.8zM69.2 343.6h.8v.8h-.8zM61.3 345.0h.8v.8h-.8zM63.9 344.1h.8v.8h-.8zM66.0 347.8h.8v.8h-.8zM60.1 347.5h.8v.8h-.8zM68.0 343.7h.8v.8h-.8zM68.5 347.7h.8v.8h-.8zM61.9 349.7h.8v.8h-.8zM64.6 348.7h.8v.8h-.8zM64.4 342.8h.8v.8h-.8zM66.4 348.1h.8v.8h-.8zM63.5 349.9h.8v.8h-.8zM61.5 348.3h.8v.8h-.8zM67.7 343.5h.8v.8h-.8zM67.2 344.1h.8v.8h-.8z" fill="#98a860" fill-opacity="0.8"/>
<path d="M62.9 347.9h.8v.8h-.8zM67.3 345.2h.8v.8h-.8zM64.1 345.1h.8v.8h-.8zM62.3 346.3h.8v.8h-.8zM62.5 345.0h.8v.8h-.8zM62.8 347.3h.8v.8h-.8zM64.4 345.8h.8v.8h-.8zM61.9 346.4h.8v.8h-.8zM62.2 347.0h.8v.8h-.8zM67.3 345.6h.8v.8h-.8zM62.9 346.8h.8v.8h-.8zM64.9 348.0h.8v.8h-.8zM66.4 347.2h.8v.8h-.8zM63.2 346.5h.8v.8h-.8zM66.9 345.6h.8v.8h-.8zM65.1 344.2h.8v.8h-.8zM65.2 345.5h.8v.8h-.8zM64.9 347.3h.8v.8h-.8zM62.7 345.1h.8v.8h-.8zM62.2 345.8h.8v.8h-.8zM64.6 347.8h.8v.8h-.8zM61.4 347.2h.8v.8h-.8zM63.3 347.0h.8v.8h-.8zM62.5 346.7h.8v.8h-.8zM62.1 346.5h.8v.8h-.8zM62.0 346.6h.8v.8h-.8zM63.9 345.6h.8v.8h-.8zM63.5 345.7h.8v.8h-.8zM64.0 346.9h.8v.8h-.8zM66.8 345.4h.8v.8h-.8zM65.1 346.8h.8v.8h-.8zM63.1 345.1h.8v.8h-.8zM64.7 345.3h.8v.8h-.8zM64.8 348.1h.8v.8h-.8zM63.3 345.2h.8v.8h-.8zM66.7 345.9h.8v.8h-.8zM63.0 346.6h.8v.8h-.8zM62.5 348.3h.8v.8h-.8zM66.1 345.9h.8v.8h-.8zM64.4 346.9h.8v.8h-.8zM67.3 345.8h.8v.8h-.8zM66.2 345.0h.8v.8h-.8zM63.5 345.9h.8v.8h-.8zM63.7 347.1h.8v.8h-.8zM66.6 344.5h.8v.8h-.8zM64.5 346.3h.8v.8h-.8zM66.8 346.5h.8v.8h-.8zM61.9 347.1h.8v.8h-.8zM63.3 345.3h.8v.8h-.8zM65.1 345.2h.8v.8h-.8zM65.7 344.7h.8v.8h-.8zM62.9 346.8h.8v.8h-.8zM61.9 346.6h.8v.8h-.8zM65.9 345.6h.8v.8h-.8zM64.0 348.2h.8v.8h-.8zM63.0 346.1h.8v.8h-.8zM63.7 346.9h.8v.8h-.8zM66.5 346.2h.8v.8h-.8zM65.0 345.1h.8v.8h-.8zM62.4 345.8h.8v.8h-.8zM64.0 344.6h.8v.8h-.8zM64.9 344.2h.8v.8h-.8zM65.0 346.6h.8v.8h-.8zM62.3 345.8h.8v.8h-.8zM65.5 345.4h.8v.8h-.8zM63.9 347.2h.8v.8h-.8zM64.2 346.7h.8v.8h-.8zM67.1 346.5h.8v.8h-.8zM62.6 347.8h.8v.8h-.8zM63.3 347.8h.8v.8h-.8zM67.7 345.2h.8v.8h-.8zM65.5 345.2h.8v.8h-.8zM62.5 346.0h.8v.8h-.8zM66.1 344.2h.8v.8h-.8zM62.1 347.7h.8v.8h-.8zM67.2 345.4h.8v.8h-.8zM61.9 346.3h.8v.8h-.8zM61.5 346.4h.8v.8h-.8zM65.3 345.8h.8v.8h-.8zM61.8 347.3h.8v.8h-.8zM63.0 345.8h.8v.8h-.8zM63.3 344.7h.8v.8h-.8zM62.6 347.4h.8v.8h-.8zM66.5 346.1h.8v.8h-.8zM66.5 345.1h.8v.8h-.8zM63.5 347.7h.8v.8h-.8zM64.8 346.4h.8v.8h-.8zM65.0 344.9h.8v.8h-.8zM65.1 345.0h.8v.8h-.8zM65.3 346.4h.8v.8h-.8zM64.3 347.4h.8v.8h-.8zM64.5 347.9h.8v.8h-.8zM64.3 348.2h.8v.8h-.8zM66.0 346.1h.8v.8h-.8zM64.2 346.3h.8v.8h-.8z" fill="#b8a838" fill-opacity="0.8"/>
<ellipse cx="86" cy="368" rx="7.5" ry="7" fill="#a8b0d8" opacity="0.5" filter="url(#bl)"/>
<path d="M76.8 366.5h.8v.8h-.8zM87.7 359.7h.8v.8h-.8zM82.6 358.9h.8v.8h-.8zM94.6 369.6h.8v.8h-.8zM91.8 359.0h.8v.8h-.8zM94.6 370.2h.8v.8h-.8zM100.7 362.9h.8v.8h-.8zM78.9 375.6h.8v.8h-.8zM90.2 360.7h.8v.8h-.8zM78.2 373.9h.8v.8h-.8zM83.7 353.4h.8v.8h-.8zM89.6 359.6h.8v.8h-.8zM83.8 380.8h.8v.8h-.8zM91.3 375.4h.8v.8h-.8zM94.6 366.1h.8v.8h-.8zM94.7 355.7h.8v.8h-.8zM89.1 379.4h.8v.8h-.8zM77.6 376.9h.8v.8h-.8zM92.2 378.2h.8v.8h-.8zM74.9 369.6h.8v.8h-.8zM99.1 366.8h.8v.8h-.8zM95.8 373.2h.8v.8h-.8zM90.0 360.6h.8v.8h-.8zM87.2 360.4h.8v.8h-.8zM85.8 381.5h.8v.8h-.8zM84.4 376.2h.8v.8h-.8zM96.4 366.3h.8v.8h-.8zM90.7 379.5h.8v.8h-.8zM82.8 360.6h.8v.8h-.8zM94.7 366.7h.8v.8h-.8zM96.5 367.5h.8v.8h-.8zM85.9 376.5h.8v.8h-.8zM79.6 361.5h.8v.8h-.8zM76.7 362.3h.8v.8h-.8zM96.1 368.0h.8v.8h-.8zM77.3 357.7h.8v.8h-.8zM75.3 369.3h.8v.8h-.8zM87.7 355.7h.8v.8h-.8zM82.0 356.1h.8v.8h-.8zM98.3 368.3h.8v.8h-.8zM92.9 377.9h.8v.8h-.8zM80.0 356.2h.8v.8h-.8zM86.6 358.6h.8v.8h-.8zM76.0 360.8h.8v.8h-.8zM77.1 372.3h.8v.8h-.8zM82.1 380.1h.8v.8h-.8zM77.4 372.8h.8v.8h-.8zM95.2 367.4h.8v.8h-.8zM95.2 362.7h.8v.8h-.8zM93.8 372.1h.8v.8h-.8zM83.7 376.7h.8v.8h-.8zM91.3 359.8h.8v.8h-.8zM89.3 378.7h.8v.8h-.8zM77.9 363.1h.8v.8h-.8zM96.3 368.8h.8v.8h-.8zM93.2 373.6h.8v.8h-.8zM81.2 376.7h.8v.8h-.8zM74.8 371.5h.8v.8h-.8zM84.0 360.4h.8v.8h-.8zM87.8 358.1h.8v.8h-.8zM88.9 356.2h.8v.8h-.8zM77.6 357.9h.8v.8h-.8zM94.8 369.8h.8v.8h-.8zM79.8 380.9h.8v.8h-.8zM94.1 377.7h.8v.8h-.8zM93.0 377.7h.8v.8h-.8zM91.2 374.9h.8v.8h-.8zM92.6 374.3h.8v.8h-.8zM82.8 360.1h.8v.8h-.8zM96.2 376.8h.8v.8h-.8zM95.4 364.0h.8v.8h-.8zM94.7 366.8h.8v.8h-.8zM91.6 376.4h.8v.8h-.8zM81.8 357.7h.8v.8h-.8zM75.7 370.1h.8v.8h-.8zM78.1 361.7h.8v.8h-.8zM78.3 372.9h.8v.8h-.8zM95.6 366.4h.8v.8h-.8zM77.0 368.7h.8v.8h-.8zM96.3 378.5h.8v.8h-.8zM94.5 357.8h.8v.8h-.8zM95.8 376.4h.8v.8h-.8zM94.1 361.5h.8v.8h-.8zM88.2 360.3h.8v.8h-.8zM101.1 372.6h.8v.8h-.8zM78.3 358.0h.8v.8h-.8zM96.3 366.0h.8v.8h-.8zM91.2 375.2h.8v.8h-.8zM82.2 359.4h.8v.8h-.8zM92.8 374.7h.8v.8h-.8zM95.9 371.8h.8v.8h-.8zM95.8 368.1h.8v.8h-.8zM79.8 375.0h.8v.8h-.8zM78.6 374.7h.8v.8h-.8zM78.5 374.8h.8v.8h-.8zM97.3 361.8h.8v.8h-.8zM91.7 360.5h.8v.8h-.8zM81.4 359.8h.8v.8h-.8zM77.6 369.4h.8v.8h-.8zM74.9 363.3h.8v.8h-.8zM73.6 364.9h.8v.8h-.8zM76.8 379.0h.8v.8h-.8zM76.9 360.3h.8v.8h-.8zM75.8 365.7h.8v.8h-.8zM83.7 358.8h.8v.8h-.8zM84.6 359.1h.8v.8h-.8zM86.3 377.4h.8v.8h-.8zM81.2 356.0h.8v.8h-.8zM89.3 378.0h.8v.8h-.8zM76.7 364.4h.8v.8h-.8zM71.3 374.5h.8v.8h-.8zM80.1 377.7h.8v.8h-.8zM93.3 374.3h.8v.8h-.8zM97.8 368.3h.8v.8h-.8zM90.4 376.4h.8v.8h-.8zM75.7 364.4h.8v.8h-.8zM97.8 366.4h.8v.8h-.8zM80.3 357.1h.8v.8h-.8zM92.5 377.2h.8v.8h-.8zM86.6 377.3h.8v.8h-.8zM87.3 382.4h.8v.8h-.8zM98.4 374.3h.8v.8h-.8zM75.8 362.0h.8v.8h-.8zM82.9 358.0h.8v.8h-.8zM81.6 379.6h.8v.8h-.8zM94.3 361.5h.8v.8h-.8zM72.7 372.3h.8v.8h-.8zM76.0 361.7h.8v.8h-.8zM84.2 379.6h.8v.8h-.8zM79.6 376.8h.8v.8h-.8zM73.4 374.4h.8v.8h-.8zM91.1 381.1h.8v.8h-.8zM78.3 363.0h.8v.8h-.8zM89.4 378.1h.8v.8h-.8zM77.8 365.7h.8v.8h-.8zM96.1 373.1h.8v.8h-.8zM71.5 373.6h.8v.8h-.8zM85.3 381.2h.8v.8h-.8zM96.1 372.8h.8v.8h-.8zM73.2 370.4h.8v.8h-.8zM88.4 347.5h.8v.8h-.8zM90.7 353.5h.8v.8h-.8zM94.1 362.7h.8v.8h-.8zM80.7 361.0h.8v.8h-.8zM95.3 363.8h.8v.8h-.8zM71.3 372.3h.8v.8h-.8zM79.1 376.2h.8v.8h-.8zM81.0 375.8h.8v.8h-.8zM101.6 360.6h.8v.8h-.8zM88.7 379.3h.8v.8h-.8zM94.9 367.1h.8v.8h-.8zM93.7 362.5h.8v.8h-.8zM85.2 377.3h.8v.8h-.8zM103.7 368.3h.8v.8h-.8zM95.6 378.0h.8v.8h-.8zM87.2 359.5h.8v.8h-.8zM76.9 368.9h.8v.8h-.8zM76.2 374.7h.8v.8h-.8zM95.2 369.5h.8v.8h-.8zM90.7 377.5h.8v.8h-.8zM87.8 379.4h.8v.8h-.8zM90.6 358.3h.8v.8h-.8zM79.6 362.8h.8v.8h-.8zM87.1 378.6h.8v.8h-.8zM94.3 370.4h.8v.8h-.8zM73.7 370.3h.8v.8h-.8zM89.3 377.2h.8v.8h-.8zM73.1 379.0h.8v.8h-.8zM79.7 374.8h.8v.8h-.8z" fill="#bcc3e0" fill-opacity="0.75"/>
<path d="M84.0 375.8h.8v.8h-.8zM81.2 373.9h.8v.8h-.8zM79.8 364.9h.8v.8h-.8zM80.8 369.7h.8v.8h-.8zM90.5 364.6h.8v.8h-.8zM80.6 369.5h.8v.8h-.8zM83.8 362.3h.8v.8h-.8zM86.0 362.5h.8v.8h-.8zM92.1 363.8h.8v.8h-.8zM83.5 373.8h.8v.8h-.8zM91.1 371.8h.8v.8h-.8zM78.0 369.4h.8v.8h-.8zM88.1 372.7h.8v.8h-.8zM93.9 367.6h.8v.8h-.8zM80.6 364.9h.8v.8h-.8zM81.6 365.5h.8v.8h-.8zM87.4 375.9h.8v.8h-.8zM93.8 366.5h.8v.8h-.8zM86.0 375.7h.8v.8h-.8zM87.8 363.4h.8v.8h-.8zM84.6 362.7h.8v.8h-.8zM81.3 372.6h.8v.8h-.8zM93.9 367.6h.8v.8h-.8zM81.7 361.7h.8v.8h-.8zM88.2 374.6h.8v.8h-.8zM85.1 360.7h.8v.8h-.8zM78.7 367.0h.8v.8h-.8zM88.1 375.0h.8v.8h-.8zM87.6 362.6h.8v.8h-.8zM83.4 373.8h.8v.8h-.8zM80.0 370.8h.8v.8h-.8zM81.5 361.7h.8v.8h-.8zM80.4 364.0h.8v.8h-.8zM86.0 373.5h.8v.8h-.8zM90.5 374.4h.8v.8h-.8zM80.8 373.7h.8v.8h-.8zM80.9 371.6h.8v.8h-.8zM90.8 372.4h.8v.8h-.8zM83.7 364.4h.8v.8h-.8zM80.6 362.7h.8v.8h-.8zM92.7 369.3h.8v.8h-.8zM83.2 362.0h.8v.8h-.8zM90.6 372.7h.8v.8h-.8zM93.6 367.4h.8v.8h-.8zM84.8 360.7h.8v.8h-.8zM91.7 368.5h.8v.8h-.8zM82.0 375.3h.8v.8h-.8zM86.5 373.9h.8v.8h-.8zM86.0 361.3h.8v.8h-.8zM78.6 366.4h.8v.8h-.8zM86.4 374.5h.8v.8h-.8zM87.2 373.0h.8v.8h-.8zM84.3 363.8h.8v.8h-.8zM79.4 363.5h.8v.8h-.8zM79.9 367.1h.8v.8h-.8zM84.9 362.0h.8v.8h-.8zM88.1 361.5h.8v.8h-.8zM87.1 373.7h.8v.8h-.8zM90.2 374.1h.8v.8h-.8zM82.4 372.4h.8v.8h-.8zM81.8 366.2h.8v.8h-.8zM91.4 367.7h.8v.8h-.8zM88.9 373.9h.8v.8h-.8zM90.0 363.6h.8v.8h-.8zM86.8 376.0h.8v.8h-.8zM82.1 371.3h.8v.8h-.8zM92.2 370.4h.8v.8h-.8zM91.9 370.2h.8v.8h-.8zM85.6 373.9h.8v.8h-.8zM87.6 375.3h.8v.8h-.8zM82.9 361.3h.8v.8h-.8zM79.0 367.9h.8v.8h-.8zM84.7 373.9h.8v.8h-.8zM80.4 371.5h.8v.8h-.8zM91.2 364.4h.8v.8h-.8zM82.8 372.6h.8v.8h-.8zM80.4 369.0h.8v.8h-.8zM88.9 375.5h.8v.8h-.8zM89.6 373.5h.8v.8h-.8zM81.4 371.3h.8v.8h-.8zM79.1 370.2h.8v.8h-.8zM90.1 374.4h.8v.8h-.8zM92.0 371.9h.8v.8h-.8zM79.4 368.2h.8v.8h-.8zM80.5 372.1h.8v.8h-.8zM87.3 374.7h.8v.8h-.8zM81.7 363.9h.8v.8h-.8zM89.5 374.7h.8v.8h-.8zM85.0 375.7h.8v.8h-.8zM87.8 362.9h.8v.8h-.8zM87.8 374.3h.8v.8h-.8zM88.8 363.4h.8v.8h-.8zM84.7 374.9h.8v.8h-.8zM80.0 373.7h.8v.8h-.8zM82.2 375.3h.8v.8h-.8zM87.8 364.3h.8v.8h-.8zM85.2 375.7h.8v.8h-.8zM90.2 363.8h.8v.8h-.8zM88.5 362.8h.8v.8h-.8zM80.0 369.2h.8v.8h-.8zM86.6 361.9h.8v.8h-.8zM81.3 371.2h.8v.8h-.8zM85.5 373.0h.8v.8h-.8zM84.1 374.9h.8v.8h-.8zM79.4 369.7h.8v.8h-.8zM90.0 365.1h.8v.8h-.8zM81.9 362.9h.8v.8h-.8zM94.0 368.4h.8v.8h-.8zM91.6 367.9h.8v.8h-.8zM91.3 368.4h.8v.8h-.8zM78.5 366.7h.8v.8h-.8zM80.5 368.8h.8v.8h-.8zM83.5 363.2h.8v.8h-.8zM81.6 371.8h.8v.8h-.8zM79.8 370.0h.8v.8h-.8zM93.0 367.1h.8v.8h-.8zM88.6 372.7h.8v.8h-.8zM85.7 375.2h.8v.8h-.8zM85.9 374.1h.8v.8h-.8zM81.0 369.9h.8v.8h-.8zM86.2 361.9h.8v.8h-.8zM89.0 364.2h.8v.8h-.8zM91.1 366.1h.8v.8h-.8zM93.8 371.5h.8v.8h-.8zM82.2 365.3h.8v.8h-.8zM92.0 367.3h.8v.8h-.8zM87.2 361.7h.8v.8h-.8zM86.7 362.7h.8v.8h-.8zM89.7 363.8h.8v.8h-.8zM89.8 374.0h.8v.8h-.8zM81.8 371.8h.8v.8h-.8zM85.8 373.1h.8v.8h-.8zM81.4 362.2h.8v.8h-.8zM84.1 362.5h.8v.8h-.8zM79.3 368.4h.8v.8h-.8zM83.3 374.5h.8v.8h-.8zM78.0 370.1h.8v.8h-.8zM89.0 372.3h.8v.8h-.8zM89.1 374.6h.8v.8h-.8zM89.5 363.0h.8v.8h-.8zM80.8 373.5h.8v.8h-.8zM80.0 363.2h.8v.8h-.8zM92.0 364.9h.8v.8h-.8zM91.0 365.7h.8v.8h-.8zM79.0 367.2h.8v.8h-.8zM82.4 364.3h.8v.8h-.8zM84.2 361.3h.8v.8h-.8zM84.2 375.7h.8v.8h-.8zM84.7 362.6h.8v.8h-.8zM93.5 371.2h.8v.8h-.8zM90.7 362.4h.8v.8h-.8zM86.3 361.0h.8v.8h-.8zM91.8 369.7h.8v.8h-.8zM86.4 375.2h.8v.8h-.8zM78.9 371.4h.8v.8h-.8zM85.4 361.2h.8v.8h-.8zM82.2 365.3h.8v.8h-.8zM91.3 366.1h.8v.8h-.8zM90.3 370.7h.8v.8h-.8zM90.3 372.3h.8v.8h-.8z" fill="#a4abc8" fill-opacity="0.75"/>
<path d="M87.4 364.9h.8v.8h-.8zM87.0 365.1h.8v.8h-.8zM85.2 367.9h.8v.8h-.8zM86.5 369.9h.8v.8h-.8zM88.7 366.0h.8v.8h-.8zM84.1 365.2h.8v.8h-.8zM86.9 368.4h.8v.8h-.8zM85.8 365.3h.8v.8h-.8zM86.0 371.9h.8v.8h-.8zM82.4 367.9h.8v.8h-.8zM84.8 371.5h.8v.8h-.8zM85.9 371.1h.8v.8h-.8zM87.5 371.8h.8v.8h-.8zM83.8 369.1h.8v.8h-.8zM85.0 369.9h.8v.8h-.8zM86.6 365.7h.8v.8h-.8zM82.8 368.1h.8v.8h-.8zM86.0 366.1h.8v.8h-.8zM86.2 371.9h.8v.8h-.8zM88.3 367.6h.8v.8h-.8zM84.5 370.2h.8v.8h-.8zM88.0 369.1h.8v.8h-.8zM83.6 368.7h.8v.8h-.8zM85.9 372.2h.8v.8h-.8zM82.0 366.5h.8v.8h-.8zM88.3 365.0h.8v.8h-.8zM82.6 366.7h.8v.8h-.8zM86.3 369.2h.8v.8h-.8zM87.3 368.2h.8v.8h-.8zM84.1 370.7h.8v.8h-.8zM85.9 370.5h.8v.8h-.8zM85.5 369.3h.8v.8h-.8zM82.8 370.2h.8v.8h-.8zM83.5 370.2h.8v.8h-.8zM82.1 370.8h.8v.8h-.8zM84.4 371.7h.8v.8h-.8zM88.8 367.8h.8v.8h-.8zM88.3 370.8h.8v.8h-.8zM89.4 370.0h.8v.8h-.8zM86.2 369.0h.8v.8h-.8zM89.9 370.4h.8v.8h-.8zM82.3 369.9h.8v.8h-.8zM82.2 368.4h.8v.8h-.8zM86.0 372.6h.8v.8h-.8zM88.9 365.2h.8v.8h-.8zM84.8 372.7h.8v.8h-.8zM86.1 365.7h.8v.8h-.8zM86.8 370.2h.8v.8h-.8zM87.5 367.5h.8v.8h-.8zM83.0 367.8h.8v.8h-.8zM85.1 372.1h.8v.8h-.8zM87.5 365.2h.8v.8h-.8zM83.0 368.6h.8v.8h-.8zM88.6 366.6h.8v.8h-.8zM85.2 367.4h.8v.8h-.8zM87.0 370.3h.8v.8h-.8zM86.3 371.7h.8v.8h-.8zM88.2 371.9h.8v.8h-.8zM85.7 368.8h.8v.8h-.8zM87.9 368.4h.8v.8h-.8zM83.5 365.4h.8v.8h-.8zM81.5 366.9h.8v.8h-.8zM86.7 366.4h.8v.8h-.8zM83.4 370.3h.8v.8h-.8zM85.7 368.2h.8v.8h-.8zM83.5 368.0h.8v.8h-.8zM83.5 372.1h.8v.8h-.8zM85.2 369.0h.8v.8h-.8zM81.9 370.2h.8v.8h-.8zM84.2 370.6h.8v.8h-.8zM83.8 366.5h.8v.8h-.8zM83.4 369.6h.8v.8h-.8zM85.2 366.8h.8v.8h-.8zM84.9 368.8h.8v.8h-.8zM88.8 370.4h.8v.8h-.8zM90.1 367.9h.8v.8h-.8zM81.7 367.7h.8v.8h-.8zM85.0 371.1h.8v.8h-.8zM86.3 372.3h.8v.8h-.8zM87.9 366.5h.8v.8h-.8zM82.1 369.9h.8v.8h-.8zM85.9 371.5h.8v.8h-.8zM84.1 367.1h.8v.8h-.8zM84.7 369.9h.8v.8h-.8zM81.5 368.3h.8v.8h-.8zM87.0 371.0h.8v.8h-.8zM90.6 369.4h.8v.8h-.8zM86.0 370.9h.8v.8h-.8zM81.8 367.2h.8v.8h-.8zM90.2 368.0h.8v.8h-.8zM82.2 366.6h.8v.8h-.8zM84.6 371.2h.8v.8h-.8zM89.1 367.0h.8v.8h-.8zM89.3 371.9h.8v.8h-.8zM82.1 370.8h.8v.8h-.8zM86.4 365.7h.8v.8h-.8zM87.4 364.6h.8v.8h-.8zM87.8 369.9h.8v.8h-.8zM87.5 367.8h.8v.8h-.8zM86.9 366.1h.8v.8h-.8zM88.6 365.1h.8v.8h-.8zM86.9 372.5h.8v.8h-.8zM85.9 371.4h.8v.8h-.8zM82.1 368.2h.8v.8h-.8zM86.8 369.4h.8v.8h-.8zM84.9 364.2h.8v.8h-.8zM83.7 368.3h.8v.8h-.8zM88.3 365.3h.8v.8h-.8zM88.6 368.5h.8v.8h-.8zM86.0 367.6h.8v.8h-.8zM84.4 369.0h.8v.8h-.8zM87.3 365.8h.8v.8h-.8zM85.1 368.6h.8v.8h-.8zM88.9 366.0h.8v.8h-.8zM90.0 370.6h.8v.8h-.8zM83.5 364.6h.8v.8h-.8zM87.1 370.3h.8v.8h-.8zM84.1 367.5h.8v.8h-.8zM82.6 367.6h.8v.8h-.8zM84.0 365.4h.8v.8h-.8zM85.0 372.4h.8v.8h-.8z" fill="#8a92b0" fill-opacity="0.75"/>
<path d="M57.8 381.6h.7v.7h-.7zM92.0 379.5h.7v.7h-.7zM68.2 384.8h.7v.7h-.7zM67.3 371.5h.7v.7h-.7zM63.5 368.9h.7v.7h-.7zM69.3 363.9h.7v.7h-.7zM78.7 373.4h.7v.7h-.7zM56.9 363.4h.7v.7h-.7zM67.3 367.2h.7v.7h-.7zM81.5 360.8h.7v.7h-.7zM68.0 369.0h.7v.7h-.7zM66.5 375.9h.7v.7h-.7zM73.3 365.2h.7v.7h-.7zM63.1 373.7h.7v.7h-.7zM67.5 365.5h.7v.7h-.7zM53.3 373.2h.7v.7h-.7zM63.8 374.9h.7v.7h-.7zM62.2 369.5h.7v.7h-.7zM65.7 353.7h.7v.7h-.7zM68.3 372.9h.7v.7h-.7zM67.1 371.0h.7v.7h-.7zM81.0 351.9h.7v.7h-.7zM58.9 364.0h.7v.7h-.7zM60.8 365.5h.7v.7h-.7zM56.0 366.9h.7v.7h-.7zM72.3 363.8h.7v.7h-.7zM73.9 377.8h.7v.7h-.7zM75.4 372.4h.7v.7h-.7zM50.3 368.9h.7v.7h-.7zM45.4 356.0h.7v.7h-.7zM73.7 344.6h.7v.7h-.7zM73.9 364.6h.7v.7h-.7zM74.0 382.6h.7v.7h-.7zM67.4 360.8h.7v.7h-.7zM73.6 358.3h.7v.7h-.7zM68.2 369.5h.7v.7h-.7zM77.8 354.3h.7v.7h-.7zM69.7 387.1h.7v.7h-.7zM66.5 387.5h.7v.7h-.7zM76.5 355.3h.7v.7h-.7zM72.9 373.3h.7v.7h-.7zM61.7 368.0h.7v.7h-.7zM51.4 385.6h.7v.7h-.7zM72.6 367.2h.7v.7h-.7zM75.7 383.6h.7v.7h-.7zM66.9 369.5h.7v.7h-.7zM73.5 368.6h.7v.7h-.7zM84.1 379.6h.7v.7h-.7zM69.9 366.3h.7v.7h-.7zM48.9 360.0h.7v.7h-.7zM87.7 369.5h.7v.7h-.7zM79.2 352.1h.7v.7h-.7zM56.6 378.4h.7v.7h-.7zM78.3 356.9h.7v.7h-.7zM53.9 360.1h.7v.7h-.7zM69.0 349.7h.7v.7h-.7zM83.2 359.9h.7v.7h-.7zM71.2 377.5h.7v.7h-.7zM67.2 370.0h.7v.7h-.7zM64.2 387.8h.7v.7h-.7zM78.3 368.4h.7v.7h-.7zM63.6 369.5h.7v.7h-.7zM47.7 365.2h.7v.7h-.7zM63.3 382.3h.7v.7h-.7zM72.0 360.9h.7v.7h-.7zM55.0 375.9h.7v.7h-.7zM71.6 377.3h.7v.7h-.7zM68.4 373.3h.7v.7h-.7zM68.7 387.0h.7v.7h-.7zM67.9 360.9h.7v.7h-.7zM76.1 377.1h.7v.7h-.7zM65.1 382.4h.7v.7h-.7zM73.3 363.3h.7v.7h-.7zM60.2 384.9h.7v.7h-.7zM76.6 359.2h.7v.7h-.7zM57.5 387.7h.7v.7h-.7zM92.7 380.5h.7v.7h-.7zM67.4 366.8h.7v.7h-.7zM75.8 384.0h.7v.7h-.7zM71.8 368.4h.7v.7h-.7zM55.0 357.9h.7v.7h-.7zM57.7 352.1h.7v.7h-.7zM72.0 366.1h.7v.7h-.7zM84.4 379.7h.7v.7h-.7zM68.4 388.4h.7v.7h-.7zM76.6 367.6h.7v.7h-.7zM68.6 363.8h.7v.7h-.7zM63.4 369.7h.7v.7h-.7zM64.5 366.4h.7v.7h-.7zM66.2 370.9h.7v.7h-.7zM80.3 368.3h.7v.7h-.7zM64.6 375.5h.7v.7h-.7zM70.2 359.8h.7v.7h-.7zM65.6 368.9h.7v.7h-.7zM61.3 377.6h.7v.7h-.7zM71.3 364.9h.7v.7h-.7zM78.7 373.4h.7v.7h-.7zM68.5 372.5h.7v.7h-.7zM76.0 376.5h.7v.7h-.7zM61.7 373.1h.7v.7h-.7zM67.2 367.2h.7v.7h-.7zM65.1 380.1h.7v.7h-.7zM68.8 393.4h.7v.7h-.7zM62.7 378.4h.7v.7h-.7zM78.4 366.7h.7v.7h-.7zM69.1 380.2h.7v.7h-.7zM85.0 369.1h.7v.7h-.7zM66.7 373.3h.7v.7h-.7zM74.8 366.6h.7v.7h-.7zM76.2 374.6h.7v.7h-.7zM68.7 361.4h.7v.7h-.7zM74.9 350.0h.7v.7h-.7zM59.3 353.6h.7v.7h-.7zM64.8 368.0h.7v.7h-.7zM65.0 363.8h.7v.7h-.7zM74.9 352.1h.7v.7h-.7zM54.3 373.0h.7v.7h-.7zM79.2 373.6h.7v.7h-.7zM57.2 353.0h.7v.7h-.7zM73.4 372.5h.7v.7h-.7zM68.9 357.6h.7v.7h-.7zM45.2 377.4h.7v.7h-.7zM84.4 377.8h.7v.7h-.7zM73.1 374.3h.7v.7h-.7zM66.4 367.6h.7v.7h-.7zM68.7 362.3h.7v.7h-.7zM71.5 358.3h.7v.7h-.7zM67.4 385.9h.7v.7h-.7zM81.9 362.2h.7v.7h-.7zM76.1 375.4h.7v.7h-.7zM77.0 374.0h.7v.7h-.7zM65.8 380.8h.7v.7h-.7zM78.0 359.0h.7v.7h-.7zM68.8 367.1h.7v.7h-.7zM58.7 370.9h.7v.7h-.7zM65.1 351.4h.7v.7h-.7zM85.9 370.8h.7v.7h-.7zM66.9 372.0h.7v.7h-.7zM59.9 362.4h.7v.7h-.7zM83.7 366.0h.7v.7h-.7zM52.6 373.1h.7v.7h-.7zM76.4 363.1h.7v.7h-.7zM62.6 381.9h.7v.7h-.7zM76.4 358.6h.7v.7h-.7zM64.0 366.4h.7v.7h-.7zM66.4 357.9h.7v.7h-.7zM66.3 360.2h.7v.7h-.7zM74.7 371.6h.7v.7h-.7zM63.6 367.1h.7v.7h-.7zM63.8 378.2h.7v.7h-.7zM72.6 375.7h.7v.7h-.7zM49.1 376.2h.7v.7h-.7zM67.2 365.9h.7v.7h-.7zM55.3 380.3h.7v.7h-.7zM82.1 370.0h.7v.7h-.7zM66.6 363.3h.7v.7h-.7zM75.7 370.7h.7v.7h-.7zM61.7 381.7h.7v.7h-.7zM72.8 372.5h.7v.7h-.7zM67.5 367.5h.7v.7h-.7zM60.8 365.1h.7v.7h-.7zM63.3 377.9h.7v.7h-.7zM59.4 383.5h.7v.7h-.7zM78.1 364.1h.7v.7h-.7zM61.1 354.1h.7v.7h-.7zM75.9 376.4h.7v.7h-.7zM82.9 372.5h.7v.7h-.7zM71.8 367.0h.7v.7h-.7zM56.9 375.9h.7v.7h-.7zM65.1 369.4h.7v.7h-.7zM61.1 374.4h.7v.7h-.7zM52.8 358.6h.7v.7h-.7zM77.9 375.3h.7v.7h-.7zM59.4 372.1h.7v.7h-.7zM71.5 379.2h.7v.7h-.7zM77.9 379.1h.7v.7h-.7zM63.0 387.5h.7v.7h-.7zM68.3 376.2h.7v.7h-.7zM73.5 383.4h.7v.7h-.7zM77.8 354.7h.7v.7h-.7zM55.2 368.7h.7v.7h-.7zM61.1 378.8h.7v.7h-.7zM81.9 381.9h.7v.7h-.7zM58.8 374.7h.7v.7h-.7zM76.6 376.5h.7v.7h-.7zM75.5 373.8h.7v.7h-.7zM73.3 372.9h.7v.7h-.7zM64.6 370.0h.7v.7h-.7zM59.9 360.9h.7v.7h-.7zM68.8 361.8h.7v.7h-.7zM62.6 363.9h.7v.7h-.7zM57.8 345.4h.7v.7h-.7zM73.9 382.3h.7v.7h-.7zM70.0 363.5h.7v.7h-.7zM78.3 373.3h.7v.7h-.7zM55.7 369.2h.7v.7h-.7zM68.6 361.9h.7v.7h-.7zM72.9 356.7h.7v.7h-.7zM68.2 376.5h.7v.7h-.7zM51.0 375.2h.7v.7h-.7zM75.8 362.2h.7v.7h-.7zM57.7 368.1h.7v.7h-.7zM68.0 368.1h.7v.7h-.7zM65.2 359.5h.7v.7h-.7zM51.7 363.2h.7v.7h-.7zM76.4 376.8h.7v.7h-.7zM74.4 368.0h.7v.7h-.7zM62.6 365.2h.7v.7h-.7zM69.5 357.2h.7v.7h-.7zM71.2 373.8h.7v.7h-.7zM62.4 378.0h.7v.7h-.7zM74.3 349.4h.7v.7h-.7zM64.3 368.7h.7v.7h-.7zM47.1 375.5h.7v.7h-.7zM76.6 374.6h.7v.7h-.7zM66.7 382.9h.7v.7h-.7zM68.7 372.6h.7v.7h-.7zM72.3 380.1h.7v.7h-.7zM52.7 378.2h.7v.7h-.7zM71.0 382.7h.7v.7h-.7zM69.8 369.1h.7v.7h-.7zM61.9 370.3h.7v.7h-.7zM62.8 374.6h.7v.7h-.7zM68.4 363.1h.7v.7h-.7zM74.1 369.4h.7v.7h-.7zM64.4 382.3h.7v.7h-.7zM71.9 373.9h.7v.7h-.7zM61.3 381.5h.7v.7h-.7zM73.2 359.2h.7v.7h-.7zM65.4 381.3h.7v.7h-.7zM76.6 369.0h.7v.7h-.7zM69.9 371.6h.7v.7h-.7zM47.0 376.4h.7v.7h-.7zM80.9 365.0h.7v.7h-.7zM69.0 378.7h.7v.7h-.7zM70.2 379.4h.7v.7h-.7zM68.3 367.8h.7v.7h-.7zM61.8 369.2h.7v.7h-.7zM56.3 359.2h.7v.7h-.7zM68.8 361.7h.7v.7h-.7zM69.2 369.1h.7v.7h-.7zM66.6 374.9h.7v.7h-.7zM63.8 360.5h.7v.7h-.7zM65.5 368.2h.7v.7h-.7zM79.9 379.1h.7v.7h-.7zM56.0 353.7h.7v.7h-.7zM56.9 374.9h.7v.7h-.7zM51.4 378.0h.7v.7h-.7zM65.1 380.0h.7v.7h-.7zM70.0 361.5h.7v.7h-.7zM64.2 371.7h.7v.7h-.7zM78.3 367.5h.7v.7h-.7zM62.7 371.0h.7v.7h-.7zM60.9 374.5h.7v.7h-.7zM71.3 377.9h.7v.7h-.7zM60.2 380.2h.7v.7h-.7zM93.4 382.6h.7v.7h-.7zM68.7 368.9h.7v.7h-.7zM53.9 374.2h.7v.7h-.7z" fill="#c0c8e4" fill-opacity="0.7"/>
<path d="M84.4 364.7h.7v.7h-.7zM64.5 361.6h.7v.7h-.7zM46.0 373.8h.7v.7h-.7zM55.8 370.0h.7v.7h-.7zM60.3 361.6h.7v.7h-.7zM49.4 362.6h.7v.7h-.7zM62.2 360.2h.7v.7h-.7zM58.7 361.0h.7v.7h-.7zM49.3 358.5h.7v.7h-.7zM91.6 355.5h.7v.7h-.7zM68.2 355.0h.7v.7h-.7zM48.5 366.7h.7v.7h-.7zM77.4 360.9h.7v.7h-.7zM69.1 367.1h.7v.7h-.7zM54.8 366.5h.7v.7h-.7zM54.4 355.6h.7v.7h-.7zM43.7 362.3h.7v.7h-.7zM60.7 364.2h.7v.7h-.7zM46.4 364.4h.7v.7h-.7zM58.4 357.0h.7v.7h-.7zM44.5 372.8h.7v.7h-.7zM66.9 360.1h.7v.7h-.7zM66.7 358.4h.7v.7h-.7zM80.3 364.8h.7v.7h-.7zM56.8 362.6h.7v.7h-.7zM45.6 366.9h.7v.7h-.7zM61.8 369.3h.7v.7h-.7zM62.4 369.4h.7v.7h-.7zM78.8 362.6h.7v.7h-.7zM63.4 366.7h.7v.7h-.7zM65.5 361.5h.7v.7h-.7zM88.2 368.0h.7v.7h-.7zM65.9 356.0h.7v.7h-.7zM46.8 361.1h.7v.7h-.7zM46.3 354.8h.7v.7h-.7zM67.4 365.6h.7v.7h-.7zM53.0 361.9h.7v.7h-.7zM73.4 366.5h.7v.7h-.7zM81.9 361.1h.7v.7h-.7zM55.6 366.1h.7v.7h-.7zM82.2 361.3h.7v.7h-.7zM56.0 360.8h.7v.7h-.7zM73.6 368.1h.7v.7h-.7zM48.1 367.4h.7v.7h-.7zM69.3 368.5h.7v.7h-.7zM54.2 361.8h.7v.7h-.7zM66.3 364.7h.7v.7h-.7zM48.3 365.9h.7v.7h-.7zM67.3 360.9h.7v.7h-.7zM65.1 367.8h.7v.7h-.7zM60.2 362.5h.7v.7h-.7zM47.6 361.8h.7v.7h-.7zM51.7 357.1h.7v.7h-.7zM71.6 364.4h.7v.7h-.7zM64.0 363.1h.7v.7h-.7zM76.5 353.5h.7v.7h-.7zM78.8 359.8h.7v.7h-.7zM49.2 358.1h.7v.7h-.7zM49.6 361.4h.7v.7h-.7zM69.3 358.0h.7v.7h-.7zM69.7 359.5h.7v.7h-.7zM60.0 369.1h.7v.7h-.7zM56.1 356.5h.7v.7h-.7zM60.9 364.1h.7v.7h-.7zM55.6 360.0h.7v.7h-.7zM67.6 357.4h.7v.7h-.7zM58.4 358.1h.7v.7h-.7zM67.4 360.0h.7v.7h-.7zM64.4 361.9h.7v.7h-.7zM59.2 357.8h.7v.7h-.7zM75.1 359.4h.7v.7h-.7zM58.5 355.7h.7v.7h-.7zM61.0 357.9h.7v.7h-.7zM47.2 367.1h.7v.7h-.7zM69.2 363.5h.7v.7h-.7zM62.4 364.9h.7v.7h-.7zM59.9 363.1h.7v.7h-.7zM48.3 360.2h.7v.7h-.7zM58.1 349.3h.7v.7h-.7zM45.6 357.8h.7v.7h-.7zM84.3 354.2h.7v.7h-.7zM48.1 364.5h.7v.7h-.7zM59.5 370.3h.7v.7h-.7zM59.9 366.4h.7v.7h-.7zM57.9 362.3h.7v.7h-.7zM60.2 361.8h.7v.7h-.7zM77.1 369.9h.7v.7h-.7zM60.4 361.0h.7v.7h-.7zM62.3 367.1h.7v.7h-.7zM68.7 362.4h.7v.7h-.7zM77.6 364.5h.7v.7h-.7zM64.0 368.8h.7v.7h-.7zM80.0 362.6h.7v.7h-.7zM63.8 361.2h.7v.7h-.7zM83.4 360.3h.7v.7h-.7zM55.0 367.4h.7v.7h-.7zM67.6 362.1h.7v.7h-.7zM70.3 363.6h.7v.7h-.7zM60.0 363.9h.7v.7h-.7zM67.1 363.2h.7v.7h-.7zM66.1 363.0h.7v.7h-.7zM66.6 357.5h.7v.7h-.7zM80.5 367.2h.7v.7h-.7zM64.0 365.1h.7v.7h-.7zM82.0 364.6h.7v.7h-.7zM45.0 364.1h.7v.7h-.7zM77.6 356.8h.7v.7h-.7zM65.0 371.8h.7v.7h-.7zM57.3 361.9h.7v.7h-.7zM45.9 372.6h.7v.7h-.7zM58.4 364.4h.7v.7h-.7zM72.6 361.5h.7v.7h-.7zM49.8 359.9h.7v.7h-.7z" fill="#dcdca8" fill-opacity="0.6"/>
<ellipse cx="193" cy="349.5" rx="11" ry="5" fill="#a8b0d4" opacity="0.35" filter="url(#bl)"/>
<path d="M193.5 359.0h.8v.8h-.8zM205.3 351.7h.8v.8h-.8zM202.4 356.6h.8v.8h-.8zM174.2 347.7h.8v.8h-.8zM208.2 344.4h.8v.8h-.8zM182.3 354.0h.8v.8h-.8zM194.8 340.4h.8v.8h-.8zM179.8 344.3h.8v.8h-.8zM185.4 343.4h.8v.8h-.8zM183.9 344.5h.8v.8h-.8zM176.9 349.5h.8v.8h-.8zM187.7 360.2h.8v.8h-.8zM220.2 351.5h.8v.8h-.8zM170.0 356.9h.8v.8h-.8zM179.7 350.2h.8v.8h-.8zM201.7 345.0h.8v.8h-.8zM208.3 353.9h.8v.8h-.8zM200.5 341.0h.8v.8h-.8zM203.0 341.2h.8v.8h-.8zM188.2 355.3h.8v.8h-.8zM195.7 341.6h.8v.8h-.8zM177.3 344.2h.8v.8h-.8zM207.0 355.4h.8v.8h-.8zM181.3 355.1h.8v.8h-.8zM203.6 344.7h.8v.8h-.8zM177.8 352.3h.8v.8h-.8zM203.7 354.5h.8v.8h-.8zM179.5 347.4h.8v.8h-.8zM216.9 357.9h.8v.8h-.8zM203.1 345.7h.8v.8h-.8zM185.6 342.3h.8v.8h-.8zM206.3 343.8h.8v.8h-.8zM180.7 346.7h.8v.8h-.8zM207.4 349.2h.8v.8h-.8zM176.3 346.8h.8v.8h-.8zM195.0 341.0h.8v.8h-.8zM202.4 354.7h.8v.8h-.8zM195.6 341.6h.8v.8h-.8zM187.1 339.1h.8v.8h-.8zM179.3 353.0h.8v.8h-.8zM191.1 341.9h.8v.8h-.8zM201.2 355.1h.8v.8h-.8zM202.6 357.0h.8v.8h-.8zM207.3 343.6h.8v.8h-.8zM208.2 350.2h.8v.8h-.8zM182.9 342.2h.8v.8h-.8zM186.2 344.1h.8v.8h-.8zM169.4 352.6h.8v.8h-.8zM209.4 345.4h.8v.8h-.8zM200.8 357.5h.8v.8h-.8zM194.5 343.5h.8v.8h-.8zM201.7 354.4h.8v.8h-.8zM216.3 348.4h.8v.8h-.8zM199.4 355.2h.8v.8h-.8zM207.8 339.7h.8v.8h-.8zM201.5 344.7h.8v.8h-.8zM174.1 359.5h.8v.8h-.8zM173.3 345.3h.8v.8h-.8zM199.8 356.9h.8v.8h-.8zM179.4 346.5h.8v.8h-.8zM203.2 355.4h.8v.8h-.8zM208.0 358.2h.8v.8h-.8zM186.3 355.3h.8v.8h-.8zM179.1 347.9h.8v.8h-.8zM186.4 341.4h.8v.8h-.8zM177.7 356.7h.8v.8h-.8zM194.8 341.5h.8v.8h-.8zM197.1 356.0h.8v.8h-.8zM198.0 343.3h.8v.8h-.8zM173.2 349.9h.8v.8h-.8zM185.8 355.6h.8v.8h-.8zM207.7 354.2h.8v.8h-.8zM202.4 354.0h.8v.8h-.8zM172.6 343.1h.8v.8h-.8zM210.8 350.4h.8v.8h-.8zM175.8 348.3h.8v.8h-.8zM205.0 355.5h.8v.8h-.8zM181.8 346.2h.8v.8h-.8zM182.6 344.6h.8v.8h-.8zM212.8 347.9h.8v.8h-.8zM214.7 346.6h.8v.8h-.8zM203.7 344.6h.8v.8h-.8zM206.5 352.1h.8v.8h-.8zM206.2 355.6h.8v.8h-.8zM175.4 351.8h.8v.8h-.8zM206.5 346.7h.8v.8h-.8zM204.8 342.5h.8v.8h-.8zM209.8 348.0h.8v.8h-.8zM175.0 351.1h.8v.8h-.8zM178.4 344.9h.8v.8h-.8zM202.3 353.5h.8v.8h-.8zM178.2 354.5h.8v.8h-.8zM177.2 351.7h.8v.8h-.8zM210.1 349.9h.8v.8h-.8zM197.2 357.9h.8v.8h-.8zM185.9 358.0h.8v.8h-.8zM205.2 342.8h.8v.8h-.8zM166.3 352.7h.8v.8h-.8zM209.1 348.8h.8v.8h-.8zM178.1 353.8h.8v.8h-.8zM199.2 342.0h.8v.8h-.8zM181.7 357.7h.8v.8h-.8zM204.0 344.7h.8v.8h-.8zM200.5 355.8h.8v.8h-.8zM213.5 358.5h.8v.8h-.8zM176.8 343.8h.8v.8h-.8zM170.6 355.3h.8v.8h-.8zM204.8 352.1h.8v.8h-.8zM209.2 347.0h.8v.8h-.8zM178.6 346.8h.8v.8h-.8zM196.1 343.1h.8v.8h-.8zM205.3 348.5h.8v.8h-.8zM176.7 349.0h.8v.8h-.8zM206.8 342.8h.8v.8h-.8zM202.5 353.5h.8v.8h-.8zM197.6 357.5h.8v.8h-.8zM210.7 352.0h.8v.8h-.8zM206.3 348.9h.8v.8h-.8zM191.5 343.5h.8v.8h-.8zM210.8 347.8h.8v.8h-.8zM208.2 353.6h.8v.8h-.8zM166.6 347.6h.8v.8h-.8zM207.3 347.7h.8v.8h-.8zM199.3 356.6h.8v.8h-.8zM179.4 345.4h.8v.8h-.8zM172.1 355.1h.8v.8h-.8zM209.4 349.2h.8v.8h-.8zM165.7 350.7h.8v.8h-.8zM179.3 349.2h.8v.8h-.8z" fill="#bcc2e0" fill-opacity="0.75"/>
<path d="M192.5 353.4h.8v.8h-.8zM201.5 347.6h.8v.8h-.8zM189.9 343.8h.8v.8h-.8zM181.6 350.0h.8v.8h-.8zM191.1 355.0h.8v.8h-.8zM187.7 345.4h.8v.8h-.8zM194.8 353.6h.8v.8h-.8zM195.8 345.0h.8v.8h-.8zM188.6 352.5h.8v.8h-.8zM181.7 351.3h.8v.8h-.8zM184.9 351.4h.8v.8h-.8zM180.6 348.8h.8v.8h-.8zM198.8 353.2h.8v.8h-.8zM190.8 343.7h.8v.8h-.8zM188.6 352.7h.8v.8h-.8zM199.7 349.8h.8v.8h-.8zM188.7 352.6h.8v.8h-.8zM188.0 346.0h.8v.8h-.8zM200.8 348.1h.8v.8h-.8zM189.9 346.1h.8v.8h-.8zM183.5 349.4h.8v.8h-.8zM195.5 346.1h.8v.8h-.8zM201.5 345.8h.8v.8h-.8zM198.7 351.7h.8v.8h-.8zM184.9 347.6h.8v.8h-.8zM188.5 346.8h.8v.8h-.8zM195.3 353.6h.8v.8h-.8zM188.8 352.8h.8v.8h-.8zM194.4 345.5h.8v.8h-.8zM199.4 346.6h.8v.8h-.8zM186.5 354.4h.8v.8h-.8zM200.1 349.6h.8v.8h-.8zM201.0 347.3h.8v.8h-.8zM200.3 353.2h.8v.8h-.8zM190.7 353.1h.8v.8h-.8zM187.7 345.6h.8v.8h-.8zM194.2 343.8h.8v.8h-.8zM199.0 346.1h.8v.8h-.8zM180.6 350.5h.8v.8h-.8zM200.4 349.2h.8v.8h-.8zM193.3 345.4h.8v.8h-.8zM199.3 353.4h.8v.8h-.8zM184.2 349.2h.8v.8h-.8zM202.2 348.8h.8v.8h-.8zM194.4 346.0h.8v.8h-.8zM193.3 354.7h.8v.8h-.8zM193.9 353.8h.8v.8h-.8zM183.4 346.4h.8v.8h-.8zM182.8 352.4h.8v.8h-.8zM200.1 346.2h.8v.8h-.8zM198.6 352.0h.8v.8h-.8zM184.8 350.8h.8v.8h-.8zM194.2 353.3h.8v.8h-.8zM200.5 352.8h.8v.8h-.8zM180.1 348.3h.8v.8h-.8zM202.8 347.8h.8v.8h-.8zM193.1 345.6h.8v.8h-.8zM188.4 354.6h.8v.8h-.8zM186.9 344.4h.8v.8h-.8zM191.9 353.5h.8v.8h-.8zM199.4 348.1h.8v.8h-.8zM185.7 345.6h.8v.8h-.8zM201.0 349.9h.8v.8h-.8zM200.0 353.7h.8v.8h-.8zM199.8 354.3h.8v.8h-.8zM197.7 347.0h.8v.8h-.8zM201.3 345.9h.8v.8h-.8zM185.6 353.1h.8v.8h-.8zM196.6 345.3h.8v.8h-.8zM199.7 350.9h.8v.8h-.8zM202.1 350.9h.8v.8h-.8zM185.4 351.6h.8v.8h-.8zM186.2 351.7h.8v.8h-.8zM187.4 346.9h.8v.8h-.8zM198.2 346.9h.8v.8h-.8zM182.8 348.6h.8v.8h-.8zM193.8 345.4h.8v.8h-.8zM182.3 349.3h.8v.8h-.8zM190.9 353.4h.8v.8h-.8zM185.9 344.7h.8v.8h-.8zM198.0 353.0h.8v.8h-.8zM196.3 354.0h.8v.8h-.8zM198.1 351.9h.8v.8h-.8zM183.5 351.1h.8v.8h-.8zM195.9 352.7h.8v.8h-.8zM192.2 355.0h.8v.8h-.8zM186.5 354.3h.8v.8h-.8zM201.0 345.5h.8v.8h-.8zM197.5 345.5h.8v.8h-.8zM183.0 349.3h.8v.8h-.8zM201.3 351.1h.8v.8h-.8zM197.6 345.9h.8v.8h-.8zM184.2 348.0h.8v.8h-.8zM193.9 355.4h.8v.8h-.8zM200.9 351.2h.8v.8h-.8zM185.0 353.6h.8v.8h-.8zM201.1 348.7h.8v.8h-.8zM193.3 353.4h.8v.8h-.8zM201.0 346.9h.8v.8h-.8zM185.6 353.9h.8v.8h-.8zM188.5 345.6h.8v.8h-.8zM187.5 352.7h.8v.8h-.8zM201.9 350.7h.8v.8h-.8zM203.2 350.6h.8v.8h-.8zM200.2 350.0h.8v.8h-.8zM200.7 347.1h.8v.8h-.8zM198.6 352.3h.8v.8h-.8zM203.6 348.6h.8v.8h-.8zM182.5 353.1h.8v.8h-.8zM201.8 352.6h.8v.8h-.8zM189.4 353.8h.8v.8h-.8zM200.6 351.9h.8v.8h-.8zM195.0 345.4h.8v.8h-.8zM189.7 345.7h.8v.8h-.8zM194.7 354.9h.8v.8h-.8zM197.6 345.7h.8v.8h-.8zM199.3 352.1h.8v.8h-.8zM188.0 352.9h.8v.8h-.8zM199.4 354.1h.8v.8h-.8zM186.0 348.2h.8v.8h-.8zM189.8 344.5h.8v.8h-.8zM184.3 352.8h.8v.8h-.8zM201.5 350.5h.8v.8h-.8zM184.4 346.6h.8v.8h-.8zM190.1 345.6h.8v.8h-.8zM194.8 354.8h.8v.8h-.8zM199.3 347.3h.8v.8h-.8zM200.5 347.1h.8v.8h-.8zM188.5 354.5h.8v.8h-.8zM200.8 348.1h.8v.8h-.8zM195.1 354.2h.8v.8h-.8zM180.5 348.6h.8v.8h-.8zM199.5 348.7h.8v.8h-.8zM196.6 353.6h.8v.8h-.8zM189.4 354.1h.8v.8h-.8zM195.6 355.2h.8v.8h-.8zM195.2 344.2h.8v.8h-.8zM199.7 345.5h.8v.8h-.8zM189.8 353.6h.8v.8h-.8zM191.5 346.1h.8v.8h-.8zM201.3 349.5h.8v.8h-.8zM186.8 352.6h.8v.8h-.8zM184.7 351.3h.8v.8h-.8zM198.7 353.1h.8v.8h-.8zM188.3 354.7h.8v.8h-.8zM201.0 346.8h.8v.8h-.8zM198.3 346.2h.8v.8h-.8zM185.1 353.1h.8v.8h-.8zM186.6 351.6h.8v.8h-.8zM198.9 351.6h.8v.8h-.8zM196.0 346.0h.8v.8h-.8zM199.4 347.0h.8v.8h-.8zM193.6 344.1h.8v.8h-.8zM183.5 346.1h.8v.8h-.8z" fill="#a0a8cc" fill-opacity="0.75"/>
<path d="M196.8 348.4h.8v.8h-.8zM192.3 350.3h.8v.8h-.8zM194.5 348.5h.8v.8h-.8zM196.4 349.9h.8v.8h-.8zM189.6 347.3h.8v.8h-.8zM189.7 352.0h.8v.8h-.8zM190.7 348.2h.8v.8h-.8zM195.7 352.4h.8v.8h-.8zM197.8 351.7h.8v.8h-.8zM187.2 349.6h.8v.8h-.8zM189.3 349.8h.8v.8h-.8zM196.1 348.5h.8v.8h-.8zM190.0 346.7h.8v.8h-.8zM190.2 351.2h.8v.8h-.8zM193.6 350.7h.8v.8h-.8zM191.7 351.9h.8v.8h-.8zM195.6 349.9h.8v.8h-.8zM197.5 351.4h.8v.8h-.8zM196.7 351.2h.8v.8h-.8zM190.2 346.7h.8v.8h-.8zM186.5 351.0h.8v.8h-.8zM193.0 349.9h.8v.8h-.8zM190.6 348.6h.8v.8h-.8zM197.6 351.5h.8v.8h-.8zM196.2 349.6h.8v.8h-.8zM188.4 348.9h.8v.8h-.8zM194.7 348.8h.8v.8h-.8zM187.7 350.1h.8v.8h-.8zM191.7 351.2h.8v.8h-.8zM196.6 350.0h.8v.8h-.8zM196.9 352.1h.8v.8h-.8zM186.1 348.7h.8v.8h-.8zM194.0 351.2h.8v.8h-.8zM193.8 349.5h.8v.8h-.8zM194.3 352.9h.8v.8h-.8zM192.5 346.2h.8v.8h-.8zM196.4 348.4h.8v.8h-.8zM194.9 351.7h.8v.8h-.8zM192.5 350.1h.8v.8h-.8zM193.2 351.2h.8v.8h-.8zM193.3 348.7h.8v.8h-.8zM191.8 349.3h.8v.8h-.8zM189.5 347.7h.8v.8h-.8zM192.9 351.4h.8v.8h-.8zM198.3 347.8h.8v.8h-.8zM199.2 349.1h.8v.8h-.8zM191.6 347.1h.8v.8h-.8zM191.6 352.1h.8v.8h-.8zM190.5 349.9h.8v.8h-.8zM194.5 348.8h.8v.8h-.8zM195.4 349.5h.8v.8h-.8zM191.8 350.1h.8v.8h-.8zM189.0 349.3h.8v.8h-.8zM187.7 347.7h.8v.8h-.8zM191.9 352.3h.8v.8h-.8zM198.9 349.3h.8v.8h-.8zM187.1 350.2h.8v.8h-.8zM187.2 347.5h.8v.8h-.8zM195.4 347.8h.8v.8h-.8zM192.6 352.3h.8v.8h-.8zM197.1 351.9h.8v.8h-.8zM190.7 347.6h.8v.8h-.8zM194.0 351.2h.8v.8h-.8zM192.9 347.7h.8v.8h-.8zM193.0 352.3h.8v.8h-.8zM194.4 347.4h.8v.8h-.8zM193.0 346.6h.8v.8h-.8zM193.8 352.4h.8v.8h-.8zM195.6 347.4h.8v.8h-.8zM194.2 350.8h.8v.8h-.8zM191.0 352.2h.8v.8h-.8zM194.6 351.9h.8v.8h-.8zM194.4 349.6h.8v.8h-.8zM189.8 351.1h.8v.8h-.8zM195.4 349.5h.8v.8h-.8zM188.6 350.0h.8v.8h-.8zM194.7 349.0h.8v.8h-.8zM189.1 349.1h.8v.8h-.8zM197.9 348.8h.8v.8h-.8zM194.4 347.6h.8v.8h-.8zM196.5 350.4h.8v.8h-.8zM195.4 351.8h.8v.8h-.8zM188.8 352.3h.8v.8h-.8zM191.7 347.6h.8v.8h-.8zM188.1 350.5h.8v.8h-.8zM196.0 350.2h.8v.8h-.8zM196.3 351.8h.8v.8h-.8zM188.4 350.8h.8v.8h-.8zM188.3 348.6h.8v.8h-.8zM190.0 349.6h.8v.8h-.8zM196.9 349.3h.8v.8h-.8zM195.6 346.7h.8v.8h-.8zM193.9 352.4h.8v.8h-.8zM188.9 352.0h.8v.8h-.8zM193.9 349.7h.8v.8h-.8zM192.5 346.7h.8v.8h-.8zM193.5 349.7h.8v.8h-.8zM198.4 349.7h.8v.8h-.8zM192.4 352.3h.8v.8h-.8zM186.4 350.8h.8v.8h-.8zM190.5 350.2h.8v.8h-.8zM196.7 347.1h.8v.8h-.8zM196.6 349.2h.8v.8h-.8zM192.7 351.1h.8v.8h-.8zM196.6 350.5h.8v.8h-.8zM199.0 350.0h.8v.8h-.8zM196.1 346.9h.8v.8h-.8zM188.0 351.7h.8v.8h-.8zM190.6 352.6h.8v.8h-.8zM188.1 351.6h.8v.8h-.8zM185.5 350.1h.8v.8h-.8zM196.5 350.3h.8v.8h-.8zM196.0 352.1h.8v.8h-.8zM195.2 349.9h.8v.8h-.8zM190.0 351.8h.8v.8h-.8zM192.7 348.8h.8v.8h-.8z" fill="#8a92b8" fill-opacity="0.75"/>
<path d="M196.7 348.2h.7v.7h-.7zM185.0 356.9h.7v.7h-.7zM193.8 355.8h.7v.7h-.7zM208.4 351.0h.7v.7h-.7zM202.8 352.4h.7v.7h-.7zM206.5 353.8h.7v.7h-.7zM200.2 352.1h.7v.7h-.7zM210.5 349.0h.7v.7h-.7zM189.2 344.0h.7v.7h-.7zM199.6 356.0h.7v.7h-.7zM218.9 349.9h.7v.7h-.7zM203.7 348.9h.7v.7h-.7zM203.3 351.5h.7v.7h-.7zM209.5 355.3h.7v.7h-.7zM205.8 352.5h.7v.7h-.7zM209.3 351.5h.7v.7h-.7zM212.6 358.0h.7v.7h-.7zM209.1 358.9h.7v.7h-.7zM197.5 354.2h.7v.7h-.7zM204.5 349.4h.7v.7h-.7zM205.1 351.6h.7v.7h-.7zM206.1 352.8h.7v.7h-.7zM208.0 351.0h.7v.7h-.7zM202.5 355.8h.7v.7h-.7zM212.6 352.9h.7v.7h-.7zM188.6 355.8h.7v.7h-.7zM207.4 348.1h.7v.7h-.7zM186.8 346.1h.7v.7h-.7zM189.8 359.2h.7v.7h-.7zM198.9 351.6h.7v.7h-.7zM208.3 358.0h.7v.7h-.7zM203.7 352.0h.7v.7h-.7zM210.6 357.4h.7v.7h-.7zM204.5 350.1h.7v.7h-.7zM194.0 355.6h.7v.7h-.7zM194.8 350.0h.7v.7h-.7zM185.3 347.5h.7v.7h-.7zM207.3 350.0h.7v.7h-.7zM208.5 351.6h.7v.7h-.7zM198.1 355.8h.7v.7h-.7zM203.4 351.0h.7v.7h-.7zM214.4 348.4h.7v.7h-.7zM193.4 352.3h.7v.7h-.7zM202.2 344.9h.7v.7h-.7zM200.0 351.2h.7v.7h-.7zM195.4 353.0h.7v.7h-.7zM185.5 353.9h.7v.7h-.7zM210.5 361.1h.7v.7h-.7zM192.0 355.9h.7v.7h-.7zM195.9 345.9h.7v.7h-.7zM202.1 349.0h.7v.7h-.7zM197.6 348.9h.7v.7h-.7zM206.0 351.5h.7v.7h-.7zM205.6 353.1h.7v.7h-.7zM205.7 352.4h.7v.7h-.7zM192.8 354.8h.7v.7h-.7zM199.3 352.4h.7v.7h-.7zM203.4 352.7h.7v.7h-.7zM197.0 349.9h.7v.7h-.7zM195.0 351.0h.7v.7h-.7zM208.0 348.7h.7v.7h-.7zM204.4 359.0h.7v.7h-.7zM191.0 352.4h.7v.7h-.7zM204.8 351.3h.7v.7h-.7zM197.9 355.1h.7v.7h-.7zM201.4 353.1h.7v.7h-.7zM193.4 357.0h.7v.7h-.7zM217.7 351.1h.7v.7h-.7zM205.6 350.1h.7v.7h-.7zM212.0 353.9h.7v.7h-.7zM204.1 351.8h.7v.7h-.7zM194.6 353.1h.7v.7h-.7zM205.1 345.0h.7v.7h-.7zM203.2 344.9h.7v.7h-.7zM214.5 352.7h.7v.7h-.7zM206.2 349.2h.7v.7h-.7zM216.7 353.7h.7v.7h-.7zM203.2 351.5h.7v.7h-.7zM195.7 350.8h.7v.7h-.7zM199.8 347.5h.7v.7h-.7zM211.0 346.0h.7v.7h-.7zM205.6 357.1h.7v.7h-.7zM204.3 353.6h.7v.7h-.7zM199.0 348.1h.7v.7h-.7zM216.2 346.5h.7v.7h-.7zM205.7 347.9h.7v.7h-.7zM206.7 354.7h.7v.7h-.7zM211.5 352.3h.7v.7h-.7zM202.6 351.0h.7v.7h-.7zM202.6 351.9h.7v.7h-.7zM208.8 351.4h.7v.7h-.7zM200.8 361.1h.7v.7h-.7zM193.1 352.7h.7v.7h-.7zM221.9 347.1h.7v.7h-.7zM213.6 353.0h.7v.7h-.7zM210.7 354.8h.7v.7h-.7zM190.8 355.8h.7v.7h-.7zM199.8 346.3h.7v.7h-.7zM206.2 348.2h.7v.7h-.7zM200.9 353.4h.7v.7h-.7zM190.7 355.3h.7v.7h-.7zM208.4 352.6h.7v.7h-.7zM209.5 351.8h.7v.7h-.7zM214.3 350.5h.7v.7h-.7zM204.0 354.9h.7v.7h-.7zM206.1 346.1h.7v.7h-.7zM199.9 356.7h.7v.7h-.7zM198.3 346.4h.7v.7h-.7zM205.8 348.4h.7v.7h-.7zM212.3 349.7h.7v.7h-.7zM183.4 347.3h.7v.7h-.7zM193.8 349.4h.7v.7h-.7zM204.6 352.4h.7v.7h-.7zM209.4 348.9h.7v.7h-.7zM198.4 353.6h.7v.7h-.7zM206.1 355.4h.7v.7h-.7zM190.5 352.9h.7v.7h-.7zM205.6 354.2h.7v.7h-.7zM199.8 353.1h.7v.7h-.7zM188.7 348.1h.7v.7h-.7z" fill="#c0c8e2" fill-opacity="0.7"/>
<rect x="42.80" y="201.40" width="85.00" height="84.90" fill="none" stroke="#151515" stroke-width="1.2"/>
<path d="M41.0 286.3H42.8M41.0 269.5H42.8M41.0 252.7H42.8M41.0 235.9H42.8M41.0 219.1H42.8M41.0 202.2H42.8M42.8 286.3V288.1M59.6 286.3V288.1M76.4 286.3V288.1M93.2 286.3V288.1M110.0 286.3V288.1M126.9 286.3V288.1" stroke="#222" stroke-width="0.9" fill="none"/>
<path d="M41.5 281.2H42.8M41.5 278.3H42.8M41.5 276.2H42.8M41.5 274.5H42.8M41.5 273.2H42.8M41.5 272.1H42.8M41.5 271.1H42.8M41.5 270.3H42.8M41.5 264.4H42.8M41.5 261.5H42.8M41.5 259.4H42.8M41.5 257.7H42.8M41.5 256.4H42.8M41.5 255.3H42.8M41.5 254.3H42.8M41.5 253.4H42.8M41.5 247.6H42.8M41.5 244.7H42.8M41.5 242.6H42.8M41.5 240.9H42.8M41.5 239.6H42.8M41.5 238.5H42.8M41.5 237.5H42.8M41.5 236.6H42.8M41.5 230.8H42.8M41.5 227.8H42.8M41.5 225.7H42.8M41.5 224.1H42.8M41.5 222.8H42.8M41.5 221.7H42.8M41.5 220.7H42.8M41.5 219.8H42.8M41.5 214.0H42.8M41.5 211.0H42.8M41.5 208.9H42.8M41.5 207.3H42.8M41.5 206.0H42.8M41.5 204.8H42.8M41.5 203.9H42.8M41.5 203.0H42.8M47.9 286.3V287.6M50.8 286.3V287.6M52.9 286.3V287.6M54.6 286.3V287.6M55.9 286.3V287.6M57.0 286.3V287.6M58.0 286.3V287.6M58.8 286.3V287.6M64.7 286.3V287.6M67.6 286.3V287.6M69.7 286.3V287.6M71.4 286.3V287.6M72.7 286.3V287.6M73.8 286.3V287.6M74.8 286.3V287.6M75.7 286.3V287.6M81.5 286.3V287.6M84.4 286.3V287.6M86.5 286.3V287.6M88.2 286.3V287.6M89.5 286.3V287.6M90.6 286.3V287.6M91.6 286.3V287.6M92.5 286.3V287.6M98.3 286.3V287.6M101.3 286.3V287.6M103.4 286.3V287.6M105.0 286.3V287.6M106.3 286.3V287.6M107.4 286.3V287.6M108.4 286.3V287.6M109.3 286.3V287.6M115.1 286.3V287.6M118.1 286.3V287.6M120.2 286.3V287.6M121.8 286.3V287.6M123.1 286.3V287.6M124.3 286.3V287.6M125.2 286.3V287.6M126.1 286.3V287.6" stroke="#333" stroke-width="0.75" fill="none"/>
<rect x="164.80" y="200.60" width="85.40" height="84.60" fill="none" stroke="#151515" stroke-width="1.2"/>
<path d="M163.0 285.2H164.8M163.0 268.4H164.8M163.0 251.7H164.8M163.0 234.9H164.8M163.0 218.2H164.8M163.0 201.4H164.8M164.8 285.2V287.0M181.6 285.2V287.0M198.3 285.2V287.0M215.1 285.2V287.0M231.8 285.2V287.0M248.6 285.2V287.0" stroke="#222" stroke-width="0.9" fill="none"/>
<path d="M163.5 280.2H164.8M163.5 277.2H164.8M163.5 275.1H164.8M163.5 273.5H164.8M163.5 272.2H164.8M163.5 271.0H164.8M163.5 270.1H164.8M163.5 269.2H164.8M163.5 263.4H164.8M163.5 260.5H164.8M163.5 258.4H164.8M163.5 256.7H164.8M163.5 255.4H164.8M163.5 254.3H164.8M163.5 253.3H164.8M163.5 252.5H164.8M163.5 246.7H164.8M163.5 243.7H164.8M163.5 241.6H164.8M163.5 240.0H164.8M163.5 238.7H164.8M163.5 237.5H164.8M163.5 236.6H164.8M163.5 235.7H164.8M163.5 229.9H164.8M163.5 226.9H164.8M163.5 224.9H164.8M163.5 223.2H164.8M163.5 221.9H164.8M163.5 220.8H164.8M163.5 219.8H164.8M163.5 219.0H164.8M163.5 213.1H164.8M163.5 210.2H164.8M163.5 208.1H164.8M163.5 206.5H164.8M163.5 205.2H164.8M163.5 204.0H164.8M163.5 203.1H164.8M163.5 202.2H164.8M169.8 285.2V286.5M172.8 285.2V286.5M174.9 285.2V286.5M176.5 285.2V286.5M177.8 285.2V286.5M179.0 285.2V286.5M179.9 285.2V286.5M180.8 285.2V286.5M186.6 285.2V286.5M189.5 285.2V286.5M191.6 285.2V286.5M193.3 285.2V286.5M194.6 285.2V286.5M195.7 285.2V286.5M196.7 285.2V286.5M197.5 285.2V286.5M203.3 285.2V286.5M206.3 285.2V286.5M208.4 285.2V286.5M210.0 285.2V286.5M211.3 285.2V286.5M212.5 285.2V286.5M213.4 285.2V286.5M214.3 285.2V286.5M220.1 285.2V286.5M223.1 285.2V286.5M225.1 285.2V286.5M226.8 285.2V286.5M228.1 285.2V286.5M229.2 285.2V286.5M230.2 285.2V286.5M231.0 285.2V286.5M236.9 285.2V286.5M239.8 285.2V286.5M241.9 285.2V286.5M243.5 285.2V286.5M244.8 285.2V286.5M246.0 285.2V286.5M246.9 285.2V286.5M247.8 285.2V286.5" stroke="#333" stroke-width="0.75" fill="none"/>
<rect x="43.40" y="309.30" width="84.90" height="84.50" fill="none" stroke="#151515" stroke-width="1.2"/>
<path d="M41.6 393.8H43.4M41.6 377.1H43.4M41.6 360.3H43.4M41.6 343.6H43.4M41.6 326.9H43.4M41.6 310.1H43.4M43.4 393.8V395.6M60.1 393.8V395.6M76.9 393.8V395.6M93.6 393.8V395.6M110.3 393.8V395.6M127.1 393.8V395.6" stroke="#222" stroke-width="0.9" fill="none"/>
<path d="M42.1 388.8H43.4M42.1 385.8H43.4M42.1 383.7H43.4M42.1 382.1H43.4M42.1 380.8H43.4M42.1 379.7H43.4M42.1 378.7H43.4M42.1 377.8H43.4M42.1 372.0H43.4M42.1 369.1H43.4M42.1 367.0H43.4M42.1 365.4H43.4M42.1 364.0H43.4M42.1 362.9H43.4M42.1 362.0H43.4M42.1 361.1H43.4M42.1 355.3H43.4M42.1 352.4H43.4M42.1 350.3H43.4M42.1 348.6H43.4M42.1 347.3H43.4M42.1 346.2H43.4M42.1 345.2H43.4M42.1 344.4H43.4M42.1 338.6H43.4M42.1 335.6H43.4M42.1 333.5H43.4M42.1 331.9H43.4M42.1 330.6H43.4M42.1 329.5H43.4M42.1 328.5H43.4M42.1 327.6H43.4M42.1 321.8H43.4M42.1 318.9H43.4M42.1 316.8H43.4M42.1 315.2H43.4M42.1 313.8H43.4M42.1 312.7H43.4M42.1 311.8H43.4M42.1 310.9H43.4M48.4 393.8V395.1M51.4 393.8V395.1M53.5 393.8V395.1M55.1 393.8V395.1M56.4 393.8V395.1M57.5 393.8V395.1M58.5 393.8V395.1M59.4 393.8V395.1M65.2 393.8V395.1M68.1 393.8V395.1M70.2 393.8V395.1M71.8 393.8V395.1M73.2 393.8V395.1M74.3 393.8V395.1M75.2 393.8V395.1M76.1 393.8V395.1M81.9 393.8V395.1M84.8 393.8V395.1M86.9 393.8V395.1M88.6 393.8V395.1M89.9 393.8V395.1M91.0 393.8V395.1M92.0 393.8V395.1M92.8 393.8V395.1M98.6 393.8V395.1M101.6 393.8V395.1M103.7 393.8V395.1M105.3 393.8V395.1M106.6 393.8V395.1M107.7 393.8V395.1M108.7 393.8V395.1M109.6 393.8V395.1M115.4 393.8V395.1M118.3 393.8V395.1M120.4 393.8V395.1M122.0 393.8V395.1M123.4 393.8V395.1M124.5 393.8V395.1M125.4 393.8V395.1M126.3 393.8V395.1" stroke="#333" stroke-width="0.75" fill="none"/>
<rect x="164.80" y="309.10" width="84.70" height="84.70" fill="none" stroke="#151515" stroke-width="1.2"/>
<path d="M163.0 393.8H164.8M163.0 377.0H164.8M163.0 360.3H164.8M163.0 343.5H164.8M163.0 326.7H164.8M163.0 309.9H164.8M164.8 393.8V395.6M181.6 393.8V395.6M198.3 393.8V395.6M215.1 393.8V395.6M231.9 393.8V395.6M248.7 393.8V395.6" stroke="#222" stroke-width="0.9" fill="none"/>
<path d="M163.5 388.8H164.8M163.5 385.8H164.8M163.5 383.7H164.8M163.5 382.1H164.8M163.5 380.7H164.8M163.5 379.6H164.8M163.5 378.7H164.8M163.5 377.8H164.8M163.5 372.0H164.8M163.5 369.0H164.8M163.5 366.9H164.8M163.5 365.3H164.8M163.5 364.0H164.8M163.5 362.9H164.8M163.5 361.9H164.8M163.5 361.0H164.8M163.5 355.2H164.8M163.5 352.3H164.8M163.5 350.2H164.8M163.5 348.5H164.8M163.5 347.2H164.8M163.5 346.1H164.8M163.5 345.1H164.8M163.5 344.3H164.8M163.5 338.4H164.8M163.5 335.5H164.8M163.5 333.4H164.8M163.5 331.8H164.8M163.5 330.4H164.8M163.5 329.3H164.8M163.5 328.3H164.8M163.5 327.5H164.8M163.5 321.7H164.8M163.5 318.7H164.8M163.5 316.6H164.8M163.5 315.0H164.8M163.5 313.7H164.8M163.5 312.5H164.8M163.5 311.6H164.8M163.5 310.7H164.8M169.8 393.8V395.1M172.8 393.8V395.1M174.9 393.8V395.1M176.5 393.8V395.1M177.9 393.8V395.1M179.0 393.8V395.1M179.9 393.8V395.1M180.8 393.8V395.1M186.6 393.8V395.1M189.6 393.8V395.1M191.7 393.8V395.1M193.3 393.8V395.1M194.6 393.8V395.1M195.7 393.8V395.1M196.7 393.8V395.1M197.6 393.8V395.1M203.4 393.8V395.1M206.3 393.8V395.1M208.4 393.8V395.1M210.1 393.8V395.1M211.4 393.8V395.1M212.5 393.8V395.1M213.5 393.8V395.1M214.3 393.8V395.1M220.2 393.8V395.1M223.1 393.8V395.1M225.2 393.8V395.1M226.8 393.8V395.1M228.2 393.8V395.1M229.3 393.8V395.1M230.3 393.8V395.1M231.1 393.8V395.1M236.9 393.8V395.1M239.9 393.8V395.1M242.0 393.8V395.1M243.6 393.8V395.1M244.9 393.8V395.1M246.1 393.8V395.1M247.0 393.8V395.1M247.9 393.8V395.1" stroke="#333" stroke-width="0.75" fill="none"/>
<rect x="88.6" y="201.9" width="38.6" height="82.0" fill="none" stroke="#24226c" stroke-width="1.75"/>
<rect x="209.6" y="227.0" width="22.8" height="24.4" fill="none" stroke="#24226c" stroke-width="1.75"/>
<rect x="206.7" y="337.8" width="20.8" height="25.8" fill="none" stroke="#24226c" stroke-width="1.75"/>
<polygon points="47,342.5 62,336.6 77.5,340.2 78.2,343 77.5,349.5 57,358.8 47,350.6" fill="none" stroke="#24226c" stroke-width="1.75" stroke-linejoin="round"/>
<polygon points="75,362.5 85,356.5 93.8,358.1 96.9,367.5 90.6,381.2 75.6,372.5" fill="none" stroke="#24226c" stroke-width="1.75" stroke-linejoin="round"/>
<text x="106.00" y="236.40" font-size="9.0" text-anchor="middle" fill="#333" style="stroke-width:0.25px">15</text>
<text x="221.30" y="225.20" font-size="8.8" text-anchor="middle" fill="#0a0a0a" style="stroke-width:0.25px">15</text>
<text x="217.50" y="335.20" font-size="8.8" text-anchor="middle" fill="#0a0a0a" style="stroke-width:0.25px">6.1</text>
<text x="67.20" y="331.80" font-size="8.8" text-anchor="middle" fill="#0a0a0a" style="stroke-width:0.25px">69</text>
<text x="102.00" y="384.00" font-size="8.8" text-anchor="middle" fill="#0a0a0a" style="stroke-width:0.25px">19</text>
<line x1="30.1" y1="262.0" x2="30.1" y2="208.3" stroke="#000" stroke-width="2.25"/>
<polygon points="30.10,200.80 34.10,209.80 30.10,208.30 26.10,209.80" fill="#000"/>
<line x1="67.3" y1="298.3" x2="119.8" y2="298.3" stroke="#000" stroke-width="2.25"/>
<polygon points="127.30,298.30 118.30,302.30 119.80,298.30 118.30,294.30" fill="#000"/>
<line x1="89.3" y1="262.0" x2="89.3" y2="316.1" stroke="#000" stroke-width="2.25"/>
<polygon points="89.30,323.60 85.30,314.60 89.30,316.10 93.30,314.60" fill="#000"/>
<line x1="30.6" y1="372.9" x2="30.6" y2="319.4" stroke="#000" stroke-width="2.25"/>
<polygon points="30.60,311.90 34.60,320.90 30.60,319.40 26.60,320.90" fill="#000"/>
<line x1="67.5" y1="406.8" x2="119.8" y2="406.8" stroke="#000" stroke-width="2.25"/>
<polygon points="127.30,406.80 118.30,410.80 119.80,406.80 118.30,402.80" fill="#000"/>
<line x1="152.9" y1="261.9" x2="152.9" y2="207.9" stroke="#000" stroke-width="2.25"/>
<polygon points="152.90,200.40 156.90,209.40 152.90,207.90 148.90,209.40" fill="#000"/>
<line x1="194.2" y1="298.0" x2="242.9" y2="298.0" stroke="#000" stroke-width="2.25"/>
<polygon points="250.40,298.00 241.40,302.00 242.90,298.00 241.40,294.00" fill="#000"/>
<line x1="152.3" y1="372.0" x2="152.3" y2="319.0" stroke="#000" stroke-width="2.25"/>
<polygon points="152.30,311.50 156.30,320.50 152.30,319.00 148.30,320.50" fill="#000"/>
<line x1="194.0" y1="406.5" x2="241.8" y2="406.5" stroke="#000" stroke-width="2.25"/>
<polygon points="249.30,406.50 240.30,410.50 241.80,406.50 240.30,402.50" fill="#000"/>
<line x1="80.0" y1="341.9" x2="144.6" y2="293.2" stroke="#000" stroke-width="2.25"/>
<polygon points="150.60,288.70 145.82,297.31 144.61,293.21 141.01,290.92" fill="#000"/>
<line x1="102.5" y1="370.6" x2="142.4" y2="370.6" stroke="#000" stroke-width="2.25"/>
<polygon points="149.90,370.60 140.90,374.60 142.40,370.60 140.90,366.60" fill="#000"/>
<text x="34.40" y="275.20" font-size="10.8" text-anchor="middle" fill="#0a0a0a" textLength="18.2" lengthAdjust="spacingAndGlyphs" transform="rotate(-90 34.40 275.20)">SSC</text>
<text x="46.00" y="301.40" font-size="10.6" text-anchor="start" fill="#0a0a0a" textLength="17.8" lengthAdjust="spacingAndGlyphs">CD3</text>
<text x="35.20" y="386.10" font-size="10.8" text-anchor="middle" fill="#0a0a0a" textLength="16.8" lengthAdjust="spacingAndGlyphs" transform="rotate(-90 35.20 386.10)">CD4</text>
<text x="43.60" y="410.70" font-size="10.6" text-anchor="start" fill="#0a0a0a" textLength="18.7" lengthAdjust="spacingAndGlyphs">CD8</text>
<text x="157.00" y="275.80" font-size="10.8" text-anchor="middle" fill="#0a0a0a" textLength="17.3" lengthAdjust="spacingAndGlyphs" transform="rotate(-90 157.00 275.80)">CD4</text>
<text x="166.80" y="301.50" font-size="10.6" text-anchor="start" fill="#0a0a0a" textLength="24.0" lengthAdjust="spacingAndGlyphs">CD69</text>
<text x="156.60" y="384.70" font-size="10.8" text-anchor="middle" fill="#0a0a0a" textLength="18.0" lengthAdjust="spacingAndGlyphs" transform="rotate(-90 156.60 384.70)">CD8</text>
<text x="167.20" y="410.00" font-size="10.6" text-anchor="start" fill="#0a0a0a" textLength="24.2" lengthAdjust="spacingAndGlyphs">CD69</text>
<text x="290.30" y="193.30" font-size="14.8" text-anchor="start" fill="#111" textLength="9.94" lengthAdjust="spacingAndGlyphs" font-weight="bold">D</text>
<line x1="340.60" y1="198.00" x2="340.60" y2="323.00" stroke="#111" stroke-width="1.85"/>
<line x1="339.80" y1="322.20" x2="486.20" y2="322.20" stroke="#111" stroke-width="1.85"/>
<path d="M338.6 311.2H340.6M338.6 304.7H340.6M338.6 300.1H340.6M338.6 296.5H340.6M338.6 293.6H340.6M338.6 291.2H340.6M338.6 289.1H340.6M338.6 287.2H340.6M338.6 274.5H340.6M338.6 268.0H340.6M338.6 263.4H340.6M338.6 259.8H340.6M338.6 256.9H340.6M338.6 254.5H340.6M338.6 252.4H340.6M338.6 250.5H340.6M338.6 237.8H340.6M338.6 231.3H340.6M338.6 226.7H340.6M338.6 223.1H340.6M338.6 220.2H340.6M338.6 217.8H340.6M338.6 215.7H340.6M338.6 213.8H340.6M338.6 201.1H340.6" stroke="#111" stroke-width="1.0"/>
<line x1="337.40" y1="212.10" x2="340.60" y2="212.10" stroke="#111" stroke-width="1.55"/>
<text x="334.30" y="215.30" font-size="9.0" text-anchor="end" fill="#0a0a0a">10</text>
<line x1="337.40" y1="248.80" x2="340.60" y2="248.80" stroke="#111" stroke-width="1.55"/>
<text x="334.30" y="252.00" font-size="9.0" text-anchor="end" fill="#0a0a0a">1</text>
<line x1="337.40" y1="285.50" x2="340.60" y2="285.50" stroke="#111" stroke-width="1.55"/>
<text x="334.30" y="288.70" font-size="9.0" text-anchor="end" fill="#0a0a0a">0.1</text>
<line x1="337.40" y1="322.20" x2="340.60" y2="322.20" stroke="#111" stroke-width="1.55"/>
<text x="334.30" y="325.40" font-size="9.0" text-anchor="end" fill="#0a0a0a">0.01</text>
<text x="313.20" y="260.50" font-size="11.3" text-anchor="middle" fill="#0a0a0a" textLength="68.5" lengthAdjust="spacingAndGlyphs" transform="rotate(-90 313.20 260.50)">% lymphocytes</text>
<rect x="348.40" y="215.20" width="8.20" height="107.00" fill="#b0032c" stroke="#84001f" stroke-width="0.8"/>
<line x1="352.50" y1="214.80" x2="352.50" y2="213.20" stroke="#111" stroke-width="1.55"/>
<line x1="349.90" y1="213.20" x2="355.10" y2="213.20" stroke="#111" stroke-width="1.75"/>
<rect x="361.90" y="219.80" width="8.50" height="102.40" fill="#2f4c84" stroke="#1f3360" stroke-width="0.8"/>
<line x1="366.15" y1="219.40" x2="366.15" y2="216.30" stroke="#111" stroke-width="1.55"/>
<line x1="363.55" y1="216.30" x2="368.75" y2="216.30" stroke="#111" stroke-width="1.75"/>
<rect x="384.40" y="228.00" width="8.40" height="94.20" fill="#b0032c" stroke="#84001f" stroke-width="0.8"/>
<line x1="388.60" y1="227.60" x2="388.60" y2="224.50" stroke="#111" stroke-width="1.55"/>
<line x1="386.00" y1="224.50" x2="391.20" y2="224.50" stroke="#111" stroke-width="1.75"/>
<rect x="398.20" y="230.60" width="8.40" height="91.60" fill="#2f4c84" stroke="#1f3360" stroke-width="0.8"/>
<line x1="402.40" y1="230.20" x2="402.40" y2="225.30" stroke="#111" stroke-width="1.55"/>
<line x1="399.80" y1="225.30" x2="405.00" y2="225.30" stroke="#111" stroke-width="1.75"/>
<rect x="420.40" y="246.70" width="8.60" height="75.50" fill="#b0032c" stroke="#84001f" stroke-width="0.8"/>
<line x1="424.70" y1="246.30" x2="424.70" y2="243.50" stroke="#111" stroke-width="1.55"/>
<line x1="422.10" y1="243.50" x2="427.30" y2="243.50" stroke="#111" stroke-width="1.75"/>
<rect x="434.20" y="256.50" width="8.50" height="65.70" fill="#2f4c84" stroke="#1f3360" stroke-width="0.8"/>
<line x1="438.45" y1="256.10" x2="438.45" y2="251.20" stroke="#111" stroke-width="1.55"/>
<line x1="435.85" y1="251.20" x2="441.05" y2="251.20" stroke="#111" stroke-width="1.75"/>
<rect x="456.40" y="288.60" width="8.20" height="33.60" fill="#b0032c" stroke="#84001f" stroke-width="0.8"/>
<line x1="460.50" y1="288.20" x2="460.50" y2="283.80" stroke="#111" stroke-width="1.55"/>
<line x1="457.90" y1="283.80" x2="463.10" y2="283.80" stroke="#111" stroke-width="1.75"/>
<rect x="470.30" y="281.90" width="8.40" height="40.30" fill="#2f4c84" stroke="#1f3360" stroke-width="0.8"/>
<line x1="474.50" y1="281.50" x2="474.50" y2="275.80" stroke="#111" stroke-width="1.55"/>
<line x1="471.90" y1="275.80" x2="477.10" y2="275.80" stroke="#111" stroke-width="1.75"/>
<line x1="359.40" y1="322.20" x2="359.40" y2="325.00" stroke="#111" stroke-width="1.45"/>
<line x1="395.40" y1="322.20" x2="395.40" y2="325.00" stroke="#111" stroke-width="1.45"/>
<line x1="431.60" y1="322.20" x2="431.60" y2="325.00" stroke="#111" stroke-width="1.45"/>
<line x1="467.50" y1="322.20" x2="467.50" y2="325.00" stroke="#111" stroke-width="1.45"/>
<text x="362.00" y="331.20" font-size="9.2" text-anchor="end" fill="#0a0a0a" textLength="45.5" lengthAdjust="spacingAndGlyphs" transform="rotate(-45 362.00 331.20)">CD4+ cells</text>
<text x="398.00" y="331.20" font-size="9.2" text-anchor="end" fill="#0a0a0a" textLength="45.5" lengthAdjust="spacingAndGlyphs" transform="rotate(-45 398.00 331.20)">CD8+ cells</text>
<text x="434.20" y="331.20" font-size="9.2" text-anchor="end" fill="#0a0a0a" textLength="65.3" lengthAdjust="spacingAndGlyphs" transform="rotate(-45 434.20 331.20)">Activated CD4+</text>
<text x="470.10" y="331.20" font-size="9.2" text-anchor="end" fill="#0a0a0a" textLength="65.3" lengthAdjust="spacingAndGlyphs" transform="rotate(-45 470.10 331.20)">Activated CD8+</text>
<rect x="419.5" y="208.7" width="6.6" height="6.4" fill="#b0032c"/>
<rect x="419.5" y="218.9" width="6.6" height="6.4" fill="#2f4c84"/>
<text x="428.60" y="214.90" font-size="9.2" text-anchor="start" fill="#0a0a0a" textLength="14.2" lengthAdjust="spacingAndGlyphs">WT</text>
<text x="428.60" y="225.30" font-size="9.2" text-anchor="start" fill="#0a0a0a" textLength="43.5" lengthAdjust="spacingAndGlyphs">IgH-hEBI2</text>
<text x="12.10" y="438.50" font-size="14.8" text-anchor="start" fill="#111" textLength="9.18" lengthAdjust="spacingAndGlyphs" font-weight="bold">E</text>
<line x1="61.30" y1="465.00" x2="61.30" y2="583.50" stroke="#111" stroke-width="1.85"/>
<line x1="60.50" y1="582.70" x2="232.20" y2="582.70" stroke="#111" stroke-width="1.85"/>
<line x1="58.10" y1="469.50" x2="61.30" y2="469.50" stroke="#111" stroke-width="1.55"/>
<text x="54.80" y="472.70" font-size="9.0" text-anchor="end" fill="#0a0a0a" textLength="23.0" lengthAdjust="spacingAndGlyphs">0.020</text>
<line x1="58.10" y1="497.80" x2="61.30" y2="497.80" stroke="#111" stroke-width="1.55"/>
<text x="54.80" y="501.00" font-size="9.0" text-anchor="end" fill="#0a0a0a" textLength="23.0" lengthAdjust="spacingAndGlyphs">0.015</text>
<line x1="58.10" y1="526.10" x2="61.30" y2="526.10" stroke="#111" stroke-width="1.55"/>
<text x="54.80" y="529.30" font-size="9.0" text-anchor="end" fill="#0a0a0a" textLength="23.0" lengthAdjust="spacingAndGlyphs">0.010</text>
<line x1="58.10" y1="554.40" x2="61.30" y2="554.40" stroke="#111" stroke-width="1.55"/>
<text x="54.80" y="557.60" font-size="9.0" text-anchor="end" fill="#0a0a0a" textLength="23.0" lengthAdjust="spacingAndGlyphs">0.005</text>
<line x1="58.10" y1="582.70" x2="61.30" y2="582.70" stroke="#111" stroke-width="1.55"/>
<text x="54.80" y="585.90" font-size="9.0" text-anchor="end" fill="#0a0a0a" textLength="23.0" lengthAdjust="spacingAndGlyphs">0.000</text>
<text x="25.90" y="521.50" font-size="11.0" text-anchor="middle" fill="#0a0a0a" textLength="96.7" lengthAdjust="spacingAndGlyphs" transform="rotate(-90 25.90 521.50)">Rel. cytokine RNA level</text>
<line x1="90.40" y1="582.70" x2="90.40" y2="585.80" stroke="#111" stroke-width="1.45"/>
<text x="90.40" y="597.60" font-size="9.1" text-anchor="middle" fill="#0a0a0a">IL4</text>
<line x1="146.90" y1="582.70" x2="146.90" y2="585.80" stroke="#111" stroke-width="1.45"/>
<text x="146.90" y="597.60" font-size="9.1" text-anchor="middle" fill="#0a0a0a">IL10</text>
<line x1="203.50" y1="582.70" x2="203.50" y2="585.80" stroke="#111" stroke-width="1.45"/>
<text x="203.50" y="597.60" font-size="9.1" text-anchor="middle" fill="#0a0a0a">IL21</text>
<text x="147.20" y="453.80" font-size="9.1" text-anchor="middle" fill="#0a0a0a">Young mice</text>
<circle cx="72.40" cy="477.90" r="3.05" fill="#9a1638" stroke="#1e0408" stroke-width="1.6"/>
<circle cx="72.40" cy="490.30" r="3.05" fill="#4b5779" stroke="#0a0e1a" stroke-width="1.6"/>
<text x="80.00" y="481.40" font-size="9.2" text-anchor="start" fill="#0a0a0a" textLength="13.6" lengthAdjust="spacingAndGlyphs">WT</text>
<text x="80.00" y="493.90" font-size="9.2" text-anchor="start" fill="#0a0a0a" textLength="42" lengthAdjust="spacingAndGlyphs">IgH-hEBI2</text>
<line x1="79.50" y1="578.00" x2="79.50" y2="582.00" stroke="#111" stroke-width="1.5"/>
<line x1="76.00" y1="578.00" x2="83.00" y2="578.00" stroke="#111" stroke-width="1.5"/>
<line x1="76.00" y1="582.00" x2="83.00" y2="582.00" stroke="#111" stroke-width="1.5"/>
<line x1="73.00" y1="580.30" x2="86.00" y2="580.30" stroke="#111" stroke-width="1.5"/>
<circle cx="75.20" cy="579.30" r="2.95" fill="#82142f" stroke="#1e0408" stroke-width="1.45"/>
<circle cx="78.20" cy="581.20" r="2.95" fill="#82142f" stroke="#1e0408" stroke-width="1.45"/>
<circle cx="83.70" cy="578.80" r="2.95" fill="#82142f" stroke="#1e0408" stroke-width="1.45"/>
<circle cx="80.70" cy="580.50" r="2.95" fill="#82142f" stroke="#1e0408" stroke-width="1.45"/>
<line x1="100.50" y1="579.00" x2="100.50" y2="582.00" stroke="#111" stroke-width="1.5"/>
<line x1="97.00" y1="579.00" x2="104.00" y2="579.00" stroke="#111" stroke-width="1.5"/>
<line x1="97.00" y1="582.00" x2="104.00" y2="582.00" stroke="#111" stroke-width="1.5"/>
<line x1="94.00" y1="580.50" x2="107.00" y2="580.50" stroke="#111" stroke-width="1.5"/>
<circle cx="96.30" cy="580.70" r="2.95" fill="#2e3650" stroke="#0a0e1a" stroke-width="1.45"/>
<circle cx="99.70" cy="581.00" r="2.95" fill="#2e3650" stroke="#0a0e1a" stroke-width="1.45"/>
<circle cx="105.20" cy="579.80" r="2.95" fill="#2e3650" stroke="#0a0e1a" stroke-width="1.45"/>
<circle cx="102.30" cy="581.30" r="2.95" fill="#2e3650" stroke="#0a0e1a" stroke-width="1.45"/>
<line x1="136.50" y1="563.50" x2="136.50" y2="575.50" stroke="#111" stroke-width="1.5"/>
<line x1="133.00" y1="563.50" x2="140.00" y2="563.50" stroke="#111" stroke-width="1.5"/>
<line x1="133.00" y1="575.50" x2="140.00" y2="575.50" stroke="#111" stroke-width="1.5"/>
<line x1="129.20" y1="569.20" x2="143.80" y2="569.20" stroke="#111" stroke-width="1.5"/>
<circle cx="132.60" cy="562.60" r="2.95" fill="#9a1638" stroke="#1e0408" stroke-width="1.45"/>
<circle cx="140.00" cy="563.10" r="2.95" fill="#9a1638" stroke="#1e0408" stroke-width="1.45"/>
<circle cx="139.70" cy="573.80" r="2.95" fill="#9a1638" stroke="#1e0408" stroke-width="1.45"/>
<circle cx="132.80" cy="576.90" r="2.95" fill="#9a1638" stroke="#1e0408" stroke-width="1.45"/>
<line x1="157.80" y1="490.20" x2="157.80" y2="550.30" stroke="#111" stroke-width="1.5"/>
<line x1="153.60" y1="490.20" x2="162.00" y2="490.20" stroke="#111" stroke-width="1.5"/>
<line x1="153.60" y1="550.30" x2="162.00" y2="550.30" stroke="#111" stroke-width="1.5"/>
<line x1="150.30" y1="520.30" x2="165.30" y2="520.30" stroke="#111" stroke-width="1.5"/>
<circle cx="157.40" cy="478.10" r="2.95" fill="#4b5779" stroke="#0a0e1a" stroke-width="1.45"/>
<circle cx="153.80" cy="543.50" r="2.95" fill="#4b5779" stroke="#0a0e1a" stroke-width="1.45"/>
<circle cx="161.50" cy="541.50" r="2.95" fill="#4b5779" stroke="#0a0e1a" stroke-width="1.45"/>
<line x1="193.20" y1="561.00" x2="193.20" y2="577.20" stroke="#111" stroke-width="1.5"/>
<line x1="189.70" y1="561.00" x2="196.70" y2="561.00" stroke="#111" stroke-width="1.5"/>
<line x1="189.70" y1="577.20" x2="196.70" y2="577.20" stroke="#111" stroke-width="1.5"/>
<line x1="185.70" y1="566.50" x2="200.70" y2="566.50" stroke="#111" stroke-width="1.5"/>
<circle cx="189.60" cy="559.20" r="2.95" fill="#9a1638" stroke="#1e0408" stroke-width="1.45"/>
<circle cx="196.50" cy="558.20" r="2.95" fill="#9a1638" stroke="#1e0408" stroke-width="1.45"/>
<circle cx="193.20" cy="568.90" r="2.95" fill="#9a1638" stroke="#1e0408" stroke-width="1.45"/>
<circle cx="193.20" cy="579.20" r="2.95" fill="#9a1638" stroke="#1e0408" stroke-width="1.45"/>
<line x1="214.20" y1="574.50" x2="214.20" y2="582.00" stroke="#111" stroke-width="1.5"/>
<line x1="210.70" y1="574.50" x2="217.70" y2="574.50" stroke="#111" stroke-width="1.5"/>
<line x1="210.70" y1="582.00" x2="217.70" y2="582.00" stroke="#111" stroke-width="1.5"/>
<line x1="207.20" y1="578.80" x2="221.20" y2="578.80" stroke="#111" stroke-width="1.5"/>
<circle cx="214.20" cy="570.80" r="2.95" fill="#4b5779" stroke="#0a0e1a" stroke-width="1.45"/>
<circle cx="210.40" cy="580.80" r="2.95" fill="#4b5779" stroke="#0a0e1a" stroke-width="1.45"/>
<circle cx="214.20" cy="581.50" r="2.95" fill="#4b5779" stroke="#0a0e1a" stroke-width="1.45"/>
<circle cx="218.00" cy="580.30" r="2.95" fill="#4b5779" stroke="#0a0e1a" stroke-width="1.45"/>
<text x="147.50" y="473.10" font-size="10.0" text-anchor="middle" fill="#151515">***</text>
<line x1="139.80" y1="472.20" x2="154.60" y2="472.20" stroke="#111" stroke-width="1.55"/>
<circle cx="157.80" cy="520.30" r="2.95" fill="#1e2436" stroke="#050505" stroke-width="1.45"/>
<line x1="150.10" y1="520.30" x2="165.20" y2="520.30" stroke="#111" stroke-width="1.5"/>
<text x="291.20" y="438.50" font-size="14.8" text-anchor="start" fill="#111" textLength="8.41" lengthAdjust="spacingAndGlyphs" font-weight="bold">F</text>
<line x1="340.30" y1="465.00" x2="340.30" y2="583.50" stroke="#111" stroke-width="1.85"/>
<line x1="339.50" y1="582.70" x2="511.20" y2="582.70" stroke="#111" stroke-width="1.85"/>
<line x1="337.10" y1="469.50" x2="340.30" y2="469.50" stroke="#111" stroke-width="1.55"/>
<text x="333.80" y="472.70" font-size="9.0" text-anchor="end" fill="#0a0a0a" textLength="23.0" lengthAdjust="spacingAndGlyphs">0.020</text>
<line x1="337.10" y1="497.80" x2="340.30" y2="497.80" stroke="#111" stroke-width="1.55"/>
<text x="333.80" y="501.00" font-size="9.0" text-anchor="end" fill="#0a0a0a" textLength="23.0" lengthAdjust="spacingAndGlyphs">0.015</text>
<line x1="337.10" y1="526.10" x2="340.30" y2="526.10" stroke="#111" stroke-width="1.55"/>
<text x="333.80" y="529.30" font-size="9.0" text-anchor="end" fill="#0a0a0a" textLength="23.0" lengthAdjust="spacingAndGlyphs">0.010</text>
<line x1="337.10" y1="554.40" x2="340.30" y2="554.40" stroke="#111" stroke-width="1.55"/>
<text x="333.80" y="557.60" font-size="9.0" text-anchor="end" fill="#0a0a0a" textLength="23.0" lengthAdjust="spacingAndGlyphs">0.005</text>
<line x1="337.10" y1="582.70" x2="340.30" y2="582.70" stroke="#111" stroke-width="1.55"/>
<text x="333.80" y="585.90" font-size="9.0" text-anchor="end" fill="#0a0a0a" textLength="23.0" lengthAdjust="spacingAndGlyphs">0.000</text>
<text x="304.90" y="521.50" font-size="11.0" text-anchor="middle" fill="#0a0a0a" textLength="96.7" lengthAdjust="spacingAndGlyphs" transform="rotate(-90 304.90 521.50)">Rel. cytokine RNA level</text>
<line x1="369.40" y1="582.70" x2="369.40" y2="585.80" stroke="#111" stroke-width="1.45"/>
<text x="369.40" y="597.60" font-size="9.1" text-anchor="middle" fill="#0a0a0a">IL4</text>
<line x1="425.90" y1="582.70" x2="425.90" y2="585.80" stroke="#111" stroke-width="1.45"/>
<text x="425.90" y="597.60" font-size="9.1" text-anchor="middle" fill="#0a0a0a">IL10</text>
<line x1="482.50" y1="582.70" x2="482.50" y2="585.80" stroke="#111" stroke-width="1.45"/>
<text x="482.50" y="597.60" font-size="9.1" text-anchor="middle" fill="#0a0a0a">IL21</text>
<text x="426.60" y="453.80" font-size="9.1" text-anchor="middle" fill="#0a0a0a">Old mice</text>
<circle cx="351.40" cy="477.90" r="3.05" fill="#9a1638" stroke="#1e0408" stroke-width="1.6"/>
<circle cx="351.40" cy="490.30" r="3.05" fill="#4b5779" stroke="#0a0e1a" stroke-width="1.6"/>
<text x="359.00" y="481.40" font-size="9.2" text-anchor="start" fill="#0a0a0a" textLength="13.6" lengthAdjust="spacingAndGlyphs">WT</text>
<text x="359.00" y="493.90" font-size="9.2" text-anchor="start" fill="#0a0a0a" textLength="42" lengthAdjust="spacingAndGlyphs">IgH-hEBI2</text>
<line x1="359.00" y1="577.50" x2="359.00" y2="582.00" stroke="#111" stroke-width="1.5"/>
<line x1="355.50" y1="577.50" x2="362.50" y2="577.50" stroke="#111" stroke-width="1.5"/>
<line x1="355.50" y1="582.00" x2="362.50" y2="582.00" stroke="#111" stroke-width="1.5"/>
<line x1="352.50" y1="579.80" x2="365.50" y2="579.80" stroke="#111" stroke-width="1.5"/>
<circle cx="354.80" cy="579.00" r="2.95" fill="#82142f" stroke="#1e0408" stroke-width="1.45"/>
<circle cx="358.50" cy="581.30" r="2.95" fill="#82142f" stroke="#1e0408" stroke-width="1.45"/>
<circle cx="363.70" cy="577.30" r="2.95" fill="#82142f" stroke="#1e0408" stroke-width="1.45"/>
<circle cx="361.30" cy="580.20" r="2.95" fill="#82142f" stroke="#1e0408" stroke-width="1.45"/>
<line x1="380.00" y1="579.00" x2="380.00" y2="582.00" stroke="#111" stroke-width="1.5"/>
<line x1="376.50" y1="579.00" x2="383.50" y2="579.00" stroke="#111" stroke-width="1.5"/>
<line x1="376.50" y1="582.00" x2="383.50" y2="582.00" stroke="#111" stroke-width="1.5"/>
<line x1="373.50" y1="580.50" x2="386.50" y2="580.50" stroke="#111" stroke-width="1.5"/>
<circle cx="375.80" cy="580.80" r="2.95" fill="#2e3650" stroke="#0a0e1a" stroke-width="1.45"/>
<circle cx="379.80" cy="581.00" r="2.95" fill="#2e3650" stroke="#0a0e1a" stroke-width="1.45"/>
<circle cx="384.40" cy="580.20" r="2.95" fill="#2e3650" stroke="#0a0e1a" stroke-width="1.45"/>
<circle cx="382.00" cy="581.30" r="2.95" fill="#2e3650" stroke="#0a0e1a" stroke-width="1.45"/>
<line x1="416.10" y1="566.00" x2="416.10" y2="580.00" stroke="#111" stroke-width="1.5"/>
<line x1="412.25" y1="566.00" x2="419.95" y2="566.00" stroke="#111" stroke-width="1.5"/>
<line x1="412.25" y1="580.00" x2="419.95" y2="580.00" stroke="#111" stroke-width="1.5"/>
<line x1="408.85" y1="574.00" x2="423.35" y2="574.00" stroke="#111" stroke-width="1.5"/>
<circle cx="416.20" cy="561.90" r="2.95" fill="#9a1638" stroke="#1e0408" stroke-width="1.45"/>
<circle cx="412.70" cy="576.30" r="2.95" fill="#9a1638" stroke="#1e0408" stroke-width="1.45"/>
<circle cx="416.20" cy="579.20" r="2.95" fill="#9a1638" stroke="#1e0408" stroke-width="1.45"/>
<circle cx="419.60" cy="578.10" r="2.95" fill="#9a1638" stroke="#1e0408" stroke-width="1.45"/>
<circle cx="414.50" cy="578.60" r="2.95" fill="#9a1638" stroke="#1e0408" stroke-width="1.45"/>
<line x1="436.90" y1="513.60" x2="436.90" y2="570.00" stroke="#111" stroke-width="1.5"/>
<line x1="433.00" y1="513.60" x2="440.80" y2="513.60" stroke="#111" stroke-width="1.5"/>
<line x1="433.00" y1="570.00" x2="440.80" y2="570.00" stroke="#111" stroke-width="1.5"/>
<line x1="429.70" y1="541.70" x2="444.10" y2="541.70" stroke="#111" stroke-width="1.5"/>
<circle cx="437.20" cy="500.90" r="2.95" fill="#4b5779" stroke="#0a0e1a" stroke-width="1.45"/>
<circle cx="434.00" cy="549.20" r="2.95" fill="#4b5779" stroke="#0a0e1a" stroke-width="1.45"/>
<circle cx="440.40" cy="552.10" r="2.95" fill="#4b5779" stroke="#0a0e1a" stroke-width="1.45"/>
<circle cx="436.90" cy="565.20" r="2.95" fill="#4b5779" stroke="#0a0e1a" stroke-width="1.45"/>
<line x1="473.00" y1="549.50" x2="473.00" y2="555.50" stroke="#111" stroke-width="1.5"/>
<line x1="470.00" y1="549.50" x2="476.00" y2="549.50" stroke="#111" stroke-width="1.5"/>
<line x1="470.00" y1="555.50" x2="476.00" y2="555.50" stroke="#111" stroke-width="1.5"/>
<line x1="466.50" y1="552.00" x2="479.50" y2="552.00" stroke="#111" stroke-width="1.5"/>
<circle cx="468.75" cy="550.00" r="2.95" fill="#9a1638" stroke="#1e0408" stroke-width="1.45"/>
<circle cx="477.40" cy="549.50" r="2.95" fill="#9a1638" stroke="#1e0408" stroke-width="1.45"/>
<circle cx="474.80" cy="552.40" r="2.95" fill="#9a1638" stroke="#1e0408" stroke-width="1.45"/>
<circle cx="470.70" cy="557.50" r="2.95" fill="#9a1638" stroke="#1e0408" stroke-width="1.45"/>
<line x1="488.00" y1="581.30" x2="501.00" y2="581.30" stroke="#111" stroke-width="1.5"/>
<circle cx="489.70" cy="581.00" r="2.95" fill="#2e3650" stroke="#0a0e1a" stroke-width="1.45"/>
<circle cx="494.40" cy="581.70" r="2.95" fill="#2e3650" stroke="#0a0e1a" stroke-width="1.45"/>
<circle cx="497.80" cy="578.40" r="2.95" fill="#2e3650" stroke="#0a0e1a" stroke-width="1.45"/>
<circle cx="492.00" cy="581.50" r="2.95" fill="#2e3650" stroke="#0a0e1a" stroke-width="1.45"/>
<text x="428.30" y="486.90" font-size="10.0" text-anchor="middle" fill="#151515">**</text>
<line x1="421.10" y1="486.50" x2="435.00" y2="486.50" stroke="#111" stroke-width="1.55"/>
<text x="483.20" y="534.80" font-size="10.0" text-anchor="middle" fill="#151515">**</text>
<line x1="475.80" y1="534.80" x2="489.90" y2="534.80" stroke="#111" stroke-width="1.55"/>
<text x="11.60" y="629.00" font-size="14.8" text-anchor="start" fill="#111" textLength="10.71" lengthAdjust="spacingAndGlyphs" font-weight="bold">G</text>
<line x1="61.50" y1="652.70" x2="61.50" y2="771.70" stroke="#111" stroke-width="1.85"/>
<line x1="60.70" y1="770.90" x2="232.30" y2="770.90" stroke="#111" stroke-width="1.85"/>
<line x1="58.30" y1="657.62" x2="61.50" y2="657.62" stroke="#111" stroke-width="1.55"/>
<text x="54.90" y="660.82" font-size="9.0" text-anchor="end" fill="#0a0a0a" textLength="23.4" lengthAdjust="spacingAndGlyphs">0.020</text>
<line x1="58.30" y1="685.94" x2="61.50" y2="685.94" stroke="#111" stroke-width="1.55"/>
<text x="54.90" y="689.14" font-size="9.0" text-anchor="end" fill="#0a0a0a" textLength="23.4" lengthAdjust="spacingAndGlyphs">0.015</text>
<line x1="58.30" y1="714.26" x2="61.50" y2="714.26" stroke="#111" stroke-width="1.55"/>
<text x="54.90" y="717.46" font-size="9.0" text-anchor="end" fill="#0a0a0a" textLength="23.4" lengthAdjust="spacingAndGlyphs">0.010</text>
<line x1="58.30" y1="742.58" x2="61.50" y2="742.58" stroke="#111" stroke-width="1.55"/>
<text x="54.90" y="745.78" font-size="9.0" text-anchor="end" fill="#0a0a0a" textLength="23.4" lengthAdjust="spacingAndGlyphs">0.005</text>
<line x1="58.30" y1="770.90" x2="61.50" y2="770.90" stroke="#111" stroke-width="1.55"/>
<text x="54.90" y="774.10" font-size="9.0" text-anchor="end" fill="#0a0a0a" textLength="23.4" lengthAdjust="spacingAndGlyphs">0.000</text>
<text x="25.30" y="712.40" font-size="11.0" text-anchor="middle" fill="#0a0a0a" textLength="100" lengthAdjust="spacingAndGlyphs" transform="rotate(-90 25.30 712.40)">Rel. cytokine RNA level</text>
<line x1="146.80" y1="770.90" x2="146.80" y2="774.00" stroke="#111" stroke-width="1.45"/>
<text x="146.80" y="785.60" font-size="9.1" text-anchor="middle" fill="#0a0a0a">IL10</text>
<polyline points="82.3,753.8 82.3,643.8 168.3,643.8 168.3,652.2" fill="none" stroke="#333" stroke-width="1.45"/>
<text x="125.20" y="643.00" font-size="9.5" text-anchor="middle" fill="#222">*</text>
<line x1="76.00" y1="762.00" x2="97.00" y2="762.00" stroke="#111" stroke-width="1.5"/>
<line x1="83.00" y1="760.00" x2="83.00" y2="764.00" stroke="#111" stroke-width="1.45"/>
<circle cx="72.00" cy="763.10" r="2.95" fill="#a01a3d" stroke="#1e0408" stroke-width="1.45"/>
<circle cx="79.20" cy="766.20" r="2.95" fill="#a01a3d" stroke="#1e0408" stroke-width="1.45"/>
<circle cx="86.50" cy="764.60" r="2.95" fill="#a01a3d" stroke="#1e0408" stroke-width="1.45"/>
<circle cx="94.20" cy="758.90" r="2.95" fill="#a01a3d" stroke="#1e0408" stroke-width="1.45"/>
<line x1="126.50" y1="750.00" x2="126.50" y2="764.20" stroke="#111" stroke-width="1.5"/>
<line x1="121.00" y1="750.00" x2="132.00" y2="750.00" stroke="#111" stroke-width="1.5"/>
<line x1="121.00" y1="764.20" x2="132.00" y2="764.20" stroke="#111" stroke-width="1.5"/>
<line x1="111.50" y1="757.70" x2="140.00" y2="757.70" stroke="#111" stroke-width="1.5"/>
<circle cx="121.50" cy="749.20" r="2.95" fill="#d4a69e" stroke="#241008" stroke-width="1.45"/>
<circle cx="134.60" cy="754.60" r="2.95" fill="#d4a69e" stroke="#241008" stroke-width="1.45"/>
<circle cx="130.00" cy="761.50" r="2.95" fill="#d4a69e" stroke="#241008" stroke-width="1.45"/>
<circle cx="121.50" cy="764.20" r="2.95" fill="#d4a69e" stroke="#241008" stroke-width="1.45"/>
<line x1="168.50" y1="670.50" x2="168.50" y2="715.40" stroke="#111" stroke-width="1.5"/>
<line x1="161.50" y1="670.50" x2="175.40" y2="670.50" stroke="#111" stroke-width="1.5"/>
<line x1="161.50" y1="715.40" x2="175.40" y2="715.40" stroke="#111" stroke-width="1.5"/>
<line x1="154.60" y1="693.80" x2="182.30" y2="693.80" stroke="#111" stroke-width="1.5"/>
<circle cx="168.50" cy="661.50" r="2.95" fill="#444e76" stroke="#05060c" stroke-width="1.45"/>
<circle cx="168.50" cy="693.80" r="2.95" fill="#444e76" stroke="#05060c" stroke-width="1.45"/>
<circle cx="168.50" cy="703.10" r="2.95" fill="#444e76" stroke="#05060c" stroke-width="1.45"/>
<circle cx="168.50" cy="715.40" r="2.95" fill="#444e76" stroke="#05060c" stroke-width="1.45"/>
<line x1="211.20" y1="708.00" x2="211.20" y2="720.00" stroke="#111" stroke-width="1.45"/>
<line x1="197.30" y1="714.20" x2="225.20" y2="714.20" stroke="#111" stroke-width="1.5"/>
<circle cx="207.10" cy="706.20" r="2.95" fill="#a8aec2" stroke="#0c0f18" stroke-width="1.45"/>
<circle cx="215.20" cy="708.50" r="2.95" fill="#a8aec2" stroke="#0c0f18" stroke-width="1.45"/>
<circle cx="206.80" cy="721.40" r="2.95" fill="#a8aec2" stroke="#0c0f18" stroke-width="1.45"/>
<circle cx="215.20" cy="720.20" r="2.95" fill="#a8aec2" stroke="#0c0f18" stroke-width="1.45"/>
<circle cx="190.90" cy="644.70" r="3.15" fill="#444e76" stroke="#05060c" stroke-width="1.6"/>
<text x="198.10" y="647.80" font-size="9.2" text-anchor="start" fill="#0a0a0a" textLength="73.6" lengthAdjust="spacingAndGlyphs">IgH-hEBI2 CD19+</text>
<circle cx="190.90" cy="658.00" r="3.15" fill="#a8aec2" stroke="#0c0f18" stroke-width="1.6"/>
<text x="198.10" y="661.10" font-size="9.2" text-anchor="start" fill="#0a0a0a" textLength="71.5" lengthAdjust="spacingAndGlyphs">IgH-hEBI2 CD19-</text>
<circle cx="190.90" cy="671.80" r="3.15" fill="#a01a3d" stroke="#1e0408" stroke-width="1.6"/>
<text x="198.10" y="674.90" font-size="9.2" text-anchor="start" fill="#0a0a0a" textLength="46.6" lengthAdjust="spacingAndGlyphs">WT CD19+</text>
<circle cx="190.90" cy="685.20" r="3.15" fill="#d4a69e" stroke="#241008" stroke-width="1.6"/>
<text x="198.10" y="688.30" font-size="9.2" text-anchor="start" fill="#0a0a0a" textLength="44.2" lengthAdjust="spacingAndGlyphs">WT CD19-</text>
</g>
<g fill="#000"><rect x="0" y="0" width="520" height="1.5"/><rect x="0" y="0" width="1.5" height="796"/><rect x="518.6" y="0" width="1.4" height="796"/><rect x="0" y="794.6" width="520" height="1.4"/></g>
</svg>
</body></html>
